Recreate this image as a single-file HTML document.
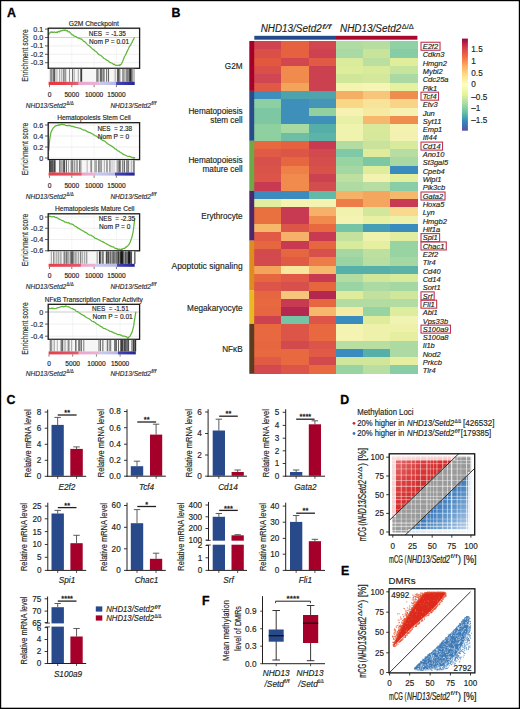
<!DOCTYPE html><html><head><meta charset="utf-8"><style>html,body{margin:0;padding:0;background:#fff;}svg{display:block;font-family:"Liberation Sans", sans-serif;}</style></head><body>
<svg width="520" height="709" viewBox="0 0 520 709">
<rect x="0" y="0" width="520" height="709" fill="#FFFFFF"/>
<text x="93.8" y="25.79" font-size="7.2" text-anchor="middle" fill="#231F20" stroke="#231F20" stroke-width="0.16" textLength="50" lengthAdjust="spacingAndGlyphs">G2M Checkpoint</text>
<line x1="48.2" y1="29.1" x2="139.6" y2="29.1" stroke="#E4E4E4" stroke-width="0.6"/>
<line x1="48.2" y1="37.5" x2="139.6" y2="37.5" stroke="#E4E4E4" stroke-width="0.6"/>
<line x1="48.2" y1="45.9" x2="139.6" y2="45.9" stroke="#E4E4E4" stroke-width="0.6"/>
<line x1="48.2" y1="54.3" x2="139.6" y2="54.3" stroke="#E4E4E4" stroke-width="0.6"/>
<line x1="48.2" y1="62.7" x2="139.6" y2="62.7" stroke="#E4E4E4" stroke-width="0.6"/>
<line x1="49.5" y1="28.2" x2="49.5" y2="68.3" stroke="#ECECEC" stroke-width="0.6"/>
<line x1="71.8" y1="28.2" x2="71.8" y2="68.3" stroke="#ECECEC" stroke-width="0.6"/>
<line x1="94.1" y1="28.2" x2="94.1" y2="68.3" stroke="#ECECEC" stroke-width="0.6"/>
<line x1="116.4" y1="28.2" x2="116.4" y2="68.3" stroke="#ECECEC" stroke-width="0.6"/>
<line x1="48.2" y1="37.5" x2="139.6" y2="37.5" stroke="#CFCFCF" stroke-width="0.9"/>
<path d="M48.8,33.85 L48.93,34.26 L49.07,33.98 L49.24,33.31 L49.44,33.21 L49.69,32.89 L49.99,32.79 L50.36,32.68 L50.8,31.97 L51.35,31.83 L52.01,32.46 L52.75,32.15 L53.53,32.45 L54.33,31.89 L55.11,32.28 L55.85,32.51 L56.5,32.08 L57.07,32.56 L57.6,32.41 L58.1,31.58 L58.57,31.42 L59.02,31.67 L59.47,31.83 L59.93,31.24 L60.4,30.97 L60.88,31.01 L61.36,30.56 L61.83,30.57 L62.31,30.61 L62.78,30.54 L63.25,30.23 L63.73,30.17 L64.2,30.14 L64.66,30.33 L65.1,30.2 L65.54,30.01 L65.98,30.72 L66.43,30.6 L66.91,30.82 L67.43,30.66 L68,31.59 L68.62,31.87 L69.26,31.75 L69.95,32.47 L70.66,33.37 L71.4,33.98 L72.17,34.78 L72.97,34.96 L73.8,35.83 L74.67,36.19 L75.59,36.35 L76.55,37.01 L77.53,37.67 L78.53,38.09 L79.53,38.3 L80.52,38.9 L81.5,39.06 L82.46,39.91 L83.42,41.1 L84.39,41.59 L85.35,42.23 L86.31,43.38 L87.28,44.37 L88.24,45.2 L89.2,45.8 L90.16,46.68 L91.12,47.59 L92.09,48.66 L93.05,49.31 L94.01,50.07 L94.98,50.98 L95.94,51.44 L96.9,52.25 L97.86,53.56 L98.83,54.56 L99.79,55 L100.75,55.58 L101.71,56.13 L102.67,57.11 L103.64,58.2 L104.6,58.72 L105.58,59.22 L106.59,60.19 L107.61,60.38 L108.63,61.29 L109.62,62.29 L110.58,62.6 L111.48,63.04 L112.3,63.36 L113.04,63.97 L113.72,64.62 L114.35,64.13 L114.94,64.97 L115.49,65.18 L116.03,65.36 L116.56,65.35 L117.1,65.47 L117.64,65.28 L118.16,65.35 L118.68,65.25 L119.17,64.92 L119.66,65.47 L120.12,65.06 L120.57,64.5 L121,64.38 L121.4,63.89 L121.75,63.21 L122.08,62.53 L122.4,61.94 L122.72,61.21 L123.05,60.36 L123.4,59.36 L123.8,58.12 L124.24,57.34 L124.7,56.28 L125.19,55.53 L125.69,54.64 L126.2,53.48 L126.71,52.38 L127.21,51.34 L127.7,49.9 L128.18,49.45 L128.67,48.42 L129.16,47.09 L129.65,46.2 L130.13,45.38 L130.6,45.17 L131.06,43.97 L131.5,43.07 L131.94,42.66 L132.4,41.59 L132.85,40.51 L133.29,39.75 L133.7,39.26 L134.06,38.27 L134.37,37.77 L134.6,37.67" fill="none" stroke="#5FB636" stroke-width="1.25" stroke-linejoin="round"/>
<rect x="48.2" y="28.2" width="91.4" height="40.1" fill="none" stroke="#1A1A1A" stroke-width="1.3"/>
<line x1="45" y1="29.1" x2="48.2" y2="29.1" stroke="#333" stroke-width="0.8"/>
<text x="43.2" y="31.69" font-size="7.2" text-anchor="end" fill="#2A2A2A" stroke="#2A2A2A" stroke-width="0.16">0.1</text>
<line x1="45" y1="37.5" x2="48.2" y2="37.5" stroke="#333" stroke-width="0.8"/>
<text x="43.2" y="40.09" font-size="7.2" text-anchor="end" fill="#2A2A2A" stroke="#2A2A2A" stroke-width="0.16">0.0</text>
<line x1="45" y1="45.9" x2="48.2" y2="45.9" stroke="#333" stroke-width="0.8"/>
<text x="43.2" y="48.49" font-size="7.2" text-anchor="end" fill="#2A2A2A" stroke="#2A2A2A" stroke-width="0.16">-0.1</text>
<line x1="45" y1="54.3" x2="48.2" y2="54.3" stroke="#333" stroke-width="0.8"/>
<text x="43.2" y="56.89" font-size="7.2" text-anchor="end" fill="#2A2A2A" stroke="#2A2A2A" stroke-width="0.16">-0.2</text>
<line x1="45" y1="62.7" x2="48.2" y2="62.7" stroke="#333" stroke-width="0.8"/>
<text x="43.2" y="65.29" font-size="7.2" text-anchor="end" fill="#2A2A2A" stroke="#2A2A2A" stroke-width="0.16">-0.3</text>
<text x="24.8" y="58.5" font-size="8.6" text-anchor="middle" fill="#333" stroke="#333" stroke-width="0.16" textLength="52.5" lengthAdjust="spacingAndGlyphs" transform="rotate(-90 24.8 55.4)">Enrichment score</text>
<text x="88.8" y="35.72" font-size="7" text-anchor="start" fill="#222" stroke="#222" stroke-width="0.16" textLength="37" lengthAdjust="spacingAndGlyphs">NES&#160;&#160;= -1.35</text>
<text x="89.1" y="43.72" font-size="7" text-anchor="start" fill="#222" stroke="#222" stroke-width="0.16" textLength="40" lengthAdjust="spacingAndGlyphs">Nom P = 0.01</text>
<rect x="48.7" y="68.9" width="86.4" height="12.9" fill="#F6F6F6"/>
<rect x="49.87" y="68.9" width="0.95" height="12.9" fill="rgb(132,132,132)"/>
<rect x="53.47" y="68.9" width="0.73" height="12.9" fill="rgb(105,105,105)"/>
<rect x="54.15" y="68.9" width="0.8" height="12.9" fill="rgb(67,67,67)"/>
<rect x="55.55" y="68.9" width="0.85" height="12.9" fill="rgb(144,144,144)"/>
<rect x="51.67" y="68.9" width="0.54" height="12.9" fill="rgb(144,144,144)"/>
<rect x="51.56" y="68.9" width="0.72" height="12.9" fill="rgb(47,47,47)"/>
<rect x="53.46" y="68.9" width="0.74" height="12.9" fill="rgb(67,67,67)"/>
<rect x="56.88" y="68.9" width="0.71" height="12.9" fill="rgb(192,192,192)"/>
<rect x="59.1" y="68.9" width="0.65" height="12.9" fill="rgb(144,144,144)"/>
<rect x="59.4" y="68.9" width="0.84" height="12.9" fill="rgb(172,172,172)"/>
<rect x="62.89" y="68.9" width="0.7" height="12.9" fill="rgb(105,105,105)"/>
<rect x="61.09" y="68.9" width="0.54" height="12.9" fill="rgb(144,144,144)"/>
<rect x="63.39" y="68.9" width="0.5" height="12.9" fill="rgb(144,144,144)"/>
<rect x="61.62" y="68.9" width="0.55" height="12.9" fill="rgb(172,172,172)"/>
<rect x="63.71" y="68.9" width="0.85" height="12.9" fill="rgb(105,105,105)"/>
<rect x="65.07" y="68.9" width="0.91" height="12.9" fill="rgb(189,189,189)"/>
<rect x="72.29" y="68.9" width="0.59" height="12.9" fill="rgb(168,168,168)"/>
<rect x="65.49" y="68.9" width="0.7" height="12.9" fill="rgb(110,110,110)"/>
<rect x="72.33" y="68.9" width="0.95" height="12.9" fill="rgb(139,139,139)"/>
<rect x="69.21" y="68.9" width="0.75" height="12.9" fill="rgb(110,110,110)"/>
<rect x="80.46" y="68.9" width="0.93" height="12.9" fill="rgb(122,122,122)"/>
<rect x="74.07" y="68.9" width="0.84" height="12.9" fill="rgb(181,181,181)"/>
<rect x="72.45" y="68.9" width="0.53" height="12.9" fill="rgb(72,72,72)"/>
<rect x="77.7" y="68.9" width="0.97" height="12.9" fill="rgb(181,181,181)"/>
<rect x="80.46" y="68.9" width="0.84" height="12.9" fill="rgb(72,72,72)"/>
<rect x="78.01" y="68.9" width="0.9" height="12.9" fill="rgb(181,181,181)"/>
<rect x="81.29" y="68.9" width="0.84" height="12.9" fill="rgb(23,23,23)"/>
<rect x="96.76" y="68.9" width="0.87" height="12.9" fill="rgb(110,110,110)"/>
<rect x="96.24" y="68.9" width="0.99" height="12.9" fill="rgb(168,168,168)"/>
<rect x="97.49" y="68.9" width="0.98" height="12.9" fill="rgb(96,96,96)"/>
<rect x="96.11" y="68.9" width="0.69" height="12.9" fill="rgb(139,139,139)"/>
<rect x="98.54" y="68.9" width="0.84" height="12.9" fill="rgb(168,168,168)"/>
<rect x="101.15" y="68.9" width="0.6" height="12.9" fill="rgb(36,36,36)"/>
<rect x="104.11" y="68.9" width="0.55" height="12.9" fill="rgb(97,97,97)"/>
<rect x="106.44" y="68.9" width="0.73" height="12.9" fill="rgb(97,97,97)"/>
<rect x="101.82" y="68.9" width="0.99" height="12.9" fill="rgb(168,168,168)"/>
<rect x="106.11" y="68.9" width="0.62" height="12.9" fill="rgb(97,97,97)"/>
<rect x="100.53" y="68.9" width="0.51" height="12.9" fill="rgb(56,56,56)"/>
<rect x="103.7" y="68.9" width="0.73" height="12.9" fill="rgb(168,168,168)"/>
<rect x="103.12" y="68.9" width="0.62" height="12.9" fill="rgb(97,97,97)"/>
<rect x="100.46" y="68.9" width="0.78" height="12.9" fill="rgb(56,56,56)"/>
<rect x="102.82" y="68.9" width="0.51" height="12.9" fill="rgb(97,97,97)"/>
<rect x="108.24" y="68.9" width="0.84" height="12.9" fill="rgb(139,139,139)"/>
<rect x="115.32" y="68.9" width="0.82" height="12.9" fill="rgb(168,168,168)"/>
<rect x="113.93" y="68.9" width="0.53" height="12.9" fill="rgb(189,189,189)"/>
<rect x="108.38" y="68.9" width="0.57" height="12.9" fill="rgb(96,96,96)"/>
<rect x="108.13" y="68.9" width="0.72" height="12.9" fill="rgb(96,96,96)"/>
<rect x="117.43" y="68.9" width="0.76" height="12.9" fill="rgb(88,88,88)"/>
<rect x="117.36" y="68.9" width="0.56" height="12.9" fill="rgb(45,45,45)"/>
<rect x="126.08" y="68.9" width="0.65" height="12.9" fill="rgb(80,80,80)"/>
<rect x="122.46" y="68.9" width="0.62" height="12.9" fill="rgb(80,80,80)"/>
<rect x="124.44" y="68.9" width="0.99" height="12.9" fill="rgb(126,126,126)"/>
<rect x="129.12" y="68.9" width="0.52" height="12.9" fill="rgb(34,34,34)"/>
<rect x="132.69" y="68.9" width="0.72" height="12.9" fill="rgb(126,126,126)"/>
<rect x="118.76" y="68.9" width="0.86" height="12.9" fill="rgb(160,160,160)"/>
<rect x="132.07" y="68.9" width="0.99" height="12.9" fill="rgb(126,126,126)"/>
<rect x="127.15" y="68.9" width="0.51" height="12.9" fill="rgb(12,12,12)"/>
<rect x="131.73" y="68.9" width="0.89" height="12.9" fill="rgb(80,80,80)"/>
<rect x="132.13" y="68.9" width="0.87" height="12.9" fill="rgb(126,126,126)"/>
<rect x="130.69" y="68.9" width="0.52" height="12.9" fill="rgb(12,12,12)"/>
<rect x="130.88" y="68.9" width="0.82" height="12.9" fill="rgb(160,160,160)"/>
<rect x="128.23" y="68.9" width="0.9" height="12.9" fill="rgb(160,160,160)"/>
<rect x="123.02" y="68.9" width="0.57" height="12.9" fill="rgb(12,12,12)"/>
<rect x="128.56" y="68.9" width="0.55" height="12.9" fill="rgb(126,126,126)"/>
<rect x="118.09" y="68.9" width="0.61" height="12.9" fill="rgb(80,80,80)"/>
<rect x="129.79" y="68.9" width="0.99" height="12.9" fill="rgb(12,12,12)"/>
<rect x="128.86" y="68.9" width="0.59" height="12.9" fill="rgb(34,34,34)"/>
<rect x="131.56" y="68.9" width="0.72" height="12.9" fill="rgb(34,34,34)"/>
<rect x="118.56" y="68.9" width="0.95" height="12.9" fill="rgb(34,34,34)"/>
<rect x="131.94" y="68.9" width="0.94" height="12.9" fill="rgb(160,160,160)"/>
<rect x="119.55" y="68.9" width="0.97" height="12.9" fill="rgb(160,160,160)"/>
<rect x="122.93" y="68.9" width="0.95" height="12.9" fill="rgb(160,160,160)"/>
<rect x="133.84" y="68.9" width="0.95" height="12.9" fill="rgb(180,180,180)"/>
<linearGradient id="cb1" x1="0" x2="1" y1="0" y2="0"><stop offset="0" stop-color="#E8363F"/><stop offset="0.17" stop-color="#E5404A"/><stop offset="0.34" stop-color="#E06474"/><stop offset="0.35" stop-color="#EAA6CC"/><stop offset="0.58" stop-color="#E8B6D6"/><stop offset="0.59" stop-color="#CBCBEE"/><stop offset="0.78" stop-color="#B8B8E6"/><stop offset="0.79" stop-color="#4646B0"/><stop offset="1" stop-color="#24249A"/></linearGradient>
<rect x="48.6" y="81.8" width="86.1" height="3.2" fill="url(#cb1)"/>
<line x1="49.5" y1="85" x2="49.5" y2="87.2" stroke="#444" stroke-width="0.7"/>
<text x="49.5" y="96.58" font-size="6.6" text-anchor="middle" fill="#222" stroke="#222" stroke-width="0.16">0</text>
<line x1="71.8" y1="85" x2="71.8" y2="87.2" stroke="#444" stroke-width="0.7"/>
<text x="71.8" y="96.58" font-size="6.6" text-anchor="middle" fill="#222" stroke="#222" stroke-width="0.16">5000</text>
<line x1="94.1" y1="85" x2="94.1" y2="87.2" stroke="#444" stroke-width="0.7"/>
<text x="94.1" y="96.58" font-size="6.6" text-anchor="middle" fill="#222" stroke="#222" stroke-width="0.16">10000</text>
<line x1="116.4" y1="85" x2="116.4" y2="87.2" stroke="#444" stroke-width="0.7"/>
<text x="116.4" y="96.58" font-size="6.6" text-anchor="middle" fill="#222" stroke="#222" stroke-width="0.16">15000</text>
<text x="25.8" y="107.7" font-size="7" font-style="italic" fill="#2A2A2A" textLength="40.4" lengthAdjust="spacingAndGlyphs" stroke="#2A2A2A" stroke-width="0.15">NHD13/Setd2</text>
<text x="66.6" y="104.8" font-size="4.8" fill="#2A2A2A" textLength="7" lengthAdjust="spacingAndGlyphs" stroke="#2A2A2A" stroke-width="0.15">&#916;/&#916;</text>
<text x="110.4" y="107.7" font-size="7" font-style="italic" fill="#2A2A2A" textLength="40.4" lengthAdjust="spacingAndGlyphs" stroke="#2A2A2A" stroke-width="0.15">NHD13/Setd2</text>
<text x="151.2" y="104.8" font-size="4.8" font-style="italic" fill="#2A2A2A" textLength="5" lengthAdjust="spacingAndGlyphs" stroke="#2A2A2A" stroke-width="0.15">f/f</text>
<text x="94" y="120.19" font-size="7.2" text-anchor="middle" fill="#231F20" stroke="#231F20" stroke-width="0.16" textLength="73.7" lengthAdjust="spacingAndGlyphs">Hematopoiesis Stem Cell</text>
<line x1="48.2" y1="125" x2="139.6" y2="125" stroke="#E4E4E4" stroke-width="0.6"/>
<line x1="48.2" y1="136" x2="139.6" y2="136" stroke="#E4E4E4" stroke-width="0.6"/>
<line x1="48.2" y1="147" x2="139.6" y2="147" stroke="#E4E4E4" stroke-width="0.6"/>
<line x1="48.2" y1="158" x2="139.6" y2="158" stroke="#E4E4E4" stroke-width="0.6"/>
<line x1="49.5" y1="122.7" x2="49.5" y2="159.6" stroke="#ECECEC" stroke-width="0.6"/>
<line x1="71.8" y1="122.7" x2="71.8" y2="159.6" stroke="#ECECEC" stroke-width="0.6"/>
<line x1="94.1" y1="122.7" x2="94.1" y2="159.6" stroke="#ECECEC" stroke-width="0.6"/>
<line x1="116.4" y1="122.7" x2="116.4" y2="159.6" stroke="#ECECEC" stroke-width="0.6"/>
<path d="M48.8,150.39 L48.88,149.4 L48.99,147.36 L49.1,145.8 L49.24,144.66 L49.4,142.76 L49.58,140.92 L49.78,138.96 L50,137.73 L50.22,136.43 L50.45,135.15 L50.68,133.6 L50.93,132.66 L51.23,131.55 L51.58,130.8 L52,130.08 L52.5,129.21 L53.1,128.14 L53.8,127.41 L54.57,126.69 L55.39,126 L56.24,125.57 L57.1,125.55 L57.94,125.12 L58.75,124.9 L59.49,125.11 L60.17,124.69 L60.82,124.66 L61.48,124.39 L62.2,124.27 L63,124.6 L63.92,124.56 L65,125.01 L66.26,125.57 L67.69,125.52 L69.23,125.37 L70.86,126.23 L72.54,126.47 L74.23,126.79 L75.89,127.34 L77.5,127.69 L79.06,128.22 L80.62,128.43 L82.19,129.53 L83.75,130.16 L85.31,130.21 L86.88,131.4 L88.44,132.11 L90,132.67 L91.56,133.51 L93.12,134.31 L94.69,135.51 L96.25,136.05 L97.81,137.23 L99.38,137.78 L100.94,139.17 L102.5,140.17 L104.08,140.86 L105.68,142.05 L107.3,143.47 L108.91,144.48 L110.5,145.45 L112.05,146.36 L113.56,147.52 L115,148.81 L116.39,149.32 L117.73,150.82 L119.04,151.19 L120.31,152.54 L121.54,152.84 L122.73,154.09 L123.89,154.55 L125,154.98 L126.09,155.5 L127.18,156.03 L128.23,156.34 L129.24,156.42 L130.19,156.6 L131.06,157.07 L131.83,157.61 L132.5,157.55 L133.04,157.27 L133.47,157.99 L133.81,158 L134.07,158.21 L134.27,157.67 L134.43,158.14 L134.57,157.62 L134.7,158.12" fill="none" stroke="#5FB636" stroke-width="1.25" stroke-linejoin="round"/>
<rect x="48.2" y="122.7" width="91.4" height="36.9" fill="none" stroke="#1A1A1A" stroke-width="1.3"/>
<line x1="45" y1="125" x2="48.2" y2="125" stroke="#333" stroke-width="0.8"/>
<text x="43.2" y="127.59" font-size="7.2" text-anchor="end" fill="#2A2A2A" stroke="#2A2A2A" stroke-width="0.16">0.6</text>
<line x1="45" y1="136" x2="48.2" y2="136" stroke="#333" stroke-width="0.8"/>
<text x="43.2" y="138.59" font-size="7.2" text-anchor="end" fill="#2A2A2A" stroke="#2A2A2A" stroke-width="0.16">0.4</text>
<line x1="45" y1="147" x2="48.2" y2="147" stroke="#333" stroke-width="0.8"/>
<text x="43.2" y="149.59" font-size="7.2" text-anchor="end" fill="#2A2A2A" stroke="#2A2A2A" stroke-width="0.16">0.2</text>
<line x1="45" y1="158" x2="48.2" y2="158" stroke="#333" stroke-width="0.8"/>
<text x="43.2" y="160.59" font-size="7.2" text-anchor="end" fill="#2A2A2A" stroke="#2A2A2A" stroke-width="0.16">0</text>
<text x="24.8" y="152.1" font-size="8.6" text-anchor="middle" fill="#333" stroke="#333" stroke-width="0.16" textLength="52.5" lengthAdjust="spacingAndGlyphs" transform="rotate(-90 24.8 149)">Enrichment score</text>
<text x="97.5" y="130.72" font-size="7" text-anchor="start" fill="#222" stroke="#222" stroke-width="0.16" textLength="34.5" lengthAdjust="spacingAndGlyphs">NES&#160;&#160;= 2.38</text>
<text x="97.8" y="138.52" font-size="7" text-anchor="start" fill="#222" stroke="#222" stroke-width="0.16" textLength="31.3" lengthAdjust="spacingAndGlyphs">Nom P = 0</text>
<rect x="48.7" y="160.2" width="86.4" height="12.3" fill="#F6F6F6"/>
<rect x="50.04" y="160.2" width="0.68" height="12.3" fill="rgb(156,156,156)"/>
<rect x="52.88" y="160.2" width="0.59" height="12.3" fill="rgb(156,156,156)"/>
<rect x="51.05" y="160.2" width="0.78" height="12.3" fill="rgb(120,120,120)"/>
<rect x="49.3" y="160.2" width="0.77" height="12.3" fill="rgb(156,156,156)"/>
<rect x="54.22" y="160.2" width="0.87" height="12.3" fill="rgb(23,23,23)"/>
<rect x="51.64" y="160.2" width="0.76" height="12.3" fill="rgb(23,23,23)"/>
<rect x="49.59" y="160.2" width="0.84" height="12.3" fill="rgb(0,0,0)"/>
<rect x="53.27" y="160.2" width="0.95" height="12.3" fill="rgb(120,120,120)"/>
<rect x="54.86" y="160.2" width="0.76" height="12.3" fill="rgb(156,156,156)"/>
<rect x="52.44" y="160.2" width="0.82" height="12.3" fill="rgb(120,120,120)"/>
<rect x="53.69" y="160.2" width="0.81" height="12.3" fill="rgb(23,23,23)"/>
<rect x="54.8" y="160.2" width="0.84" height="12.3" fill="rgb(120,120,120)"/>
<rect x="52.57" y="160.2" width="0.72" height="12.3" fill="rgb(156,156,156)"/>
<rect x="51.79" y="160.2" width="0.68" height="12.3" fill="rgb(23,23,23)"/>
<rect x="49.5" y="160.2" width="0.82" height="12.3" fill="rgb(23,23,23)"/>
<rect x="64.22" y="160.2" width="0.81" height="12.3" fill="rgb(177,177,177)"/>
<rect x="74.33" y="160.2" width="0.91" height="12.3" fill="rgb(114,114,114)"/>
<rect x="68.15" y="160.2" width="0.82" height="12.3" fill="rgb(150,150,150)"/>
<rect x="66.19" y="160.2" width="0.84" height="12.3" fill="rgb(177,177,177)"/>
<rect x="63.42" y="160.2" width="0.8" height="12.3" fill="rgb(77,77,77)"/>
<rect x="73.38" y="160.2" width="0.58" height="12.3" fill="rgb(177,177,177)"/>
<rect x="71.9" y="160.2" width="0.76" height="12.3" fill="rgb(114,114,114)"/>
<rect x="63.57" y="160.2" width="0.97" height="12.3" fill="rgb(150,150,150)"/>
<rect x="59.27" y="160.2" width="0.89" height="12.3" fill="rgb(60,60,60)"/>
<rect x="65.94" y="160.2" width="0.86" height="12.3" fill="rgb(150,150,150)"/>
<rect x="63.89" y="160.2" width="0.61" height="12.3" fill="rgb(77,77,77)"/>
<rect x="64.51" y="160.2" width="0.61" height="12.3" fill="rgb(77,77,77)"/>
<rect x="63.88" y="160.2" width="0.8" height="12.3" fill="rgb(77,77,77)"/>
<rect x="66.1" y="160.2" width="0.54" height="12.3" fill="rgb(60,60,60)"/>
<rect x="63.39" y="160.2" width="0.56" height="12.3" fill="rgb(77,77,77)"/>
<rect x="70.75" y="160.2" width="0.71" height="12.3" fill="rgb(60,60,60)"/>
<rect x="62.04" y="160.2" width="0.71" height="12.3" fill="rgb(150,150,150)"/>
<rect x="60.62" y="160.2" width="0.84" height="12.3" fill="rgb(77,77,77)"/>
<rect x="71.83" y="160.2" width="0.51" height="12.3" fill="rgb(77,77,77)"/>
<rect x="59.56" y="160.2" width="0.79" height="12.3" fill="rgb(150,150,150)"/>
<rect x="80.18" y="160.2" width="0.63" height="12.3" fill="rgb(110,110,110)"/>
<rect x="98.53" y="160.2" width="0.83" height="12.3" fill="rgb(168,168,168)"/>
<rect x="94.11" y="160.2" width="0.57" height="12.3" fill="rgb(168,168,168)"/>
<rect x="81.37" y="160.2" width="0.61" height="12.3" fill="rgb(168,168,168)"/>
<rect x="91.23" y="160.2" width="0.85" height="12.3" fill="rgb(110,110,110)"/>
<rect x="98.99" y="160.2" width="0.74" height="12.3" fill="rgb(96,96,96)"/>
<rect x="95.92" y="160.2" width="0.84" height="12.3" fill="rgb(139,139,139)"/>
<rect x="79.08" y="160.2" width="0.93" height="12.3" fill="rgb(110,110,110)"/>
<rect x="76.51" y="160.2" width="0.83" height="12.3" fill="rgb(110,110,110)"/>
<rect x="98" y="160.2" width="0.73" height="12.3" fill="rgb(110,110,110)"/>
<rect x="90.04" y="160.2" width="0.87" height="12.3" fill="rgb(168,168,168)"/>
<rect x="76.86" y="160.2" width="0.77" height="12.3" fill="rgb(139,139,139)"/>
<rect x="86.71" y="160.2" width="0.84" height="12.3" fill="rgb(168,168,168)"/>
<rect x="94.83" y="160.2" width="0.63" height="12.3" fill="rgb(96,96,96)"/>
<rect x="99.48" y="160.2" width="0.58" height="12.3" fill="rgb(189,189,189)"/>
<rect x="99.99" y="160.2" width="0.53" height="12.3" fill="rgb(110,110,110)"/>
<rect x="126.23" y="160.2" width="0.98" height="12.3" fill="rgb(99,99,99)"/>
<rect x="101.07" y="160.2" width="0.74" height="12.3" fill="rgb(185,185,185)"/>
<rect x="120.05" y="160.2" width="0.74" height="12.3" fill="rgb(99,99,99)"/>
<rect x="109.44" y="160.2" width="0.98" height="12.3" fill="rgb(99,99,99)"/>
<rect x="119.15" y="160.2" width="0.9" height="12.3" fill="rgb(84,84,84)"/>
<rect x="124.07" y="160.2" width="0.88" height="12.3" fill="rgb(84,84,84)"/>
<rect x="122.44" y="160.2" width="0.96" height="12.3" fill="rgb(99,99,99)"/>
<rect x="126.88" y="160.2" width="0.93" height="12.3" fill="rgb(99,99,99)"/>
<rect x="113.74" y="160.2" width="0.57" height="12.3" fill="rgb(162,162,162)"/>
<rect x="111.72" y="160.2" width="0.64" height="12.3" fill="rgb(162,162,162)"/>
<rect x="109.03" y="160.2" width="0.62" height="12.3" fill="rgb(162,162,162)"/>
<rect x="116.73" y="160.2" width="0.7" height="12.3" fill="rgb(99,99,99)"/>
<rect x="101.39" y="160.2" width="0.67" height="12.3" fill="rgb(130,130,130)"/>
<rect x="118.57" y="160.2" width="0.8" height="12.3" fill="rgb(84,84,84)"/>
<rect x="126.64" y="160.2" width="1" height="12.3" fill="rgb(162,162,162)"/>
<rect x="100.64" y="160.2" width="0.51" height="12.3" fill="rgb(162,162,162)"/>
<rect x="103.91" y="160.2" width="0.76" height="12.3" fill="rgb(130,130,130)"/>
<rect x="133.62" y="160.2" width="0.96" height="12.3" fill="rgb(84,84,84)"/>
<rect x="133.41" y="160.2" width="0.53" height="12.3" fill="rgb(162,162,162)"/>
<rect x="106.82" y="160.2" width="0.99" height="12.3" fill="rgb(162,162,162)"/>
<rect x="132.87" y="160.2" width="0.63" height="12.3" fill="rgb(99,99,99)"/>
<rect x="106.32" y="160.2" width="0.87" height="12.3" fill="rgb(130,130,130)"/>
<rect x="128.18" y="160.2" width="0.92" height="12.3" fill="rgb(99,99,99)"/>
<rect x="121.93" y="160.2" width="0.82" height="12.3" fill="rgb(130,130,130)"/>
<rect x="103.94" y="160.2" width="0.93" height="12.3" fill="rgb(185,185,185)"/>
<rect x="130.85" y="160.2" width="0.64" height="12.3" fill="rgb(130,130,130)"/>
<rect x="117.78" y="160.2" width="0.6" height="12.3" fill="rgb(99,99,99)"/>
<linearGradient id="cb2" x1="0" x2="1" y1="0" y2="0"><stop offset="0" stop-color="#E53E4A"/><stop offset="0.38" stop-color="#E05A6A"/><stop offset="0.385" stop-color="#EAA6CC"/><stop offset="0.55" stop-color="#E8B6D6"/><stop offset="0.555" stop-color="#CBCBEE"/><stop offset="0.77" stop-color="#B8B8E6"/><stop offset="0.775" stop-color="#4646B0"/><stop offset="1" stop-color="#24249A"/></linearGradient>
<rect x="48.6" y="172.5" width="86.1" height="3.1" fill="url(#cb2)"/>
<line x1="49.5" y1="175.6" x2="49.5" y2="177.8" stroke="#444" stroke-width="0.7"/>
<text x="49.5" y="187.58" font-size="6.6" text-anchor="middle" fill="#222" stroke="#222" stroke-width="0.16">0</text>
<line x1="71.8" y1="175.6" x2="71.8" y2="177.8" stroke="#444" stroke-width="0.7"/>
<text x="71.8" y="187.58" font-size="6.6" text-anchor="middle" fill="#222" stroke="#222" stroke-width="0.16">5000</text>
<line x1="94.1" y1="175.6" x2="94.1" y2="177.8" stroke="#444" stroke-width="0.7"/>
<text x="94.1" y="187.58" font-size="6.6" text-anchor="middle" fill="#222" stroke="#222" stroke-width="0.16">10000</text>
<line x1="116.4" y1="175.6" x2="116.4" y2="177.8" stroke="#444" stroke-width="0.7"/>
<text x="116.4" y="187.58" font-size="6.6" text-anchor="middle" fill="#222" stroke="#222" stroke-width="0.16">15000</text>
<text x="25.8" y="198.5" font-size="7" font-style="italic" fill="#2A2A2A" textLength="40.4" lengthAdjust="spacingAndGlyphs" stroke="#2A2A2A" stroke-width="0.15">NHD13/Setd2</text>
<text x="66.6" y="195.6" font-size="4.8" fill="#2A2A2A" textLength="7" lengthAdjust="spacingAndGlyphs" stroke="#2A2A2A" stroke-width="0.15">&#916;/&#916;</text>
<text x="110.4" y="198.5" font-size="7" font-style="italic" fill="#2A2A2A" textLength="40.4" lengthAdjust="spacingAndGlyphs" stroke="#2A2A2A" stroke-width="0.15">NHD13/Setd2</text>
<text x="151.2" y="195.6" font-size="4.8" font-style="italic" fill="#2A2A2A" textLength="5" lengthAdjust="spacingAndGlyphs" stroke="#2A2A2A" stroke-width="0.15">f/f</text>
<text x="94.8" y="211.39" font-size="7.2" text-anchor="middle" fill="#231F20" stroke="#231F20" stroke-width="0.16" textLength="79.5" lengthAdjust="spacingAndGlyphs">Hematopoiesis Mature Cell</text>
<line x1="48.2" y1="217" x2="139.6" y2="217" stroke="#E4E4E4" stroke-width="0.6"/>
<line x1="48.2" y1="228.26" x2="139.6" y2="228.26" stroke="#E4E4E4" stroke-width="0.6"/>
<line x1="48.2" y1="239.52" x2="139.6" y2="239.52" stroke="#E4E4E4" stroke-width="0.6"/>
<line x1="48.2" y1="250.78" x2="139.6" y2="250.78" stroke="#E4E4E4" stroke-width="0.6"/>
<line x1="49.5" y1="213.8" x2="49.5" y2="250.8" stroke="#ECECEC" stroke-width="0.6"/>
<line x1="71.8" y1="213.8" x2="71.8" y2="250.8" stroke="#ECECEC" stroke-width="0.6"/>
<line x1="94.1" y1="213.8" x2="94.1" y2="250.8" stroke="#ECECEC" stroke-width="0.6"/>
<line x1="116.4" y1="213.8" x2="116.4" y2="250.8" stroke="#ECECEC" stroke-width="0.6"/>
<path d="M48.8,216 L49.39,216.34 L50.18,216.32 L51.12,216.63 L52.17,216.81 L53.27,216.54 L54.39,216.72 L55.48,217.64 L56.5,217.48 L57.46,217.84 L58.42,218.89 L59.39,218.96 L60.35,219.77 L61.31,220.02 L62.28,220.67 L63.24,220.78 L64.2,221.61 L65.14,222.17 L66.03,222.21 L66.92,222.65 L67.81,222.87 L68.73,222.67 L69.7,223.57 L70.75,223.86 L71.9,224.16 L73.16,224.6 L74.53,226.02 L75.97,226.54 L77.46,227.63 L78.99,228.67 L80.52,229.46 L82.03,230.54 L83.5,230.99 L84.94,232.17 L86.38,232.74 L87.82,233.99 L89.26,234.81 L90.69,235.04 L92.13,235.91 L93.56,236.8 L95,238.2 L96.46,238.57 L97.96,239.52 L99.48,240.05 L100.99,240.99 L102.47,241.64 L103.89,242.32 L105.24,243.19 L106.5,243.81 L107.66,244.64 L108.76,245 L109.79,245.7 L110.77,246.1 L111.69,246.65 L112.57,246.8 L113.4,246.77 L114.2,247.69 L114.94,248.12 L115.6,248.4 L116.21,248.44 L116.78,248.84 L117.33,248.68 L117.87,249.38 L118.42,249.33 L119,249.2 L119.6,249.07 L120.2,249.72 L120.8,249.79 L121.39,248.99 L121.99,249.44 L122.59,248.95 L123.2,248.52 L123.8,248.36 L124.42,248.44 L125.04,248.19 L125.68,247.16 L126.31,247.19 L126.94,246.25 L127.55,246.22 L128.14,245.23 L128.7,244.89 L129.24,244.1 L129.76,242.78 L130.27,242.16 L130.76,240.49 L131.23,239.09 L131.67,238.17 L132.1,236.25 L132.5,234.77 L132.88,233.02 L133.25,230.89 L133.61,228.01 L133.94,225.33 L134.24,223.47 L134.5,220.73 L134.72,219.33 L134.9,217.88" fill="none" stroke="#5FB636" stroke-width="1.25" stroke-linejoin="round"/>
<rect x="48.2" y="213.8" width="91.4" height="37" fill="none" stroke="#1A1A1A" stroke-width="1.3"/>
<line x1="45" y1="217" x2="48.2" y2="217" stroke="#333" stroke-width="0.8"/>
<text x="43.2" y="219.59" font-size="7.2" text-anchor="end" fill="#2A2A2A" stroke="#2A2A2A" stroke-width="0.16">0</text>
<line x1="45" y1="228.26" x2="48.2" y2="228.26" stroke="#333" stroke-width="0.8"/>
<text x="43.2" y="230.85" font-size="7.2" text-anchor="end" fill="#2A2A2A" stroke="#2A2A2A" stroke-width="0.16">-0.2</text>
<line x1="45" y1="239.52" x2="48.2" y2="239.52" stroke="#333" stroke-width="0.8"/>
<text x="43.2" y="242.11" font-size="7.2" text-anchor="end" fill="#2A2A2A" stroke="#2A2A2A" stroke-width="0.16">-0.4</text>
<line x1="45" y1="250.78" x2="48.2" y2="250.78" stroke="#333" stroke-width="0.8"/>
<text x="43.2" y="253.37" font-size="7.2" text-anchor="end" fill="#2A2A2A" stroke="#2A2A2A" stroke-width="0.16">-0.6</text>
<text x="24.8" y="243.1" font-size="8.6" text-anchor="middle" fill="#333" stroke="#333" stroke-width="0.16" textLength="52.5" lengthAdjust="spacingAndGlyphs" transform="rotate(-90 24.8 240)">Enrichment score</text>
<text x="98.8" y="221.42" font-size="7" text-anchor="start" fill="#222" stroke="#222" stroke-width="0.16" textLength="36.2" lengthAdjust="spacingAndGlyphs">NES&#160;&#160;= -2.35</text>
<text x="99.1" y="228.92" font-size="7" text-anchor="start" fill="#222" stroke="#222" stroke-width="0.16" textLength="31.3" lengthAdjust="spacingAndGlyphs">Nom P = 0</text>
<rect x="48.7" y="251.4" width="86.4" height="12.4" fill="#F6F6F6"/>
<rect x="64.66" y="251.4" width="0.97" height="12.4" fill="rgb(168,168,168)"/>
<rect x="60.14" y="251.4" width="0.84" height="12.4" fill="rgb(110,110,110)"/>
<rect x="63.6" y="251.4" width="0.83" height="12.4" fill="rgb(96,96,96)"/>
<rect x="56.38" y="251.4" width="0.94" height="12.4" fill="rgb(139,139,139)"/>
<rect x="50.9" y="251.4" width="0.57" height="12.4" fill="rgb(96,96,96)"/>
<rect x="58.33" y="251.4" width="0.52" height="12.4" fill="rgb(96,96,96)"/>
<rect x="64.39" y="251.4" width="0.8" height="12.4" fill="rgb(110,110,110)"/>
<rect x="53.7" y="251.4" width="0.93" height="12.4" fill="rgb(168,168,168)"/>
<rect x="58.29" y="251.4" width="0.61" height="12.4" fill="rgb(168,168,168)"/>
<rect x="59.52" y="251.4" width="0.62" height="12.4" fill="rgb(189,189,189)"/>
<rect x="54.91" y="251.4" width="0.61" height="12.4" fill="rgb(189,189,189)"/>
<rect x="60.09" y="251.4" width="0.74" height="12.4" fill="rgb(189,189,189)"/>
<rect x="53.02" y="251.4" width="0.95" height="12.4" fill="rgb(139,139,139)"/>
<rect x="61.12" y="251.4" width="0.94" height="12.4" fill="rgb(189,189,189)"/>
<rect x="63.31" y="251.4" width="0.6" height="12.4" fill="rgb(189,189,189)"/>
<rect x="70.76" y="251.4" width="0.74" height="12.4" fill="rgb(67,67,67)"/>
<rect x="66.6" y="251.4" width="0.76" height="12.4" fill="rgb(153,153,153)"/>
<rect x="75.11" y="251.4" width="0.96" height="12.4" fill="rgb(153,153,153)"/>
<rect x="66.06" y="251.4" width="0.65" height="12.4" fill="rgb(67,67,67)"/>
<rect x="72.35" y="251.4" width="0.99" height="12.4" fill="rgb(67,67,67)"/>
<rect x="71.2" y="251.4" width="0.85" height="12.4" fill="rgb(67,67,67)"/>
<rect x="68.21" y="251.4" width="0.74" height="12.4" fill="rgb(179,179,179)"/>
<rect x="71.83" y="251.4" width="0.91" height="12.4" fill="rgb(153,153,153)"/>
<rect x="69.89" y="251.4" width="0.59" height="12.4" fill="rgb(67,67,67)"/>
<rect x="73.57" y="251.4" width="0.82" height="12.4" fill="rgb(119,119,119)"/>
<rect x="74.6" y="251.4" width="0.62" height="12.4" fill="rgb(179,179,179)"/>
<rect x="67.62" y="251.4" width="0.61" height="12.4" fill="rgb(84,84,84)"/>
<rect x="69.25" y="251.4" width="0.54" height="12.4" fill="rgb(179,179,179)"/>
<rect x="72.37" y="251.4" width="0.74" height="12.4" fill="rgb(67,67,67)"/>
<rect x="80.3" y="251.4" width="0.57" height="12.4" fill="rgb(189,189,189)"/>
<rect x="76.46" y="251.4" width="0.84" height="12.4" fill="rgb(139,139,139)"/>
<rect x="87.04" y="251.4" width="0.55" height="12.4" fill="rgb(189,189,189)"/>
<rect x="81.93" y="251.4" width="0.96" height="12.4" fill="rgb(168,168,168)"/>
<rect x="78.36" y="251.4" width="0.76" height="12.4" fill="rgb(139,139,139)"/>
<rect x="83.76" y="251.4" width="0.82" height="12.4" fill="rgb(189,189,189)"/>
<rect x="84.6" y="251.4" width="0.67" height="12.4" fill="rgb(168,168,168)"/>
<rect x="80.32" y="251.4" width="0.92" height="12.4" fill="rgb(96,96,96)"/>
<rect x="84.08" y="251.4" width="0.81" height="12.4" fill="rgb(168,168,168)"/>
<rect x="78.12" y="251.4" width="0.91" height="12.4" fill="rgb(168,168,168)"/>
<rect x="86.03" y="251.4" width="0.8" height="12.4" fill="rgb(139,139,139)"/>
<rect x="96.34" y="251.4" width="0.66" height="12.4" fill="rgb(198,198,198)"/>
<rect x="101.79" y="251.4" width="0.52" height="12.4" fill="rgb(168,168,168)"/>
<rect x="112.37" y="251.4" width="0.66" height="12.4" fill="rgb(138,138,138)"/>
<rect x="112.1" y="251.4" width="0.57" height="12.4" fill="rgb(138,138,138)"/>
<rect x="105.71" y="251.4" width="0.95" height="12.4" fill="rgb(138,138,138)"/>
<rect x="109.94" y="251.4" width="0.83" height="12.4" fill="rgb(168,168,168)"/>
<rect x="111.43" y="251.4" width="0.5" height="12.4" fill="rgb(168,168,168)"/>
<rect x="106.27" y="251.4" width="0.92" height="12.4" fill="rgb(36,36,36)"/>
<rect x="99.88" y="251.4" width="0.73" height="12.4" fill="rgb(168,168,168)"/>
<rect x="109.87" y="251.4" width="0.63" height="12.4" fill="rgb(36,36,36)"/>
<rect x="97.22" y="251.4" width="0.89" height="12.4" fill="rgb(168,168,168)"/>
<rect x="107.46" y="251.4" width="0.81" height="12.4" fill="rgb(36,36,36)"/>
<rect x="99.61" y="251.4" width="0.76" height="12.4" fill="rgb(56,56,56)"/>
<rect x="113.34" y="251.4" width="0.88" height="12.4" fill="rgb(36,36,36)"/>
<rect x="112.3" y="251.4" width="0.85" height="12.4" fill="rgb(97,97,97)"/>
<rect x="101.81" y="251.4" width="0.9" height="12.4" fill="rgb(36,36,36)"/>
<rect x="111.39" y="251.4" width="0.89" height="12.4" fill="rgb(168,168,168)"/>
<rect x="102.65" y="251.4" width="0.83" height="12.4" fill="rgb(138,138,138)"/>
<rect x="109.42" y="251.4" width="0.73" height="12.4" fill="rgb(168,168,168)"/>
<rect x="108.22" y="251.4" width="0.97" height="12.4" fill="rgb(56,56,56)"/>
<rect x="99.04" y="251.4" width="0.84" height="12.4" fill="rgb(97,97,97)"/>
<rect x="115.94" y="251.4" width="0.64" height="12.4" fill="rgb(168,168,168)"/>
<rect x="114.68" y="251.4" width="0.7" height="12.4" fill="rgb(138,138,138)"/>
<rect x="110.49" y="251.4" width="0.74" height="12.4" fill="rgb(97,97,97)"/>
<rect x="99.55" y="251.4" width="0.76" height="12.4" fill="rgb(56,56,56)"/>
<rect x="115.1" y="251.4" width="0.62" height="12.4" fill="rgb(168,168,168)"/>
<rect x="102.52" y="251.4" width="0.66" height="12.4" fill="rgb(138,138,138)"/>
<rect x="99.37" y="251.4" width="0.82" height="12.4" fill="rgb(36,36,36)"/>
<rect x="102.96" y="251.4" width="0.91" height="12.4" fill="rgb(138,138,138)"/>
<rect x="114.58" y="251.4" width="0.72" height="12.4" fill="rgb(56,56,56)"/>
<rect x="122.02" y="251.4" width="0.86" height="12.4" fill="rgb(77,77,77)"/>
<rect x="121.11" y="251.4" width="0.7" height="12.4" fill="rgb(158,158,158)"/>
<rect x="118.04" y="251.4" width="0.58" height="12.4" fill="rgb(77,77,77)"/>
<rect x="129.63" y="251.4" width="0.83" height="12.4" fill="rgb(77,77,77)"/>
<rect x="125.74" y="251.4" width="0.85" height="12.4" fill="rgb(123,123,123)"/>
<rect x="127.92" y="251.4" width="0.85" height="12.4" fill="rgb(7,7,7)"/>
<rect x="125.12" y="251.4" width="0.71" height="12.4" fill="rgb(30,30,30)"/>
<rect x="134.15" y="251.4" width="0.97" height="12.4" fill="rgb(77,77,77)"/>
<rect x="123.92" y="251.4" width="0.68" height="12.4" fill="rgb(77,77,77)"/>
<rect x="129.4" y="251.4" width="0.83" height="12.4" fill="rgb(158,158,158)"/>
<rect x="116.81" y="251.4" width="0.92" height="12.4" fill="rgb(7,7,7)"/>
<rect x="134.56" y="251.4" width="0.68" height="12.4" fill="rgb(30,30,30)"/>
<rect x="116.37" y="251.4" width="0.55" height="12.4" fill="rgb(77,77,77)"/>
<rect x="122.86" y="251.4" width="0.91" height="12.4" fill="rgb(7,7,7)"/>
<rect x="121.01" y="251.4" width="0.6" height="12.4" fill="rgb(30,30,30)"/>
<rect x="121.61" y="251.4" width="0.61" height="12.4" fill="rgb(30,30,30)"/>
<rect x="121.44" y="251.4" width="0.88" height="12.4" fill="rgb(30,30,30)"/>
<rect x="134.56" y="251.4" width="0.91" height="12.4" fill="rgb(158,158,158)"/>
<rect x="130.97" y="251.4" width="0.96" height="12.4" fill="rgb(77,77,77)"/>
<rect x="130.45" y="251.4" width="0.72" height="12.4" fill="rgb(77,77,77)"/>
<rect x="122.28" y="251.4" width="0.72" height="12.4" fill="rgb(30,30,30)"/>
<rect x="130.69" y="251.4" width="0.8" height="12.4" fill="rgb(77,77,77)"/>
<rect x="120.91" y="251.4" width="0.86" height="12.4" fill="rgb(30,30,30)"/>
<rect x="120.34" y="251.4" width="0.81" height="12.4" fill="rgb(7,7,7)"/>
<rect x="127.46" y="251.4" width="0.79" height="12.4" fill="rgb(123,123,123)"/>
<rect x="121.94" y="251.4" width="0.52" height="12.4" fill="rgb(30,30,30)"/>
<rect x="118.26" y="251.4" width="0.77" height="12.4" fill="rgb(77,77,77)"/>
<rect x="123.42" y="251.4" width="0.59" height="12.4" fill="rgb(77,77,77)"/>
<rect x="134.38" y="251.4" width="0.51" height="12.4" fill="rgb(123,123,123)"/>
<rect x="120.43" y="251.4" width="0.6" height="12.4" fill="rgb(123,123,123)"/>
<rect x="120.47" y="251.4" width="0.85" height="12.4" fill="rgb(7,7,7)"/>
<rect x="123.88" y="251.4" width="0.74" height="12.4" fill="rgb(158,158,158)"/>
<rect x="118.57" y="251.4" width="0.93" height="12.4" fill="rgb(7,7,7)"/>
<rect x="116.96" y="251.4" width="0.83" height="12.4" fill="rgb(123,123,123)"/>
<rect x="126.63" y="251.4" width="0.73" height="12.4" fill="rgb(7,7,7)"/>
<rect x="128.15" y="251.4" width="0.82" height="12.4" fill="rgb(30,30,30)"/>
<rect x="123.49" y="251.4" width="0.64" height="12.4" fill="rgb(123,123,123)"/>
<rect x="129.55" y="251.4" width="0.65" height="12.4" fill="rgb(7,7,7)"/>
<rect x="128.88" y="251.4" width="0.93" height="12.4" fill="rgb(7,7,7)"/>
<linearGradient id="cb3" x1="0" x2="1" y1="0" y2="0"><stop offset="0" stop-color="#E53E4A"/><stop offset="0.37" stop-color="#E05A6A"/><stop offset="0.375" stop-color="#EAA6CC"/><stop offset="0.54" stop-color="#E8B6D6"/><stop offset="0.545" stop-color="#CBCBEE"/><stop offset="0.79" stop-color="#B8B8E6"/><stop offset="0.795" stop-color="#4646B0"/><stop offset="1" stop-color="#24249A"/></linearGradient>
<rect x="48.6" y="263.8" width="86.1" height="3" fill="url(#cb3)"/>
<line x1="49.5" y1="266.8" x2="49.5" y2="269" stroke="#444" stroke-width="0.7"/>
<text x="49.5" y="278.18" font-size="6.6" text-anchor="middle" fill="#222" stroke="#222" stroke-width="0.16">0</text>
<line x1="71.8" y1="266.8" x2="71.8" y2="269" stroke="#444" stroke-width="0.7"/>
<text x="71.8" y="278.18" font-size="6.6" text-anchor="middle" fill="#222" stroke="#222" stroke-width="0.16">5000</text>
<line x1="94.1" y1="266.8" x2="94.1" y2="269" stroke="#444" stroke-width="0.7"/>
<text x="94.1" y="278.18" font-size="6.6" text-anchor="middle" fill="#222" stroke="#222" stroke-width="0.16">10000</text>
<line x1="116.4" y1="266.8" x2="116.4" y2="269" stroke="#444" stroke-width="0.7"/>
<text x="116.4" y="278.18" font-size="6.6" text-anchor="middle" fill="#222" stroke="#222" stroke-width="0.16">15000</text>
<text x="25.8" y="288.5" font-size="7" font-style="italic" fill="#2A2A2A" textLength="40.4" lengthAdjust="spacingAndGlyphs" stroke="#2A2A2A" stroke-width="0.15">NHD13/Setd2</text>
<text x="66.6" y="285.6" font-size="4.8" fill="#2A2A2A" textLength="7" lengthAdjust="spacingAndGlyphs" stroke="#2A2A2A" stroke-width="0.15">&#916;/&#916;</text>
<text x="110.4" y="288.5" font-size="7" font-style="italic" fill="#2A2A2A" textLength="40.4" lengthAdjust="spacingAndGlyphs" stroke="#2A2A2A" stroke-width="0.15">NHD13/Setd2</text>
<text x="151.2" y="285.6" font-size="4.8" font-style="italic" fill="#2A2A2A" textLength="5" lengthAdjust="spacingAndGlyphs" stroke="#2A2A2A" stroke-width="0.15">f/f</text>
<text x="93.8" y="302.19" font-size="7.2" text-anchor="middle" fill="#231F20" stroke="#231F20" stroke-width="0.16" textLength="98" lengthAdjust="spacingAndGlyphs">NF&#954;B Transcription Factor Activity</text>
<line x1="48.2" y1="312" x2="139.6" y2="312" stroke="#E4E4E4" stroke-width="0.6"/>
<line x1="48.2" y1="324.1" x2="139.6" y2="324.1" stroke="#E4E4E4" stroke-width="0.6"/>
<line x1="48.2" y1="336.2" x2="139.6" y2="336.2" stroke="#E4E4E4" stroke-width="0.6"/>
<line x1="49" y1="304.3" x2="49" y2="339.3" stroke="#ECECEC" stroke-width="0.6"/>
<line x1="72.7" y1="304.3" x2="72.7" y2="339.3" stroke="#ECECEC" stroke-width="0.6"/>
<line x1="96.4" y1="304.3" x2="96.4" y2="339.3" stroke="#ECECEC" stroke-width="0.6"/>
<line x1="120.1" y1="304.3" x2="120.1" y2="339.3" stroke="#ECECEC" stroke-width="0.6"/>
<line x1="48.2" y1="312" x2="139.6" y2="312" stroke="#CFCFCF" stroke-width="0.9"/>
<path d="M48.8,308.46 L49.39,308.32 L50.18,308.52 L51.12,308.29 L52.17,308.17 L53.27,308.37 L54.39,308.7 L55.48,308.5 L56.5,308.34 L57.49,307.72 L58.52,307.74 L59.56,307.27 L60.59,306.9 L61.6,306.57 L62.55,306.41 L63.42,306.79 L64.2,306.58 L64.83,306.48 L65.33,306.41 L65.73,305.89 L66.09,305.98 L66.45,306.28 L66.86,306.47 L67.36,306.73 L68,306.98 L68.78,306.66 L69.67,307.47 L70.64,307.99 L71.66,308.37 L72.71,308.66 L73.76,309.46 L74.8,309.72 L75.8,310.96 L76.74,311.44 L77.64,311.72 L78.53,312.06 L79.42,313.1 L80.34,313.42 L81.31,314.29 L82.36,314.93 L83.5,315.39 L84.76,316.13 L86.11,317.17 L87.53,317.98 L89.01,318.75 L90.52,319.86 L92.04,321.26 L93.54,321.61 L95,322.53 L96.44,323.88 L97.88,324.48 L99.31,325.56 L100.75,326.36 L102.19,327.09 L103.62,328.43 L105.06,328.56 L106.5,329.48 L107.96,330.02 L109.46,331.05 L110.98,331.42 L112.48,332.11 L113.96,333.02 L115.39,333.24 L116.74,333.96 L118,334.71 L119.19,334.5 L120.32,334.85 L121.41,335.33 L122.44,336.07 L123.4,336.23 L124.28,336.17 L125.08,336.47 L125.8,336.55 L126.39,336.98 L126.85,336.89 L127.21,337.64 L127.5,337.99 L127.76,338.16 L128.03,338 L128.33,338.06 L128.7,337.02 L129.14,336.78 L129.63,336.7 L130.14,335.8 L130.66,334.65 L131.17,334.15 L131.66,332.9 L132.11,332.04 L132.5,330.59 L132.83,329.44 L133.12,328.49 L133.37,327.03 L133.6,325.97 L133.81,325.16 L134,323.39 L134.2,321.88 L134.4,320.71 L134.61,319.59 L134.82,318.78 L135.02,317.12 L135.22,315.76 L135.4,314.39 L135.56,314 L135.7,312.64 L135.8,311.77" fill="none" stroke="#5FB636" stroke-width="1.25" stroke-linejoin="round"/>
<rect x="48.2" y="304.3" width="91.4" height="35" fill="none" stroke="#1A1A1A" stroke-width="1.3"/>
<line x1="45" y1="312" x2="48.2" y2="312" stroke="#333" stroke-width="0.8"/>
<text x="43.2" y="314.59" font-size="7.2" text-anchor="end" fill="#2A2A2A" stroke="#2A2A2A" stroke-width="0.16">0</text>
<line x1="45" y1="324.1" x2="48.2" y2="324.1" stroke="#333" stroke-width="0.8"/>
<text x="43.2" y="326.69" font-size="7.2" text-anchor="end" fill="#2A2A2A" stroke="#2A2A2A" stroke-width="0.16">-0.2</text>
<line x1="45" y1="336.2" x2="48.2" y2="336.2" stroke="#333" stroke-width="0.8"/>
<text x="43.2" y="338.79" font-size="7.2" text-anchor="end" fill="#2A2A2A" stroke="#2A2A2A" stroke-width="0.16">-0.4</text>
<text x="24.8" y="331.5" font-size="8.6" text-anchor="middle" fill="#333" stroke="#333" stroke-width="0.16" textLength="52.5" lengthAdjust="spacingAndGlyphs" transform="rotate(-90 24.8 328.4)">Enrichment score</text>
<text x="92.1" y="311.32" font-size="7" text-anchor="start" fill="#222" stroke="#222" stroke-width="0.16" textLength="36.6" lengthAdjust="spacingAndGlyphs">NES&#160;&#160;= -1.51</text>
<text x="92.4" y="318.82" font-size="7" text-anchor="start" fill="#222" stroke="#222" stroke-width="0.16" textLength="40.4" lengthAdjust="spacingAndGlyphs">Nom P = 0.01</text>
<rect x="48.7" y="339.9" width="86.4" height="11.5" fill="#F6F6F6"/>
<rect x="60.52" y="339.9" width="0.87" height="11.5" fill="rgb(121,121,121)"/>
<rect x="51.73" y="339.9" width="0.5" height="11.5" fill="rgb(147,147,147)"/>
<rect x="50.5" y="339.9" width="0.96" height="11.5" fill="rgb(107,107,107)"/>
<rect x="50.26" y="339.9" width="0.56" height="11.5" fill="rgb(121,121,121)"/>
<rect x="56.86" y="339.9" width="0.68" height="11.5" fill="rgb(147,147,147)"/>
<rect x="49.73" y="339.9" width="0.79" height="11.5" fill="rgb(121,121,121)"/>
<rect x="53.69" y="339.9" width="0.97" height="11.5" fill="rgb(147,147,147)"/>
<rect x="51.06" y="339.9" width="0.7" height="11.5" fill="rgb(147,147,147)"/>
<rect x="64.03" y="339.9" width="0.62" height="11.5" fill="rgb(168,168,168)"/>
<rect x="67.25" y="339.9" width="0.52" height="11.5" fill="rgb(168,168,168)"/>
<rect x="61.25" y="339.9" width="0.91" height="11.5" fill="rgb(36,36,36)"/>
<rect x="62.64" y="339.9" width="0.67" height="11.5" fill="rgb(138,138,138)"/>
<rect x="61.47" y="339.9" width="1" height="11.5" fill="rgb(168,168,168)"/>
<rect x="62.3" y="339.9" width="0.52" height="11.5" fill="rgb(36,36,36)"/>
<rect x="65.34" y="339.9" width="0.74" height="11.5" fill="rgb(168,168,168)"/>
<rect x="68.49" y="339.9" width="1" height="11.5" fill="rgb(110,110,110)"/>
<rect x="68.84" y="339.9" width="0.59" height="11.5" fill="rgb(189,189,189)"/>
<rect x="71.54" y="339.9" width="0.57" height="11.5" fill="rgb(96,96,96)"/>
<rect x="68.7" y="339.9" width="0.72" height="11.5" fill="rgb(189,189,189)"/>
<rect x="67.97" y="339.9" width="0.5" height="11.5" fill="rgb(96,96,96)"/>
<rect x="80.69" y="339.9" width="0.56" height="11.5" fill="rgb(56,56,56)"/>
<rect x="78.3" y="339.9" width="0.86" height="11.5" fill="rgb(168,168,168)"/>
<rect x="79.41" y="339.9" width="0.74" height="11.5" fill="rgb(168,168,168)"/>
<rect x="76.32" y="339.9" width="0.66" height="11.5" fill="rgb(138,138,138)"/>
<rect x="80.9" y="339.9" width="0.93" height="11.5" fill="rgb(36,36,36)"/>
<rect x="81.23" y="339.9" width="0.76" height="11.5" fill="rgb(138,138,138)"/>
<rect x="78.66" y="339.9" width="0.79" height="11.5" fill="rgb(36,36,36)"/>
<rect x="75.2" y="339.9" width="0.6" height="11.5" fill="rgb(36,36,36)"/>
<rect x="84.42" y="339.9" width="0.56" height="11.5" fill="rgb(180,180,180)"/>
<rect x="82.96" y="339.9" width="0.8" height="11.5" fill="rgb(132,132,132)"/>
<rect x="114.26" y="339.9" width="0.83" height="11.5" fill="rgb(177,177,177)"/>
<rect x="100.05" y="339.9" width="0.82" height="11.5" fill="rgb(77,77,77)"/>
<rect x="114.88" y="339.9" width="0.71" height="11.5" fill="rgb(60,60,60)"/>
<rect x="114.44" y="339.9" width="0.69" height="11.5" fill="rgb(77,77,77)"/>
<rect x="108.83" y="339.9" width="0.54" height="11.5" fill="rgb(77,77,77)"/>
<rect x="102.22" y="339.9" width="0.93" height="11.5" fill="rgb(77,77,77)"/>
<rect x="109.82" y="339.9" width="0.87" height="11.5" fill="rgb(60,60,60)"/>
<rect x="110.51" y="339.9" width="0.75" height="11.5" fill="rgb(150,150,150)"/>
<rect x="102.58" y="339.9" width="0.96" height="11.5" fill="rgb(177,177,177)"/>
<rect x="107.59" y="339.9" width="0.5" height="11.5" fill="rgb(150,150,150)"/>
<rect x="115.34" y="339.9" width="0.78" height="11.5" fill="rgb(114,114,114)"/>
<rect x="105.91" y="339.9" width="0.54" height="11.5" fill="rgb(177,177,177)"/>
<rect x="98.65" y="339.9" width="0.7" height="11.5" fill="rgb(60,60,60)"/>
<rect x="102.34" y="339.9" width="0.81" height="11.5" fill="rgb(150,150,150)"/>
<rect x="116.29" y="339.9" width="0.64" height="11.5" fill="rgb(150,150,150)"/>
<rect x="115.97" y="339.9" width="0.75" height="11.5" fill="rgb(77,77,77)"/>
<rect x="98.8" y="339.9" width="0.96" height="11.5" fill="rgb(177,177,177)"/>
<rect x="107.18" y="339.9" width="0.59" height="11.5" fill="rgb(60,60,60)"/>
<rect x="122.73" y="339.9" width="0.63" height="11.5" fill="rgb(23,23,23)"/>
<rect x="127.24" y="339.9" width="0.52" height="11.5" fill="rgb(132,132,132)"/>
<rect x="121.11" y="339.9" width="0.74" height="11.5" fill="rgb(45,45,45)"/>
<rect x="120.16" y="339.9" width="0.84" height="11.5" fill="rgb(23,23,23)"/>
<rect x="118.21" y="339.9" width="0.67" height="11.5" fill="rgb(132,132,132)"/>
<rect x="122.28" y="339.9" width="0.74" height="11.5" fill="rgb(164,164,164)"/>
<rect x="124.45" y="339.9" width="0.64" height="11.5" fill="rgb(23,23,23)"/>
<rect x="131.21" y="339.9" width="0.74" height="11.5" fill="rgb(88,88,88)"/>
<rect x="133.39" y="339.9" width="0.84" height="11.5" fill="rgb(164,164,164)"/>
<rect x="134.82" y="339.9" width="0.87" height="11.5" fill="rgb(164,164,164)"/>
<rect x="120.64" y="339.9" width="0.58" height="11.5" fill="rgb(88,88,88)"/>
<rect x="128.22" y="339.9" width="0.83" height="11.5" fill="rgb(45,45,45)"/>
<rect x="125.39" y="339.9" width="0.95" height="11.5" fill="rgb(164,164,164)"/>
<rect x="121.85" y="339.9" width="0.98" height="11.5" fill="rgb(45,45,45)"/>
<rect x="133.22" y="339.9" width="0.91" height="11.5" fill="rgb(23,23,23)"/>
<rect x="131.04" y="339.9" width="0.91" height="11.5" fill="rgb(164,164,164)"/>
<rect x="120.49" y="339.9" width="0.9" height="11.5" fill="rgb(23,23,23)"/>
<rect x="123.79" y="339.9" width="0.86" height="11.5" fill="rgb(45,45,45)"/>
<rect x="118.01" y="339.9" width="0.84" height="11.5" fill="rgb(88,88,88)"/>
<rect x="126.11" y="339.9" width="0.53" height="11.5" fill="rgb(45,45,45)"/>
<rect x="133.68" y="339.9" width="0.59" height="11.5" fill="rgb(88,88,88)"/>
<rect x="134.27" y="339.9" width="0.99" height="11.5" fill="rgb(88,88,88)"/>
<rect x="127.54" y="339.9" width="0.57" height="11.5" fill="rgb(23,23,23)"/>
<rect x="120.17" y="339.9" width="0.62" height="11.5" fill="rgb(164,164,164)"/>
<rect x="125.3" y="339.9" width="0.83" height="11.5" fill="rgb(45,45,45)"/>
<rect x="132.55" y="339.9" width="0.76" height="11.5" fill="rgb(45,45,45)"/>
<rect x="135.17" y="339.9" width="0.99" height="11.5" fill="rgb(23,23,23)"/>
<linearGradient id="cb4" x1="0" x2="1" y1="0" y2="0"><stop offset="0" stop-color="#E53E4A"/><stop offset="0.34" stop-color="#E05A6A"/><stop offset="0.345" stop-color="#EAA6CC"/><stop offset="0.58" stop-color="#E8B6D6"/><stop offset="0.585" stop-color="#CBCBEE"/><stop offset="0.79" stop-color="#B8B8E6"/><stop offset="0.795" stop-color="#4646B0"/><stop offset="1" stop-color="#24249A"/></linearGradient>
<rect x="48.6" y="351.4" width="87.2" height="3" fill="url(#cb4)"/>
<line x1="49" y1="354.4" x2="49" y2="356.6" stroke="#444" stroke-width="0.7"/>
<text x="49" y="366.18" font-size="6.6" text-anchor="middle" fill="#222" stroke="#222" stroke-width="0.16">0</text>
<line x1="72.7" y1="354.4" x2="72.7" y2="356.6" stroke="#444" stroke-width="0.7"/>
<text x="72.7" y="366.18" font-size="6.6" text-anchor="middle" fill="#222" stroke="#222" stroke-width="0.16">5000</text>
<line x1="96.4" y1="354.4" x2="96.4" y2="356.6" stroke="#444" stroke-width="0.7"/>
<text x="96.4" y="366.18" font-size="6.6" text-anchor="middle" fill="#222" stroke="#222" stroke-width="0.16">10000</text>
<line x1="120.1" y1="354.4" x2="120.1" y2="356.6" stroke="#444" stroke-width="0.7"/>
<text x="120.1" y="366.18" font-size="6.6" text-anchor="middle" fill="#222" stroke="#222" stroke-width="0.16">15000</text>
<text x="25.8" y="376" font-size="7" font-style="italic" fill="#2A2A2A" textLength="40.4" lengthAdjust="spacingAndGlyphs" stroke="#2A2A2A" stroke-width="0.15">NHD13/Setd2</text>
<text x="66.6" y="373.1" font-size="4.8" fill="#2A2A2A" textLength="7" lengthAdjust="spacingAndGlyphs" stroke="#2A2A2A" stroke-width="0.15">&#916;/&#916;</text>
<text x="110.4" y="376" font-size="7" font-style="italic" fill="#2A2A2A" textLength="40.4" lengthAdjust="spacingAndGlyphs" stroke="#2A2A2A" stroke-width="0.15">NHD13/Setd2</text>
<text x="151.2" y="373.1" font-size="4.8" font-style="italic" fill="#2A2A2A" textLength="5" lengthAdjust="spacingAndGlyphs" stroke="#2A2A2A" stroke-width="0.15">f/f</text>
<rect x="254" y="41" width="27.3" height="8.37" fill="#D04452" shape-rendering="crispEdges"/>
<rect x="281.25" y="41" width="27.3" height="8.37" fill="#E5613F" shape-rendering="crispEdges"/>
<rect x="308.5" y="41" width="27.3" height="8.37" fill="#D24650" shape-rendering="crispEdges"/>
<rect x="335.75" y="41" width="27.3" height="8.37" fill="#B0DBA3" shape-rendering="crispEdges"/>
<rect x="363" y="41" width="27.3" height="8.37" fill="#B8DDA0" shape-rendering="crispEdges"/>
<rect x="390.25" y="41" width="27.3" height="8.37" fill="#8FD0A4" shape-rendering="crispEdges"/>
<rect x="254" y="49.32" width="27.3" height="8.37" fill="#DA4F48" shape-rendering="crispEdges"/>
<rect x="281.25" y="49.32" width="27.3" height="8.37" fill="#E5613F" shape-rendering="crispEdges"/>
<rect x="308.5" y="49.32" width="27.3" height="8.37" fill="#CC4250" shape-rendering="crispEdges"/>
<rect x="335.75" y="49.32" width="27.3" height="8.37" fill="#A9D9A4" shape-rendering="crispEdges"/>
<rect x="363" y="49.32" width="27.3" height="8.37" fill="#C8E49A" shape-rendering="crispEdges"/>
<rect x="390.25" y="49.32" width="27.3" height="8.37" fill="#86CDA6" shape-rendering="crispEdges"/>
<rect x="254" y="57.64" width="27.3" height="8.37" fill="#E2583F" shape-rendering="crispEdges"/>
<rect x="281.25" y="57.64" width="27.3" height="8.37" fill="#D24650" shape-rendering="crispEdges"/>
<rect x="308.5" y="57.64" width="27.3" height="8.37" fill="#E05A45" shape-rendering="crispEdges"/>
<rect x="335.75" y="57.64" width="27.3" height="8.37" fill="#D9EC9C" shape-rendering="crispEdges"/>
<rect x="363" y="57.64" width="27.3" height="8.37" fill="#BADFA0" shape-rendering="crispEdges"/>
<rect x="390.25" y="57.64" width="27.3" height="8.37" fill="#E0EE9C" shape-rendering="crispEdges"/>
<rect x="254" y="65.96" width="27.3" height="8.37" fill="#DA4F48" shape-rendering="crispEdges"/>
<rect x="281.25" y="65.96" width="27.3" height="8.37" fill="#F08A4D" shape-rendering="crispEdges"/>
<rect x="308.5" y="65.96" width="27.3" height="8.37" fill="#CB4150" shape-rendering="crispEdges"/>
<rect x="335.75" y="65.96" width="27.3" height="8.37" fill="#DDED9C" shape-rendering="crispEdges"/>
<rect x="363" y="65.96" width="27.3" height="8.37" fill="#D9EB9A" shape-rendering="crispEdges"/>
<rect x="390.25" y="65.96" width="27.3" height="8.37" fill="#C7E49C" shape-rendering="crispEdges"/>
<rect x="254" y="74.28" width="27.3" height="8.37" fill="#D04753" shape-rendering="crispEdges"/>
<rect x="281.25" y="74.28" width="27.3" height="8.37" fill="#F08A4D" shape-rendering="crispEdges"/>
<rect x="308.5" y="74.28" width="27.3" height="8.37" fill="#CB4150" shape-rendering="crispEdges"/>
<rect x="335.75" y="74.28" width="27.3" height="8.37" fill="#D0E79A" shape-rendering="crispEdges"/>
<rect x="363" y="74.28" width="27.3" height="8.37" fill="#D3E89B" shape-rendering="crispEdges"/>
<rect x="390.25" y="74.28" width="27.3" height="8.37" fill="#AAD9A4" shape-rendering="crispEdges"/>
<rect x="254" y="82.6" width="27.3" height="8.37" fill="#E05944" shape-rendering="crispEdges"/>
<rect x="281.25" y="82.6" width="27.3" height="8.37" fill="#F4A35B" shape-rendering="crispEdges"/>
<rect x="308.5" y="82.6" width="27.3" height="8.37" fill="#CB4150" shape-rendering="crispEdges"/>
<rect x="335.75" y="82.6" width="27.3" height="8.37" fill="#F4F3B0" shape-rendering="crispEdges"/>
<rect x="363" y="82.6" width="27.3" height="8.37" fill="#F6F5B5" shape-rendering="crispEdges"/>
<rect x="390.25" y="82.6" width="27.3" height="8.37" fill="#E5F19F" shape-rendering="crispEdges"/>
<rect x="254" y="90.92" width="27.3" height="8.37" fill="#3E8EBD" shape-rendering="crispEdges"/>
<rect x="281.25" y="90.92" width="27.3" height="8.37" fill="#4DA3AD" shape-rendering="crispEdges"/>
<rect x="308.5" y="90.92" width="27.3" height="8.37" fill="#4FA3AC" shape-rendering="crispEdges"/>
<rect x="335.75" y="90.92" width="27.3" height="8.37" fill="#F5AF65" shape-rendering="crispEdges"/>
<rect x="363" y="90.92" width="27.3" height="8.37" fill="#F7C67B" shape-rendering="crispEdges"/>
<rect x="390.25" y="90.92" width="27.3" height="8.37" fill="#EF8D4F" shape-rendering="crispEdges"/>
<rect x="254" y="99.24" width="27.3" height="8.37" fill="#8BCFA2" shape-rendering="crispEdges"/>
<rect x="281.25" y="99.24" width="27.3" height="8.37" fill="#3F8FBB" shape-rendering="crispEdges"/>
<rect x="308.5" y="99.24" width="27.3" height="8.37" fill="#4595B7" shape-rendering="crispEdges"/>
<rect x="335.75" y="99.24" width="27.3" height="8.37" fill="#F8D887" shape-rendering="crispEdges"/>
<rect x="363" y="99.24" width="27.3" height="8.37" fill="#F7E49A" shape-rendering="crispEdges"/>
<rect x="390.25" y="99.24" width="27.3" height="8.37" fill="#F7D488" shape-rendering="crispEdges"/>
<rect x="254" y="107.56" width="27.3" height="8.37" fill="#7DC8A3" shape-rendering="crispEdges"/>
<rect x="281.25" y="107.56" width="27.3" height="8.37" fill="#3F8FBB" shape-rendering="crispEdges"/>
<rect x="308.5" y="107.56" width="27.3" height="8.37" fill="#92D0A0" shape-rendering="crispEdges"/>
<rect x="335.75" y="107.56" width="27.3" height="8.37" fill="#F6F2B2" shape-rendering="crispEdges"/>
<rect x="363" y="107.56" width="27.3" height="8.37" fill="#F6E9A0" shape-rendering="crispEdges"/>
<rect x="390.25" y="107.56" width="27.3" height="8.37" fill="#F7F1B1" shape-rendering="crispEdges"/>
<rect x="254" y="115.88" width="27.3" height="8.37" fill="#7DC8A3" shape-rendering="crispEdges"/>
<rect x="281.25" y="115.88" width="27.3" height="8.37" fill="#3F8FBB" shape-rendering="crispEdges"/>
<rect x="308.5" y="115.88" width="27.3" height="8.37" fill="#3F8FBB" shape-rendering="crispEdges"/>
<rect x="335.75" y="115.88" width="27.3" height="8.37" fill="#E7F0A6" shape-rendering="crispEdges"/>
<rect x="363" y="115.88" width="27.3" height="8.37" fill="#F5B86C" shape-rendering="crispEdges"/>
<rect x="390.25" y="115.88" width="27.3" height="8.37" fill="#EF8D4F" shape-rendering="crispEdges"/>
<rect x="254" y="124.2" width="27.3" height="8.37" fill="#8FD0A1" shape-rendering="crispEdges"/>
<rect x="281.25" y="124.2" width="27.3" height="8.37" fill="#A7D9A2" shape-rendering="crispEdges"/>
<rect x="308.5" y="124.2" width="27.3" height="8.37" fill="#55AEA8" shape-rendering="crispEdges"/>
<rect x="335.75" y="124.2" width="27.3" height="8.37" fill="#EEF3AE" shape-rendering="crispEdges"/>
<rect x="363" y="124.2" width="27.3" height="8.37" fill="#D8E99C" shape-rendering="crispEdges"/>
<rect x="390.25" y="124.2" width="27.3" height="8.37" fill="#F5F2B0" shape-rendering="crispEdges"/>
<rect x="254" y="132.52" width="27.3" height="8.37" fill="#8FD0A1" shape-rendering="crispEdges"/>
<rect x="281.25" y="132.52" width="27.3" height="8.37" fill="#6EBEA6" shape-rendering="crispEdges"/>
<rect x="308.5" y="132.52" width="27.3" height="8.37" fill="#5CB4A8" shape-rendering="crispEdges"/>
<rect x="335.75" y="132.52" width="27.3" height="8.37" fill="#F0F3AE" shape-rendering="crispEdges"/>
<rect x="363" y="132.52" width="27.3" height="8.37" fill="#D6E89C" shape-rendering="crispEdges"/>
<rect x="390.25" y="132.52" width="27.3" height="8.37" fill="#F3F1B2" shape-rendering="crispEdges"/>
<rect x="254" y="140.84" width="27.3" height="8.37" fill="#E8683F" shape-rendering="crispEdges"/>
<rect x="281.25" y="140.84" width="27.3" height="8.37" fill="#E5613F" shape-rendering="crispEdges"/>
<rect x="308.5" y="140.84" width="27.3" height="8.37" fill="#C73A52" shape-rendering="crispEdges"/>
<rect x="335.75" y="140.84" width="27.3" height="8.37" fill="#B3DCA3" shape-rendering="crispEdges"/>
<rect x="363" y="140.84" width="27.3" height="8.37" fill="#C9E39C" shape-rendering="crispEdges"/>
<rect x="390.25" y="140.84" width="27.3" height="8.37" fill="#D8EA9B" shape-rendering="crispEdges"/>
<rect x="254" y="149.16" width="27.3" height="8.37" fill="#E05A45" shape-rendering="crispEdges"/>
<rect x="281.25" y="149.16" width="27.3" height="8.37" fill="#DD5546" shape-rendering="crispEdges"/>
<rect x="308.5" y="149.16" width="27.3" height="8.37" fill="#D24A4D" shape-rendering="crispEdges"/>
<rect x="335.75" y="149.16" width="27.3" height="8.37" fill="#80C9A6" shape-rendering="crispEdges"/>
<rect x="363" y="149.16" width="27.3" height="8.37" fill="#E0EC9C" shape-rendering="crispEdges"/>
<rect x="390.25" y="149.16" width="27.3" height="8.37" fill="#B7DDA2" shape-rendering="crispEdges"/>
<rect x="254" y="157.48" width="27.3" height="8.37" fill="#D8504B" shape-rendering="crispEdges"/>
<rect x="281.25" y="157.48" width="27.3" height="8.37" fill="#E5663F" shape-rendering="crispEdges"/>
<rect x="308.5" y="157.48" width="27.3" height="8.37" fill="#D54D4C" shape-rendering="crispEdges"/>
<rect x="335.75" y="157.48" width="27.3" height="8.37" fill="#98D3A2" shape-rendering="crispEdges"/>
<rect x="363" y="157.48" width="27.3" height="8.37" fill="#7DC8A4" shape-rendering="crispEdges"/>
<rect x="390.25" y="157.48" width="27.3" height="8.37" fill="#A9D8A3" shape-rendering="crispEdges"/>
<rect x="254" y="165.8" width="27.3" height="8.37" fill="#DA5349" shape-rendering="crispEdges"/>
<rect x="281.25" y="165.8" width="27.3" height="8.37" fill="#EE8048" shape-rendering="crispEdges"/>
<rect x="308.5" y="165.8" width="27.3" height="8.37" fill="#D95249" shape-rendering="crispEdges"/>
<rect x="335.75" y="165.8" width="27.3" height="8.37" fill="#A5D7A3" shape-rendering="crispEdges"/>
<rect x="363" y="165.8" width="27.3" height="8.37" fill="#DEEC9C" shape-rendering="crispEdges"/>
<rect x="390.25" y="165.8" width="27.3" height="8.37" fill="#3A8CBE" shape-rendering="crispEdges"/>
<rect x="254" y="174.12" width="27.3" height="8.37" fill="#DC5548" shape-rendering="crispEdges"/>
<rect x="281.25" y="174.12" width="27.3" height="8.37" fill="#F08A4D" shape-rendering="crispEdges"/>
<rect x="308.5" y="174.12" width="27.3" height="8.37" fill="#CC4251" shape-rendering="crispEdges"/>
<rect x="335.75" y="174.12" width="27.3" height="8.37" fill="#BDE0A0" shape-rendering="crispEdges"/>
<rect x="363" y="174.12" width="27.3" height="8.37" fill="#F3F2B1" shape-rendering="crispEdges"/>
<rect x="390.25" y="174.12" width="27.3" height="8.37" fill="#E4EF9E" shape-rendering="crispEdges"/>
<rect x="254" y="182.44" width="27.3" height="8.37" fill="#C73A52" shape-rendering="crispEdges"/>
<rect x="281.25" y="182.44" width="27.3" height="8.37" fill="#F08A4D" shape-rendering="crispEdges"/>
<rect x="308.5" y="182.44" width="27.3" height="8.37" fill="#D24D4D" shape-rendering="crispEdges"/>
<rect x="335.75" y="182.44" width="27.3" height="8.37" fill="#AFDAA2" shape-rendering="crispEdges"/>
<rect x="363" y="182.44" width="27.3" height="8.37" fill="#B7DDA2" shape-rendering="crispEdges"/>
<rect x="390.25" y="182.44" width="27.3" height="8.37" fill="#88CDA5" shape-rendering="crispEdges"/>
<rect x="254" y="190.76" width="27.3" height="8.37" fill="#3B8BBE" shape-rendering="crispEdges"/>
<rect x="281.25" y="190.76" width="27.3" height="8.37" fill="#3B8BBE" shape-rendering="crispEdges"/>
<rect x="308.5" y="190.76" width="27.3" height="8.37" fill="#63B9A7" shape-rendering="crispEdges"/>
<rect x="335.75" y="190.76" width="27.3" height="8.37" fill="#F5B166" shape-rendering="crispEdges"/>
<rect x="363" y="190.76" width="27.3" height="8.37" fill="#F4A55E" shape-rendering="crispEdges"/>
<rect x="390.25" y="190.76" width="27.3" height="8.37" fill="#F6B86B" shape-rendering="crispEdges"/>
<rect x="254" y="199.08" width="27.3" height="8.37" fill="#E1EEA0" shape-rendering="crispEdges"/>
<rect x="281.25" y="199.08" width="27.3" height="8.37" fill="#F4F3B2" shape-rendering="crispEdges"/>
<rect x="308.5" y="199.08" width="27.3" height="8.37" fill="#F4F3B2" shape-rendering="crispEdges"/>
<rect x="335.75" y="199.08" width="27.3" height="8.37" fill="#EC7C48" shape-rendering="crispEdges"/>
<rect x="363" y="199.08" width="27.3" height="8.37" fill="#F4A55E" shape-rendering="crispEdges"/>
<rect x="390.25" y="199.08" width="27.3" height="8.37" fill="#C73A52" shape-rendering="crispEdges"/>
<rect x="254" y="207.4" width="27.3" height="8.37" fill="#E9703F" shape-rendering="crispEdges"/>
<rect x="281.25" y="207.4" width="27.3" height="8.37" fill="#C73A52" shape-rendering="crispEdges"/>
<rect x="308.5" y="207.4" width="27.3" height="8.37" fill="#F6B06A" shape-rendering="crispEdges"/>
<rect x="335.75" y="207.4" width="27.3" height="8.37" fill="#F2F2AF" shape-rendering="crispEdges"/>
<rect x="363" y="207.4" width="27.3" height="8.37" fill="#D3E79C" shape-rendering="crispEdges"/>
<rect x="390.25" y="207.4" width="27.3" height="8.37" fill="#F9D98E" shape-rendering="crispEdges"/>
<rect x="254" y="215.72" width="27.3" height="8.37" fill="#E9703F" shape-rendering="crispEdges"/>
<rect x="281.25" y="215.72" width="27.3" height="8.37" fill="#C73A52" shape-rendering="crispEdges"/>
<rect x="308.5" y="215.72" width="27.3" height="8.37" fill="#F08A4D" shape-rendering="crispEdges"/>
<rect x="335.75" y="215.72" width="27.3" height="8.37" fill="#F4F3B2" shape-rendering="crispEdges"/>
<rect x="363" y="215.72" width="27.3" height="8.37" fill="#E8F0A3" shape-rendering="crispEdges"/>
<rect x="390.25" y="215.72" width="27.3" height="8.37" fill="#EDF1AA" shape-rendering="crispEdges"/>
<rect x="254" y="224.04" width="27.3" height="8.37" fill="#F6B86B" shape-rendering="crispEdges"/>
<rect x="281.25" y="224.04" width="27.3" height="8.37" fill="#DC5548" shape-rendering="crispEdges"/>
<rect x="308.5" y="224.04" width="27.3" height="8.37" fill="#E8683F" shape-rendering="crispEdges"/>
<rect x="335.75" y="224.04" width="27.3" height="8.37" fill="#75C4A5" shape-rendering="crispEdges"/>
<rect x="363" y="224.04" width="27.3" height="8.37" fill="#459EB5" shape-rendering="crispEdges"/>
<rect x="390.25" y="224.04" width="27.3" height="8.37" fill="#3A8CBE" shape-rendering="crispEdges"/>
<rect x="254" y="232.36" width="27.3" height="8.37" fill="#E05A45" shape-rendering="crispEdges"/>
<rect x="281.25" y="232.36" width="27.3" height="8.37" fill="#F6B06A" shape-rendering="crispEdges"/>
<rect x="308.5" y="232.36" width="27.3" height="8.37" fill="#C73A52" shape-rendering="crispEdges"/>
<rect x="335.75" y="232.36" width="27.3" height="8.37" fill="#C4E29E" shape-rendering="crispEdges"/>
<rect x="363" y="232.36" width="27.3" height="8.37" fill="#EDF2AD" shape-rendering="crispEdges"/>
<rect x="390.25" y="232.36" width="27.3" height="8.37" fill="#E1EDA0" shape-rendering="crispEdges"/>
<rect x="254" y="240.68" width="27.3" height="8.37" fill="#E5663F" shape-rendering="crispEdges"/>
<rect x="281.25" y="240.68" width="27.3" height="8.37" fill="#C73A52" shape-rendering="crispEdges"/>
<rect x="308.5" y="240.68" width="27.3" height="8.37" fill="#E5663F" shape-rendering="crispEdges"/>
<rect x="335.75" y="240.68" width="27.3" height="8.37" fill="#D8EA9B" shape-rendering="crispEdges"/>
<rect x="363" y="240.68" width="27.3" height="8.37" fill="#E6EF9F" shape-rendering="crispEdges"/>
<rect x="390.25" y="240.68" width="27.3" height="8.37" fill="#98D3A2" shape-rendering="crispEdges"/>
<rect x="254" y="249" width="27.3" height="8.37" fill="#D24A4D" shape-rendering="crispEdges"/>
<rect x="281.25" y="249" width="27.3" height="8.37" fill="#E5663F" shape-rendering="crispEdges"/>
<rect x="308.5" y="249" width="27.3" height="8.37" fill="#D8504B" shape-rendering="crispEdges"/>
<rect x="335.75" y="249" width="27.3" height="8.37" fill="#A5D7A3" shape-rendering="crispEdges"/>
<rect x="363" y="249" width="27.3" height="8.37" fill="#BDE0A0" shape-rendering="crispEdges"/>
<rect x="390.25" y="249" width="27.3" height="8.37" fill="#98D3A2" shape-rendering="crispEdges"/>
<rect x="254" y="257.32" width="27.3" height="8.37" fill="#D24A4D" shape-rendering="crispEdges"/>
<rect x="281.25" y="257.32" width="27.3" height="8.37" fill="#E05A45" shape-rendering="crispEdges"/>
<rect x="308.5" y="257.32" width="27.3" height="8.37" fill="#EC7C48" shape-rendering="crispEdges"/>
<rect x="335.75" y="257.32" width="27.3" height="8.37" fill="#9AD4A3" shape-rendering="crispEdges"/>
<rect x="363" y="257.32" width="27.3" height="8.37" fill="#B9DEA1" shape-rendering="crispEdges"/>
<rect x="390.25" y="257.32" width="27.3" height="8.37" fill="#A5D7A3" shape-rendering="crispEdges"/>
<rect x="254" y="265.64" width="27.3" height="8.37" fill="#F4A35B" shape-rendering="crispEdges"/>
<rect x="281.25" y="265.64" width="27.3" height="8.37" fill="#F8E79C" shape-rendering="crispEdges"/>
<rect x="308.5" y="265.64" width="27.3" height="8.37" fill="#F6B86B" shape-rendering="crispEdges"/>
<rect x="335.75" y="265.64" width="27.3" height="8.37" fill="#56AFA9" shape-rendering="crispEdges"/>
<rect x="363" y="265.64" width="27.3" height="8.37" fill="#56AFA9" shape-rendering="crispEdges"/>
<rect x="390.25" y="265.64" width="27.3" height="8.37" fill="#5BB3A8" shape-rendering="crispEdges"/>
<rect x="254" y="273.96" width="27.3" height="8.37" fill="#E5663F" shape-rendering="crispEdges"/>
<rect x="281.25" y="273.96" width="27.3" height="8.37" fill="#E05A45" shape-rendering="crispEdges"/>
<rect x="308.5" y="273.96" width="27.3" height="8.37" fill="#C73A52" shape-rendering="crispEdges"/>
<rect x="335.75" y="273.96" width="27.3" height="8.37" fill="#B3DCA3" shape-rendering="crispEdges"/>
<rect x="363" y="273.96" width="27.3" height="8.37" fill="#CFE69B" shape-rendering="crispEdges"/>
<rect x="390.25" y="273.96" width="27.3" height="8.37" fill="#D8EA9B" shape-rendering="crispEdges"/>
<rect x="254" y="282.28" width="27.3" height="8.37" fill="#DC5548" shape-rendering="crispEdges"/>
<rect x="281.25" y="282.28" width="27.3" height="8.37" fill="#D8504B" shape-rendering="crispEdges"/>
<rect x="308.5" y="282.28" width="27.3" height="8.37" fill="#E5663F" shape-rendering="crispEdges"/>
<rect x="335.75" y="282.28" width="27.3" height="8.37" fill="#9AD4A3" shape-rendering="crispEdges"/>
<rect x="363" y="282.28" width="27.3" height="8.37" fill="#ADD9A3" shape-rendering="crispEdges"/>
<rect x="390.25" y="282.28" width="27.3" height="8.37" fill="#A5D7A3" shape-rendering="crispEdges"/>
<rect x="254" y="290.6" width="27.3" height="8.37" fill="#E5663F" shape-rendering="crispEdges"/>
<rect x="281.25" y="290.6" width="27.3" height="8.37" fill="#F6C47A" shape-rendering="crispEdges"/>
<rect x="308.5" y="290.6" width="27.3" height="8.37" fill="#B4284F" shape-rendering="crispEdges"/>
<rect x="335.75" y="290.6" width="27.3" height="8.37" fill="#DFEC9C" shape-rendering="crispEdges"/>
<rect x="363" y="290.6" width="27.3" height="8.37" fill="#C2E19E" shape-rendering="crispEdges"/>
<rect x="390.25" y="290.6" width="27.3" height="8.37" fill="#CFE69B" shape-rendering="crispEdges"/>
<rect x="254" y="298.92" width="27.3" height="8.37" fill="#E8683F" shape-rendering="crispEdges"/>
<rect x="281.25" y="298.92" width="27.3" height="8.37" fill="#C73A52" shape-rendering="crispEdges"/>
<rect x="308.5" y="298.92" width="27.3" height="8.37" fill="#E5663F" shape-rendering="crispEdges"/>
<rect x="335.75" y="298.92" width="27.3" height="8.37" fill="#B3DCA3" shape-rendering="crispEdges"/>
<rect x="363" y="298.92" width="27.3" height="8.37" fill="#B3DCA3" shape-rendering="crispEdges"/>
<rect x="390.25" y="298.92" width="27.3" height="8.37" fill="#B3DCA3" shape-rendering="crispEdges"/>
<rect x="254" y="307.24" width="27.3" height="8.37" fill="#E5663F" shape-rendering="crispEdges"/>
<rect x="281.25" y="307.24" width="27.3" height="8.37" fill="#B4284F" shape-rendering="crispEdges"/>
<rect x="308.5" y="307.24" width="27.3" height="8.37" fill="#F6B86B" shape-rendering="crispEdges"/>
<rect x="335.75" y="307.24" width="27.3" height="8.37" fill="#F6EBA5" shape-rendering="crispEdges"/>
<rect x="363" y="307.24" width="27.3" height="8.37" fill="#98D3A2" shape-rendering="crispEdges"/>
<rect x="390.25" y="307.24" width="27.3" height="8.37" fill="#DDEC9D" shape-rendering="crispEdges"/>
<rect x="254" y="315.56" width="27.3" height="8.37" fill="#CC4251" shape-rendering="crispEdges"/>
<rect x="281.25" y="315.56" width="27.3" height="8.37" fill="#74C4A5" shape-rendering="crispEdges"/>
<rect x="308.5" y="315.56" width="27.3" height="8.37" fill="#DC5548" shape-rendering="crispEdges"/>
<rect x="335.75" y="315.56" width="27.3" height="8.37" fill="#3A8CBE" shape-rendering="crispEdges"/>
<rect x="363" y="315.56" width="27.3" height="8.37" fill="#DEEC9C" shape-rendering="crispEdges"/>
<rect x="390.25" y="315.56" width="27.3" height="8.37" fill="#F0F3B1" shape-rendering="crispEdges"/>
<rect x="254" y="323.88" width="27.3" height="8.37" fill="#E8683F" shape-rendering="crispEdges"/>
<rect x="281.25" y="323.88" width="27.3" height="8.37" fill="#DC5548" shape-rendering="crispEdges"/>
<rect x="308.5" y="323.88" width="27.3" height="8.37" fill="#E8683F" shape-rendering="crispEdges"/>
<rect x="335.75" y="323.88" width="27.3" height="8.37" fill="#F4F3B2" shape-rendering="crispEdges"/>
<rect x="363" y="323.88" width="27.3" height="8.37" fill="#EDF1AA" shape-rendering="crispEdges"/>
<rect x="390.25" y="323.88" width="27.3" height="8.37" fill="#EDF1AA" shape-rendering="crispEdges"/>
<rect x="254" y="332.2" width="27.3" height="8.37" fill="#E8683F" shape-rendering="crispEdges"/>
<rect x="281.25" y="332.2" width="27.3" height="8.37" fill="#DC5548" shape-rendering="crispEdges"/>
<rect x="308.5" y="332.2" width="27.3" height="8.37" fill="#E8683F" shape-rendering="crispEdges"/>
<rect x="335.75" y="332.2" width="27.3" height="8.37" fill="#F4F3B2" shape-rendering="crispEdges"/>
<rect x="363" y="332.2" width="27.3" height="8.37" fill="#EDF1AA" shape-rendering="crispEdges"/>
<rect x="390.25" y="332.2" width="27.3" height="8.37" fill="#E5EF9F" shape-rendering="crispEdges"/>
<rect x="254" y="340.52" width="27.3" height="8.37" fill="#E5663F" shape-rendering="crispEdges"/>
<rect x="281.25" y="340.52" width="27.3" height="8.37" fill="#D24A4D" shape-rendering="crispEdges"/>
<rect x="308.5" y="340.52" width="27.3" height="8.37" fill="#DC5548" shape-rendering="crispEdges"/>
<rect x="335.75" y="340.52" width="27.3" height="8.37" fill="#B9DEA1" shape-rendering="crispEdges"/>
<rect x="363" y="340.52" width="27.3" height="8.37" fill="#B9DEA1" shape-rendering="crispEdges"/>
<rect x="390.25" y="340.52" width="27.3" height="8.37" fill="#ADD9A3" shape-rendering="crispEdges"/>
<rect x="254" y="348.84" width="27.3" height="8.37" fill="#E8683F" shape-rendering="crispEdges"/>
<rect x="281.25" y="348.84" width="27.3" height="8.37" fill="#E8683F" shape-rendering="crispEdges"/>
<rect x="308.5" y="348.84" width="27.3" height="8.37" fill="#E05A45" shape-rendering="crispEdges"/>
<rect x="335.75" y="348.84" width="27.3" height="8.37" fill="#3A8CBE" shape-rendering="crispEdges"/>
<rect x="363" y="348.84" width="27.3" height="8.37" fill="#56AFA9" shape-rendering="crispEdges"/>
<rect x="390.25" y="348.84" width="27.3" height="8.37" fill="#ADD9A3" shape-rendering="crispEdges"/>
<rect x="254" y="357.16" width="27.3" height="8.37" fill="#E05A45" shape-rendering="crispEdges"/>
<rect x="281.25" y="357.16" width="27.3" height="8.37" fill="#E8683F" shape-rendering="crispEdges"/>
<rect x="308.5" y="357.16" width="27.3" height="8.37" fill="#D24A4D" shape-rendering="crispEdges"/>
<rect x="335.75" y="357.16" width="27.3" height="8.37" fill="#CFE69B" shape-rendering="crispEdges"/>
<rect x="363" y="357.16" width="27.3" height="8.37" fill="#CFE69B" shape-rendering="crispEdges"/>
<rect x="390.25" y="357.16" width="27.3" height="8.37" fill="#E5EF9F" shape-rendering="crispEdges"/>
<rect x="254" y="365.48" width="27.3" height="8.37" fill="#D24A4D" shape-rendering="crispEdges"/>
<rect x="281.25" y="365.48" width="27.3" height="8.37" fill="#DC5548" shape-rendering="crispEdges"/>
<rect x="308.5" y="365.48" width="27.3" height="8.37" fill="#E8683F" shape-rendering="crispEdges"/>
<rect x="335.75" y="365.48" width="27.3" height="8.37" fill="#98D3A2" shape-rendering="crispEdges"/>
<rect x="363" y="365.48" width="27.3" height="8.37" fill="#B9DEA1" shape-rendering="crispEdges"/>
<rect x="390.25" y="365.48" width="27.3" height="8.37" fill="#88CDA5" shape-rendering="crispEdges"/>
<rect x="254.3" y="35.8" width="81.7" height="3.9" fill="#234B8C"/>
<rect x="336" y="35.8" width="81.4" height="3.9" fill="#A80A2E"/>
<text x="260.7" y="32" font-size="10" font-style="italic" fill="#231F20" textLength="61" lengthAdjust="spacingAndGlyphs" stroke="#231F20" stroke-width="0.15">NHD13/Setd2</text>
<text x="322.3" y="28.8" font-size="6.8" font-style="italic" fill="#231F20" textLength="9" lengthAdjust="spacingAndGlyphs" stroke="#231F20" stroke-width="0.15">f/f</text>
<text x="340" y="32" font-size="10" font-style="italic" fill="#231F20" textLength="61.3" lengthAdjust="spacingAndGlyphs" stroke="#231F20" stroke-width="0.15">NHD13/Setd2</text>
<text x="401.8" y="28.8" font-size="6.8" fill="#231F20" textLength="12" lengthAdjust="spacingAndGlyphs" stroke="#231F20" stroke-width="0.15">&#916;/&#916;</text>
<rect x="249.3" y="41" width="4.9" height="49.92" fill="#A5002A"/>
<rect x="249.3" y="90.92" width="4.9" height="49.92" fill="#284C8A"/>
<rect x="249.3" y="140.84" width="4.9" height="49.92" fill="#6DAA45"/>
<rect x="249.3" y="190.76" width="4.9" height="49.92" fill="#4B2868"/>
<rect x="249.3" y="240.68" width="4.9" height="49.92" fill="#E08B1E"/>
<rect x="249.3" y="290.6" width="4.9" height="33.28" fill="#EAB820"/>
<rect x="249.3" y="323.88" width="4.9" height="49.92" fill="#5B3C1C"/>
<text x="242.6" y="68.75" font-size="8.2" text-anchor="end" fill="#231F20" stroke="#231F20" stroke-width="0.15">G2M</text>
<text x="242.6" y="113.55" font-size="8.2" text-anchor="end" fill="#231F20" stroke="#231F20" stroke-width="0.15">Hematopoiesis</text>
<text x="242.6" y="122.55" font-size="8.2" text-anchor="end" fill="#231F20" stroke="#231F20" stroke-width="0.15">stem cell</text>
<text x="242.6" y="163.25" font-size="8.2" text-anchor="end" fill="#231F20" stroke="#231F20" stroke-width="0.15">Hematopoiesis</text>
<text x="242.6" y="172.25" font-size="8.2" text-anchor="end" fill="#231F20" stroke="#231F20" stroke-width="0.15">mature cell</text>
<text x="242.6" y="218.95" font-size="8.2" text-anchor="end" fill="#231F20" stroke="#231F20" stroke-width="0.15">Erythrocyte</text>
<text x="242.6" y="268.55" font-size="8.2" text-anchor="end" fill="#231F20" stroke="#231F20" stroke-width="0.15" textLength="71.1" lengthAdjust="spacingAndGlyphs">Apoptotic signaling</text>
<text x="242.6" y="310.65" font-size="8.2" text-anchor="end" fill="#231F20" stroke="#231F20" stroke-width="0.15">Megakaryocyte</text>
<text x="242.6" y="352.15" font-size="8.2" text-anchor="end" fill="#231F20" stroke="#231F20" stroke-width="0.15">NF&#954;B</text>
<text x="422.7" y="48.96" font-size="7.5" text-anchor="start" fill="#231F20" font-style="italic" stroke="#231F20" stroke-width="0.16">E2f2</text>
<text x="422.7" y="57.28" font-size="7.5" text-anchor="start" fill="#231F20" font-style="italic" stroke="#231F20" stroke-width="0.16">Cdkn3</text>
<text x="422.7" y="65.6" font-size="7.5" text-anchor="start" fill="#231F20" font-style="italic" stroke="#231F20" stroke-width="0.16">Hmgn2</text>
<text x="422.7" y="73.92" font-size="7.5" text-anchor="start" fill="#231F20" font-style="italic" stroke="#231F20" stroke-width="0.16">Mybl2</text>
<text x="422.7" y="82.24" font-size="7.5" text-anchor="start" fill="#231F20" font-style="italic" stroke="#231F20" stroke-width="0.16">Cdc25a</text>
<text x="422.7" y="90.56" font-size="7.5" text-anchor="start" fill="#231F20" font-style="italic" stroke="#231F20" stroke-width="0.16">Plk1</text>
<text x="422.7" y="98.88" font-size="7.5" text-anchor="start" fill="#231F20" font-style="italic" stroke="#231F20" stroke-width="0.16">Tcf4</text>
<text x="422.7" y="107.2" font-size="7.5" text-anchor="start" fill="#231F20" font-style="italic" stroke="#231F20" stroke-width="0.16">Etv3</text>
<text x="422.7" y="115.52" font-size="7.5" text-anchor="start" fill="#231F20" font-style="italic" stroke="#231F20" stroke-width="0.16">Jun</text>
<text x="422.7" y="123.84" font-size="7.5" text-anchor="start" fill="#231F20" font-style="italic" stroke="#231F20" stroke-width="0.16">Syt11</text>
<text x="422.7" y="132.16" font-size="7.5" text-anchor="start" fill="#231F20" font-style="italic" stroke="#231F20" stroke-width="0.16">Emp1</text>
<text x="422.7" y="140.48" font-size="7.5" text-anchor="start" fill="#231F20" font-style="italic" stroke="#231F20" stroke-width="0.16">Ifi44</text>
<text x="422.7" y="148.8" font-size="7.5" text-anchor="start" fill="#231F20" font-style="italic" stroke="#231F20" stroke-width="0.16">Cd14</text>
<text x="422.7" y="157.12" font-size="7.5" text-anchor="start" fill="#231F20" font-style="italic" stroke="#231F20" stroke-width="0.16">Ano10</text>
<text x="422.7" y="165.44" font-size="7.5" text-anchor="start" fill="#231F20" font-style="italic" stroke="#231F20" stroke-width="0.16">St3gal5</text>
<text x="422.7" y="173.76" font-size="7.5" text-anchor="start" fill="#231F20" font-style="italic" stroke="#231F20" stroke-width="0.16">Cpeb4</text>
<text x="422.7" y="182.08" font-size="7.5" text-anchor="start" fill="#231F20" font-style="italic" stroke="#231F20" stroke-width="0.16">Wipi1</text>
<text x="422.7" y="190.4" font-size="7.5" text-anchor="start" fill="#231F20" font-style="italic" stroke="#231F20" stroke-width="0.16">Pik3cb</text>
<text x="422.7" y="198.72" font-size="7.5" text-anchor="start" fill="#231F20" font-style="italic" stroke="#231F20" stroke-width="0.16">Gata2</text>
<text x="422.7" y="207.04" font-size="7.5" text-anchor="start" fill="#231F20" font-style="italic" stroke="#231F20" stroke-width="0.16">Hoxa5</text>
<text x="422.7" y="215.36" font-size="7.5" text-anchor="start" fill="#231F20" font-style="italic" stroke="#231F20" stroke-width="0.16">Lyn</text>
<text x="422.7" y="223.68" font-size="7.5" text-anchor="start" fill="#231F20" font-style="italic" stroke="#231F20" stroke-width="0.16">Hmgb2</text>
<text x="422.7" y="232" font-size="7.5" text-anchor="start" fill="#231F20" font-style="italic" stroke="#231F20" stroke-width="0.16">Hif1a</text>
<text x="422.7" y="240.32" font-size="7.5" text-anchor="start" fill="#231F20" font-style="italic" stroke="#231F20" stroke-width="0.16">Spi1</text>
<text x="422.7" y="248.64" font-size="7.5" text-anchor="start" fill="#231F20" font-style="italic" stroke="#231F20" stroke-width="0.16">Chac1</text>
<text x="422.7" y="256.96" font-size="7.5" text-anchor="start" fill="#231F20" font-style="italic" stroke="#231F20" stroke-width="0.16">E2f2</text>
<text x="422.7" y="265.28" font-size="7.5" text-anchor="start" fill="#231F20" font-style="italic" stroke="#231F20" stroke-width="0.16">Tlr4</text>
<text x="422.7" y="273.6" font-size="7.5" text-anchor="start" fill="#231F20" font-style="italic" stroke="#231F20" stroke-width="0.16">Cd40</text>
<text x="422.7" y="281.92" font-size="7.5" text-anchor="start" fill="#231F20" font-style="italic" stroke="#231F20" stroke-width="0.16">Cd14</text>
<text x="422.7" y="290.24" font-size="7.5" text-anchor="start" fill="#231F20" font-style="italic" stroke="#231F20" stroke-width="0.16">Sort1</text>
<text x="422.7" y="298.56" font-size="7.5" text-anchor="start" fill="#231F20" font-style="italic" stroke="#231F20" stroke-width="0.16">Srf</text>
<text x="422.7" y="306.88" font-size="7.5" text-anchor="start" fill="#231F20" font-style="italic" stroke="#231F20" stroke-width="0.16">Fli1</text>
<text x="422.7" y="315.2" font-size="7.5" text-anchor="start" fill="#231F20" font-style="italic" stroke="#231F20" stroke-width="0.16">Abi1</text>
<text x="422.7" y="323.52" font-size="7.5" text-anchor="start" fill="#231F20" font-style="italic" stroke="#231F20" stroke-width="0.16">Vps33b</text>
<text x="422.7" y="331.84" font-size="7.5" text-anchor="start" fill="#231F20" font-style="italic" stroke="#231F20" stroke-width="0.16">S100a9</text>
<text x="422.7" y="340.16" font-size="7.5" text-anchor="start" fill="#231F20" font-style="italic" stroke="#231F20" stroke-width="0.16">S100a8</text>
<text x="422.7" y="348.48" font-size="7.5" text-anchor="start" fill="#231F20" font-style="italic" stroke="#231F20" stroke-width="0.16">Il1b</text>
<text x="422.7" y="356.8" font-size="7.5" text-anchor="start" fill="#231F20" font-style="italic" stroke="#231F20" stroke-width="0.16">Nod2</text>
<text x="422.7" y="365.12" font-size="7.5" text-anchor="start" fill="#231F20" font-style="italic" stroke="#231F20" stroke-width="0.16">Prkcb</text>
<text x="422.7" y="373.44" font-size="7.5" text-anchor="start" fill="#231F20" font-style="italic" stroke="#231F20" stroke-width="0.16">Tlr4</text>
<rect x="421" y="42.26" width="19.03" height="8" fill="none" stroke="#C4334E" stroke-width="1.1"/>
<rect x="421" y="325.14" width="29.46" height="8" fill="none" stroke="#C4334E" stroke-width="1.1"/>
<rect x="421" y="92.18" width="17.5" height="8" fill="none" stroke="#C4334E" stroke-width="1.1"/>
<rect x="421" y="142.1" width="21.53" height="8" fill="none" stroke="#C4334E" stroke-width="1.1"/>
<rect x="421" y="192.02" width="24.03" height="8" fill="none" stroke="#C4334E" stroke-width="1.1"/>
<rect x="421" y="233.62" width="18.61" height="8" fill="none" stroke="#C4334E" stroke-width="1.1"/>
<rect x="421" y="241.94" width="25.28" height="8" fill="none" stroke="#C4334E" stroke-width="1.1"/>
<rect x="421" y="291.86" width="13.18" height="8" fill="none" stroke="#C4334E" stroke-width="1.1"/>
<rect x="421" y="300.18" width="15.68" height="8" fill="none" stroke="#C4334E" stroke-width="1.1"/>
<linearGradient id="spec" x1="0" x2="0" y1="0" y2="1"><stop offset="0" stop-color="#9E0142"/><stop offset="0.1" stop-color="#D53E4F"/><stop offset="0.2" stop-color="#F46D43"/><stop offset="0.3" stop-color="#FDAE61"/><stop offset="0.4" stop-color="#FEE08B"/><stop offset="0.5" stop-color="#FFFFBF"/><stop offset="0.6" stop-color="#E6F598"/><stop offset="0.7" stop-color="#ABDDA4"/><stop offset="0.8" stop-color="#66C2A5"/><stop offset="0.9" stop-color="#3288BD"/><stop offset="1" stop-color="#5E4FA2"/></linearGradient>
<rect x="462" y="38.6" width="5.9" height="92.1" fill="url(#spec)"/>
<text x="471.3" y="52.15" font-size="8.2" text-anchor="start" fill="#231F20" stroke="#231F20" stroke-width="0.16">1.5</text>
<text x="471.3" y="64.05" font-size="8.2" text-anchor="start" fill="#231F20" stroke="#231F20" stroke-width="0.16">1</text>
<text x="471.3" y="75.85" font-size="8.2" text-anchor="start" fill="#231F20" stroke="#231F20" stroke-width="0.16">0.5</text>
<text x="471.3" y="87.45" font-size="8.2" text-anchor="start" fill="#231F20" stroke="#231F20" stroke-width="0.16">0</text>
<text x="471.3" y="99.55" font-size="8.2" text-anchor="start" fill="#231F20" stroke="#231F20" stroke-width="0.16">&#8211;0.5</text>
<text x="471.3" y="111.45" font-size="8.2" text-anchor="start" fill="#231F20" stroke="#231F20" stroke-width="0.16">&#8211;1</text>
<text x="471.3" y="123.25" font-size="8.2" text-anchor="start" fill="#231F20" stroke="#231F20" stroke-width="0.16">&#8211;1.5</text>
<line x1="47.7" y1="409.5" x2="47.7" y2="476.8" stroke="#231F20" stroke-width="1"/>
<line x1="47.2" y1="476.3" x2="86.2" y2="476.3" stroke="#231F20" stroke-width="1"/>
<line x1="44.7" y1="412" x2="47.7" y2="412" stroke="#231F20" stroke-width="0.9"/>
<text x="41.4" y="414.95" font-size="8.2" text-anchor="end" fill="#231F20" stroke="#231F20" stroke-width="0.16">8</text>
<line x1="44.7" y1="428.2" x2="47.7" y2="428.2" stroke="#231F20" stroke-width="0.9"/>
<text x="41.4" y="431.15" font-size="8.2" text-anchor="end" fill="#231F20" stroke="#231F20" stroke-width="0.16">6</text>
<line x1="44.7" y1="444.3" x2="47.7" y2="444.3" stroke="#231F20" stroke-width="0.9"/>
<text x="41.4" y="447.25" font-size="8.2" text-anchor="end" fill="#231F20" stroke="#231F20" stroke-width="0.16">4</text>
<line x1="44.7" y1="460.3" x2="47.7" y2="460.3" stroke="#231F20" stroke-width="0.9"/>
<text x="41.4" y="463.25" font-size="8.2" text-anchor="end" fill="#231F20" stroke="#231F20" stroke-width="0.16">2</text>
<line x1="44.7" y1="476.3" x2="47.7" y2="476.3" stroke="#231F20" stroke-width="0.9"/>
<text x="41.4" y="479.25" font-size="8.2" text-anchor="end" fill="#231F20" stroke="#231F20" stroke-width="0.16">0</text>
<line x1="57.65" y1="476.3" x2="57.65" y2="478.8" stroke="#231F20" stroke-width="0.8"/>
<line x1="76.55" y1="476.3" x2="76.55" y2="478.8" stroke="#231F20" stroke-width="0.8"/>
<line x1="57.65" y1="417.4" x2="57.65" y2="424.9" stroke="#4A4A4A" stroke-width="0.9"/>
<line x1="54.45" y1="417.4" x2="60.85" y2="417.4" stroke="#4A4A4A" stroke-width="0.9"/>
<rect x="51.5" y="424.9" width="12.3" height="51" fill="#284A8A"/>
<line x1="76.55" y1="446.9" x2="76.55" y2="448.9" stroke="#4A4A4A" stroke-width="0.9"/>
<line x1="73.35" y1="446.9" x2="79.75" y2="446.9" stroke="#4A4A4A" stroke-width="0.9"/>
<rect x="70.3" y="448.9" width="12.5" height="27" fill="#A5002A"/>
<line x1="57.7" y1="415" x2="76.6" y2="415" stroke="#231F20" stroke-width="1.3"/>
<text x="67.15" y="415.2" font-size="7.4" text-anchor="middle" fill="#231F20" stroke="#231F20" stroke-width="0.35" letter-spacing="0.1">**</text>
<text x="66.9" y="489.95" font-size="8.2" text-anchor="middle" fill="#231F20" font-style="italic" stroke="#231F20" stroke-width="0.16">E2f2</text>
<text x="27.7" y="446.64" font-size="9" text-anchor="middle" fill="#231F20" stroke="#231F20" stroke-width="0.16" textLength="68" lengthAdjust="spacingAndGlyphs" transform="rotate(-90 27.7 443.4)">Relative mRNA level</text>
<line x1="127" y1="409.2" x2="127" y2="476.7" stroke="#231F20" stroke-width="1"/>
<line x1="126.5" y1="476.2" x2="165.8" y2="476.2" stroke="#231F20" stroke-width="1"/>
<line x1="124" y1="411.5" x2="127" y2="411.5" stroke="#231F20" stroke-width="0.9"/>
<text x="120.7" y="414.45" font-size="8.2" text-anchor="end" fill="#231F20" stroke="#231F20" stroke-width="0.16">0.8</text>
<line x1="124" y1="427.7" x2="127" y2="427.7" stroke="#231F20" stroke-width="0.9"/>
<text x="120.7" y="430.65" font-size="8.2" text-anchor="end" fill="#231F20" stroke="#231F20" stroke-width="0.16">0.6</text>
<line x1="124" y1="444.2" x2="127" y2="444.2" stroke="#231F20" stroke-width="0.9"/>
<text x="120.7" y="447.15" font-size="8.2" text-anchor="end" fill="#231F20" stroke="#231F20" stroke-width="0.16">0.4</text>
<line x1="124" y1="460.3" x2="127" y2="460.3" stroke="#231F20" stroke-width="0.9"/>
<text x="120.7" y="463.25" font-size="8.2" text-anchor="end" fill="#231F20" stroke="#231F20" stroke-width="0.16">0.2</text>
<line x1="124" y1="476.2" x2="127" y2="476.2" stroke="#231F20" stroke-width="0.9"/>
<text x="120.7" y="479.15" font-size="8.2" text-anchor="end" fill="#231F20" stroke="#231F20" stroke-width="0.16">0.0</text>
<line x1="137" y1="476.2" x2="137" y2="478.7" stroke="#231F20" stroke-width="0.8"/>
<line x1="156.1" y1="476.2" x2="156.1" y2="478.7" stroke="#231F20" stroke-width="0.8"/>
<line x1="137" y1="461.2" x2="137" y2="466.2" stroke="#4A4A4A" stroke-width="0.9"/>
<line x1="133.8" y1="461.2" x2="140.2" y2="461.2" stroke="#4A4A4A" stroke-width="0.9"/>
<rect x="130.8" y="466.2" width="12.4" height="9.6" fill="#284A8A"/>
<line x1="156.1" y1="424.2" x2="156.1" y2="434.6" stroke="#4A4A4A" stroke-width="0.9"/>
<line x1="152.9" y1="424.2" x2="159.3" y2="424.2" stroke="#4A4A4A" stroke-width="0.9"/>
<rect x="150" y="434.6" width="12.2" height="41.2" fill="#A5002A"/>
<line x1="137.3" y1="422" x2="156.1" y2="422" stroke="#231F20" stroke-width="1.3"/>
<text x="146.7" y="422.2" font-size="7.4" text-anchor="middle" fill="#231F20" stroke="#231F20" stroke-width="0.35" letter-spacing="0.1">**</text>
<text x="146.5" y="489.95" font-size="8.2" text-anchor="middle" fill="#231F20" font-style="italic" stroke="#231F20" stroke-width="0.16">Tcf4</text>
<text x="100.4" y="446.44" font-size="9" text-anchor="middle" fill="#231F20" stroke="#231F20" stroke-width="0.16" textLength="68" lengthAdjust="spacingAndGlyphs" transform="rotate(-90 100.4 443.2)">Relative mRNA level</text>
<line x1="208.1" y1="409.2" x2="208.1" y2="476.7" stroke="#231F20" stroke-width="1"/>
<line x1="207.6" y1="476.2" x2="247" y2="476.2" stroke="#231F20" stroke-width="1"/>
<line x1="205.1" y1="412" x2="208.1" y2="412" stroke="#231F20" stroke-width="0.9"/>
<text x="201.8" y="414.95" font-size="8.2" text-anchor="end" fill="#231F20" stroke="#231F20" stroke-width="0.16">6</text>
<line x1="205.1" y1="433.5" x2="208.1" y2="433.5" stroke="#231F20" stroke-width="0.9"/>
<text x="201.8" y="436.45" font-size="8.2" text-anchor="end" fill="#231F20" stroke="#231F20" stroke-width="0.16">4</text>
<line x1="205.1" y1="455" x2="208.1" y2="455" stroke="#231F20" stroke-width="0.9"/>
<text x="201.8" y="457.95" font-size="8.2" text-anchor="end" fill="#231F20" stroke="#231F20" stroke-width="0.16">2</text>
<line x1="205.1" y1="476.2" x2="208.1" y2="476.2" stroke="#231F20" stroke-width="0.9"/>
<text x="201.8" y="479.15" font-size="8.2" text-anchor="end" fill="#231F20" stroke="#231F20" stroke-width="0.16">0</text>
<line x1="218.85" y1="476.2" x2="218.85" y2="478.7" stroke="#231F20" stroke-width="0.8"/>
<line x1="237.7" y1="476.2" x2="237.7" y2="478.7" stroke="#231F20" stroke-width="0.8"/>
<line x1="218.85" y1="419.2" x2="218.85" y2="430.5" stroke="#4A4A4A" stroke-width="0.9"/>
<line x1="215.65" y1="419.2" x2="222.05" y2="419.2" stroke="#4A4A4A" stroke-width="0.9"/>
<rect x="212.7" y="430.5" width="12.3" height="45.3" fill="#284A8A"/>
<line x1="237.7" y1="470" x2="237.7" y2="472" stroke="#4A4A4A" stroke-width="0.9"/>
<line x1="234.5" y1="470" x2="240.9" y2="470" stroke="#4A4A4A" stroke-width="0.9"/>
<rect x="231.6" y="472" width="12.2" height="3.8" fill="#A5002A"/>
<line x1="219.2" y1="416.2" x2="237.8" y2="416.2" stroke="#231F20" stroke-width="1.3"/>
<text x="228.5" y="416.4" font-size="7.4" text-anchor="middle" fill="#231F20" stroke="#231F20" stroke-width="0.35" letter-spacing="0.1">**</text>
<text x="228" y="489.95" font-size="8.2" text-anchor="middle" fill="#231F20" font-style="italic" stroke="#231F20" stroke-width="0.16">Cd14</text>
<text x="188.8" y="446.44" font-size="9" text-anchor="middle" fill="#231F20" stroke="#231F20" stroke-width="0.16" textLength="68" lengthAdjust="spacingAndGlyphs" transform="rotate(-90 188.8 443.2)">Relative mRNA level</text>
<line x1="285.7" y1="409.2" x2="285.7" y2="476.7" stroke="#231F20" stroke-width="1"/>
<line x1="285.2" y1="476.2" x2="325" y2="476.2" stroke="#231F20" stroke-width="1"/>
<line x1="282.7" y1="412.3" x2="285.7" y2="412.3" stroke="#231F20" stroke-width="0.9"/>
<text x="279.4" y="415.25" font-size="8.2" text-anchor="end" fill="#231F20" stroke="#231F20" stroke-width="0.16">5</text>
<line x1="282.7" y1="425.4" x2="285.7" y2="425.4" stroke="#231F20" stroke-width="0.9"/>
<text x="279.4" y="428.35" font-size="8.2" text-anchor="end" fill="#231F20" stroke="#231F20" stroke-width="0.16">4</text>
<line x1="282.7" y1="438.2" x2="285.7" y2="438.2" stroke="#231F20" stroke-width="0.9"/>
<text x="279.4" y="441.15" font-size="8.2" text-anchor="end" fill="#231F20" stroke="#231F20" stroke-width="0.16">3</text>
<line x1="282.7" y1="450.8" x2="285.7" y2="450.8" stroke="#231F20" stroke-width="0.9"/>
<text x="279.4" y="453.75" font-size="8.2" text-anchor="end" fill="#231F20" stroke="#231F20" stroke-width="0.16">2</text>
<line x1="282.7" y1="463.5" x2="285.7" y2="463.5" stroke="#231F20" stroke-width="0.9"/>
<text x="279.4" y="466.45" font-size="8.2" text-anchor="end" fill="#231F20" stroke="#231F20" stroke-width="0.16">1</text>
<line x1="282.7" y1="476.2" x2="285.7" y2="476.2" stroke="#231F20" stroke-width="0.9"/>
<text x="279.4" y="479.15" font-size="8.2" text-anchor="end" fill="#231F20" stroke="#231F20" stroke-width="0.16">0</text>
<line x1="296.15" y1="476.2" x2="296.15" y2="478.7" stroke="#231F20" stroke-width="0.8"/>
<line x1="314.9" y1="476.2" x2="314.9" y2="478.7" stroke="#231F20" stroke-width="0.8"/>
<line x1="296.15" y1="470" x2="296.15" y2="472" stroke="#4A4A4A" stroke-width="0.9"/>
<line x1="292.95" y1="470" x2="299.35" y2="470" stroke="#4A4A4A" stroke-width="0.9"/>
<rect x="290" y="472" width="12.3" height="3.8" fill="#284A8A"/>
<line x1="314.9" y1="420.8" x2="314.9" y2="424.3" stroke="#4A4A4A" stroke-width="0.9"/>
<line x1="311.7" y1="420.8" x2="318.1" y2="420.8" stroke="#4A4A4A" stroke-width="0.9"/>
<rect x="308.8" y="424.3" width="12.2" height="51.5" fill="#A5002A"/>
<line x1="296.2" y1="419.2" x2="314.6" y2="419.2" stroke="#231F20" stroke-width="1.3"/>
<text x="305.4" y="419.4" font-size="7.4" text-anchor="middle" fill="#231F20" stroke="#231F20" stroke-width="0.35" letter-spacing="0.1">****</text>
<text x="305.4" y="489.95" font-size="8.2" text-anchor="middle" fill="#231F20" font-style="italic" stroke="#231F20" stroke-width="0.16">Gata2</text>
<text x="266.2" y="446.44" font-size="9" text-anchor="middle" fill="#231F20" stroke="#231F20" stroke-width="0.16" textLength="68" lengthAdjust="spacingAndGlyphs" transform="rotate(-90 266.2 443.2)">Relative mRNA level</text>
<line x1="47.8" y1="502.7" x2="47.8" y2="570.9" stroke="#231F20" stroke-width="1"/>
<line x1="47.3" y1="570.4" x2="86.2" y2="570.4" stroke="#231F20" stroke-width="1"/>
<line x1="44.8" y1="506.1" x2="47.8" y2="506.1" stroke="#231F20" stroke-width="0.9"/>
<text x="41.5" y="509.05" font-size="8.2" text-anchor="end" fill="#231F20" stroke="#231F20" stroke-width="0.16">25</text>
<line x1="44.8" y1="518.8" x2="47.8" y2="518.8" stroke="#231F20" stroke-width="0.9"/>
<text x="41.5" y="521.75" font-size="8.2" text-anchor="end" fill="#231F20" stroke="#231F20" stroke-width="0.16">20</text>
<line x1="44.8" y1="531.6" x2="47.8" y2="531.6" stroke="#231F20" stroke-width="0.9"/>
<text x="41.5" y="534.55" font-size="8.2" text-anchor="end" fill="#231F20" stroke="#231F20" stroke-width="0.16">15</text>
<line x1="44.8" y1="544.5" x2="47.8" y2="544.5" stroke="#231F20" stroke-width="0.9"/>
<text x="41.5" y="547.45" font-size="8.2" text-anchor="end" fill="#231F20" stroke="#231F20" stroke-width="0.16">10</text>
<line x1="44.8" y1="557.3" x2="47.8" y2="557.3" stroke="#231F20" stroke-width="0.9"/>
<text x="41.5" y="560.25" font-size="8.2" text-anchor="end" fill="#231F20" stroke="#231F20" stroke-width="0.16">5</text>
<line x1="44.8" y1="570.4" x2="47.8" y2="570.4" stroke="#231F20" stroke-width="0.9"/>
<text x="41.5" y="573.35" font-size="8.2" text-anchor="end" fill="#231F20" stroke="#231F20" stroke-width="0.16">0</text>
<line x1="57.7" y1="570.4" x2="57.7" y2="572.9" stroke="#231F20" stroke-width="0.8"/>
<line x1="76.55" y1="570.4" x2="76.55" y2="572.9" stroke="#231F20" stroke-width="0.8"/>
<line x1="57.7" y1="510.4" x2="57.7" y2="513.5" stroke="#4A4A4A" stroke-width="0.9"/>
<line x1="54.5" y1="510.4" x2="60.9" y2="510.4" stroke="#4A4A4A" stroke-width="0.9"/>
<rect x="51.5" y="513.5" width="12.4" height="56.5" fill="#284A8A"/>
<line x1="76.55" y1="535.3" x2="76.55" y2="543.2" stroke="#4A4A4A" stroke-width="0.9"/>
<line x1="73.35" y1="535.3" x2="79.75" y2="535.3" stroke="#4A4A4A" stroke-width="0.9"/>
<rect x="70.4" y="543.2" width="12.3" height="26.8" fill="#A5002A"/>
<line x1="57.8" y1="507.6" x2="76.5" y2="507.6" stroke="#231F20" stroke-width="1.3"/>
<text x="67.15" y="507.8" font-size="7.4" text-anchor="middle" fill="#231F20" stroke="#231F20" stroke-width="0.35" letter-spacing="0.1">**</text>
<text x="67" y="583.35" font-size="8.2" text-anchor="middle" fill="#231F20" font-style="italic" stroke="#231F20" stroke-width="0.16">Spi1</text>
<text x="23.5" y="540.29" font-size="9" text-anchor="middle" fill="#231F20" stroke="#231F20" stroke-width="0.16" textLength="68" lengthAdjust="spacingAndGlyphs" transform="rotate(-90 23.5 537.05)">Relative mRNA level</text>
<line x1="127" y1="502.7" x2="127" y2="570.9" stroke="#231F20" stroke-width="1"/>
<line x1="126.5" y1="570.4" x2="165.8" y2="570.4" stroke="#231F20" stroke-width="1"/>
<line x1="124" y1="505.5" x2="127" y2="505.5" stroke="#231F20" stroke-width="0.9"/>
<text x="120.7" y="508.45" font-size="8.2" text-anchor="end" fill="#231F20" stroke="#231F20" stroke-width="0.16">60</text>
<line x1="124" y1="527.3" x2="127" y2="527.3" stroke="#231F20" stroke-width="0.9"/>
<text x="120.7" y="530.25" font-size="8.2" text-anchor="end" fill="#231F20" stroke="#231F20" stroke-width="0.16">40</text>
<line x1="124" y1="548.8" x2="127" y2="548.8" stroke="#231F20" stroke-width="0.9"/>
<text x="120.7" y="551.75" font-size="8.2" text-anchor="end" fill="#231F20" stroke="#231F20" stroke-width="0.16">20</text>
<line x1="124" y1="570.4" x2="127" y2="570.4" stroke="#231F20" stroke-width="0.9"/>
<text x="120.7" y="573.35" font-size="8.2" text-anchor="end" fill="#231F20" stroke="#231F20" stroke-width="0.16">0</text>
<line x1="137" y1="570.4" x2="137" y2="572.9" stroke="#231F20" stroke-width="0.8"/>
<line x1="156.05" y1="570.4" x2="156.05" y2="572.9" stroke="#231F20" stroke-width="0.8"/>
<line x1="137" y1="509.6" x2="137" y2="523.2" stroke="#4A4A4A" stroke-width="0.9"/>
<line x1="133.8" y1="509.6" x2="140.2" y2="509.6" stroke="#4A4A4A" stroke-width="0.9"/>
<rect x="130.8" y="523.2" width="12.4" height="46.8" fill="#284A8A"/>
<line x1="156.05" y1="553.2" x2="156.05" y2="558.8" stroke="#4A4A4A" stroke-width="0.9"/>
<line x1="152.85" y1="553.2" x2="159.25" y2="553.2" stroke="#4A4A4A" stroke-width="0.9"/>
<rect x="149.9" y="558.8" width="12.3" height="11.2" fill="#A5002A"/>
<line x1="137.3" y1="506.5" x2="156.1" y2="506.5" stroke="#231F20" stroke-width="1.3"/>
<text x="146.7" y="506.7" font-size="7.4" text-anchor="middle" fill="#231F20" stroke="#231F20" stroke-width="0.35" letter-spacing="0.1">*</text>
<text x="146.5" y="583.35" font-size="8.2" text-anchor="middle" fill="#231F20" font-style="italic" stroke="#231F20" stroke-width="0.16">Chac1</text>
<text x="103.5" y="540.29" font-size="9" text-anchor="middle" fill="#231F20" stroke="#231F20" stroke-width="0.16" textLength="68" lengthAdjust="spacingAndGlyphs" transform="rotate(-90 103.5 537.05)">Relative mRNA level</text>
<line x1="208.5" y1="501.9" x2="208.5" y2="540.4" stroke="#231F20" stroke-width="1"/>
<line x1="208.5" y1="545" x2="208.5" y2="570.4" stroke="#231F20" stroke-width="1"/>
<line x1="208" y1="570.4" x2="247" y2="570.4" stroke="#231F20" stroke-width="1"/>
<line x1="205.5" y1="505" x2="208.5" y2="505" stroke="#231F20" stroke-width="0.9"/>
<text x="202.2" y="507.95" font-size="8.2" text-anchor="end" fill="#231F20" stroke="#231F20" stroke-width="0.16">400</text>
<line x1="205.5" y1="516.8" x2="208.5" y2="516.8" stroke="#231F20" stroke-width="0.9"/>
<text x="202.2" y="519.75" font-size="8.2" text-anchor="end" fill="#231F20" stroke="#231F20" stroke-width="0.16">300</text>
<line x1="205.5" y1="528.5" x2="208.5" y2="528.5" stroke="#231F20" stroke-width="0.9"/>
<text x="202.2" y="531.45" font-size="8.2" text-anchor="end" fill="#231F20" stroke="#231F20" stroke-width="0.16">200</text>
<line x1="205.5" y1="540.1" x2="208.5" y2="540.1" stroke="#231F20" stroke-width="0.9"/>
<text x="202.2" y="543.05" font-size="8.2" text-anchor="end" fill="#231F20" stroke="#231F20" stroke-width="0.16">100</text>
<line x1="205.5" y1="545.5" x2="208.5" y2="545.5" stroke="#231F20" stroke-width="0.9"/>
<text x="202.2" y="548.45" font-size="8.2" text-anchor="end" fill="#231F20" stroke="#231F20" stroke-width="0.16">2</text>
<line x1="205.5" y1="557.8" x2="208.5" y2="557.8" stroke="#231F20" stroke-width="0.9"/>
<text x="202.2" y="560.75" font-size="8.2" text-anchor="end" fill="#231F20" stroke="#231F20" stroke-width="0.16">1</text>
<line x1="205.5" y1="570.4" x2="208.5" y2="570.4" stroke="#231F20" stroke-width="0.9"/>
<text x="202.2" y="573.35" font-size="8.2" text-anchor="end" fill="#231F20" stroke="#231F20" stroke-width="0.16">0</text>
<line x1="218.85" y1="570.4" x2="218.85" y2="572.9" stroke="#231F20" stroke-width="0.8"/>
<line x1="237.65" y1="570.4" x2="237.65" y2="572.9" stroke="#231F20" stroke-width="0.8"/>
<line x1="218.85" y1="513.5" x2="218.85" y2="516.8" stroke="#4A4A4A" stroke-width="0.9"/>
<line x1="215.65" y1="513.5" x2="222.05" y2="513.5" stroke="#4A4A4A" stroke-width="0.9"/>
<rect x="212.7" y="516.8" width="12.3" height="53.2" fill="#284A8A"/>
<line x1="237.65" y1="534.7" x2="237.65" y2="535.3" stroke="#4A4A4A" stroke-width="0.9"/>
<line x1="234.45" y1="534.7" x2="240.85" y2="534.7" stroke="#4A4A4A" stroke-width="0.9"/>
<rect x="231.5" y="535.3" width="12.3" height="34.7" fill="#A5002A"/>
<rect x="209.1" y="540.7" width="37.9" height="4" fill="#FFFFFF"/>
<line x1="206.2" y1="540.4" x2="210.8" y2="540.4" stroke="#231F20" stroke-width="0.8"/>
<line x1="206.2" y1="545" x2="210.8" y2="545" stroke="#231F20" stroke-width="0.8"/>
<line x1="219.2" y1="510.4" x2="237.8" y2="510.4" stroke="#231F20" stroke-width="1.3"/>
<text x="228.5" y="510.6" font-size="7.4" text-anchor="middle" fill="#231F20" stroke="#231F20" stroke-width="0.35" letter-spacing="0.1">***</text>
<text x="228.5" y="583.35" font-size="8.2" text-anchor="middle" fill="#231F20" font-style="italic" stroke="#231F20" stroke-width="0.16">Srf</text>
<text x="180.4" y="539.89" font-size="9" text-anchor="middle" fill="#231F20" stroke="#231F20" stroke-width="0.16" textLength="68" lengthAdjust="spacingAndGlyphs" transform="rotate(-90 180.4 536.65)">Relative mRNA level</text>
<line x1="285.7" y1="502.7" x2="285.7" y2="570.9" stroke="#231F20" stroke-width="1"/>
<line x1="285.2" y1="570.4" x2="325" y2="570.4" stroke="#231F20" stroke-width="1"/>
<line x1="282.7" y1="506.1" x2="285.7" y2="506.1" stroke="#231F20" stroke-width="0.9"/>
<text x="279.4" y="509.05" font-size="8.2" text-anchor="end" fill="#231F20" stroke="#231F20" stroke-width="0.16">40</text>
<line x1="282.7" y1="522.2" x2="285.7" y2="522.2" stroke="#231F20" stroke-width="0.9"/>
<text x="279.4" y="525.15" font-size="8.2" text-anchor="end" fill="#231F20" stroke="#231F20" stroke-width="0.16">30</text>
<line x1="282.7" y1="538.4" x2="285.7" y2="538.4" stroke="#231F20" stroke-width="0.9"/>
<text x="279.4" y="541.35" font-size="8.2" text-anchor="end" fill="#231F20" stroke="#231F20" stroke-width="0.16">20</text>
<line x1="282.7" y1="554.2" x2="285.7" y2="554.2" stroke="#231F20" stroke-width="0.9"/>
<text x="279.4" y="557.15" font-size="8.2" text-anchor="end" fill="#231F20" stroke="#231F20" stroke-width="0.16">10</text>
<line x1="282.7" y1="570.4" x2="285.7" y2="570.4" stroke="#231F20" stroke-width="0.9"/>
<text x="279.4" y="573.35" font-size="8.2" text-anchor="end" fill="#231F20" stroke="#231F20" stroke-width="0.16">0</text>
<line x1="296.15" y1="570.4" x2="296.15" y2="572.9" stroke="#231F20" stroke-width="0.8"/>
<line x1="314.9" y1="570.4" x2="314.9" y2="572.9" stroke="#231F20" stroke-width="0.8"/>
<line x1="296.15" y1="515.5" x2="296.15" y2="521.9" stroke="#4A4A4A" stroke-width="0.9"/>
<line x1="292.95" y1="515.5" x2="299.35" y2="515.5" stroke="#4A4A4A" stroke-width="0.9"/>
<rect x="290" y="521.9" width="12.3" height="48.1" fill="#284A8A"/>
<line x1="314.9" y1="539.3" x2="314.9" y2="541.2" stroke="#4A4A4A" stroke-width="0.9"/>
<line x1="311.7" y1="539.3" x2="318.1" y2="539.3" stroke="#4A4A4A" stroke-width="0.9"/>
<rect x="308.8" y="541.2" width="12.2" height="28.8" fill="#A5002A"/>
<line x1="296.2" y1="513.2" x2="315" y2="513.2" stroke="#231F20" stroke-width="1.3"/>
<text x="305.6" y="513.4" font-size="7.4" text-anchor="middle" fill="#231F20" stroke="#231F20" stroke-width="0.35" letter-spacing="0.1">**</text>
<text x="305.4" y="583.35" font-size="8.2" text-anchor="middle" fill="#231F20" font-style="italic" stroke="#231F20" stroke-width="0.16">Fli1</text>
<text x="262.3" y="540.29" font-size="9" text-anchor="middle" fill="#231F20" stroke="#231F20" stroke-width="0.16" textLength="68" lengthAdjust="spacingAndGlyphs" transform="rotate(-90 262.3 537.05)">Relative mRNA level</text>
<line x1="47.6" y1="596.5" x2="47.6" y2="623.1" stroke="#231F20" stroke-width="1"/>
<line x1="47.6" y1="626.9" x2="47.6" y2="663.5" stroke="#231F20" stroke-width="1"/>
<line x1="47.1" y1="663.5" x2="86.2" y2="663.5" stroke="#231F20" stroke-width="1"/>
<line x1="44.6" y1="598.8" x2="47.6" y2="598.8" stroke="#231F20" stroke-width="0.9"/>
<text x="41.3" y="601.75" font-size="8.2" text-anchor="end" fill="#231F20" stroke="#231F20" stroke-width="0.16">75</text>
<line x1="44.6" y1="611.1" x2="47.6" y2="611.1" stroke="#231F20" stroke-width="0.9"/>
<text x="41.3" y="614.05" font-size="8.2" text-anchor="end" fill="#231F20" stroke="#231F20" stroke-width="0.16">70</text>
<line x1="44.6" y1="622.6" x2="47.6" y2="622.6" stroke="#231F20" stroke-width="0.9"/>
<text x="41.3" y="625.55" font-size="8.2" text-anchor="end" fill="#231F20" stroke="#231F20" stroke-width="0.16">65</text>
<line x1="44.6" y1="627.6" x2="47.6" y2="627.6" stroke="#231F20" stroke-width="0.9"/>
<text x="41.3" y="630.55" font-size="8.2" text-anchor="end" fill="#231F20" stroke="#231F20" stroke-width="0.16">6</text>
<line x1="44.6" y1="639.5" x2="47.6" y2="639.5" stroke="#231F20" stroke-width="0.9"/>
<text x="41.3" y="642.45" font-size="8.2" text-anchor="end" fill="#231F20" stroke="#231F20" stroke-width="0.16">4</text>
<line x1="44.6" y1="651.5" x2="47.6" y2="651.5" stroke="#231F20" stroke-width="0.9"/>
<text x="41.3" y="654.45" font-size="8.2" text-anchor="end" fill="#231F20" stroke="#231F20" stroke-width="0.16">2</text>
<line x1="44.6" y1="663.5" x2="47.6" y2="663.5" stroke="#231F20" stroke-width="0.9"/>
<text x="41.3" y="666.45" font-size="8.2" text-anchor="end" fill="#231F20" stroke="#231F20" stroke-width="0.16">0</text>
<line x1="57.7" y1="663.5" x2="57.7" y2="666" stroke="#231F20" stroke-width="0.8"/>
<line x1="76.55" y1="663.5" x2="76.55" y2="666" stroke="#231F20" stroke-width="0.8"/>
<line x1="57.7" y1="603.5" x2="57.7" y2="607.2" stroke="#4A4A4A" stroke-width="0.9"/>
<line x1="54.5" y1="603.5" x2="60.9" y2="603.5" stroke="#4A4A4A" stroke-width="0.9"/>
<rect x="51.5" y="607.2" width="12.4" height="55.9" fill="#284A8A"/>
<line x1="76.55" y1="628.5" x2="76.55" y2="636.5" stroke="#4A4A4A" stroke-width="0.9"/>
<line x1="73.35" y1="628.5" x2="79.75" y2="628.5" stroke="#4A4A4A" stroke-width="0.9"/>
<rect x="70.4" y="636.5" width="12.3" height="26.6" fill="#A5002A"/>
<rect x="48.2" y="623.4" width="38" height="3.2" fill="#FFFFFF"/>
<line x1="45.3" y1="623.1" x2="49.9" y2="623.1" stroke="#231F20" stroke-width="0.8"/>
<line x1="45.3" y1="626.9" x2="49.9" y2="626.9" stroke="#231F20" stroke-width="0.8"/>
<line x1="57.8" y1="601.1" x2="76.5" y2="601.1" stroke="#231F20" stroke-width="1.3"/>
<text x="67.15" y="601.3" font-size="7.4" text-anchor="middle" fill="#231F20" stroke="#231F20" stroke-width="0.35" letter-spacing="0.1">****</text>
<text x="68" y="676.75" font-size="8.2" text-anchor="middle" fill="#231F20" font-style="italic" stroke="#231F20" stroke-width="0.16">S100a9</text>
<text x="23.5" y="633.74" font-size="9" text-anchor="middle" fill="#231F20" stroke="#231F20" stroke-width="0.16" textLength="68" lengthAdjust="spacingAndGlyphs" transform="rotate(-90 23.5 630.5)">Relative mRNA level</text>
<rect x="95.8" y="606.4" width="6.5" height="5.2" fill="#284A8A"/>
<rect x="95.8" y="615.4" width="6.5" height="5.2" fill="#A5002A"/>
<text x="106.2" y="611.8" font-size="9.3" font-style="italic" fill="#231F20" textLength="48" lengthAdjust="spacingAndGlyphs" stroke="#231F20" stroke-width="0.15">NHD13/Setd2</text>
<text x="154.4" y="608.9" font-size="5.4" font-style="italic" fill="#231F20" textLength="5.8" lengthAdjust="spacingAndGlyphs" stroke="#231F20" stroke-width="0.15">f/f</text>
<text x="106.2" y="620.8" font-size="9.3" font-style="italic" fill="#231F20" textLength="48" lengthAdjust="spacingAndGlyphs" stroke="#231F20" stroke-width="0.15">NHD13/Setd2</text>
<text x="154.4" y="617.9" font-size="5.4" fill="#231F20" textLength="7" lengthAdjust="spacingAndGlyphs" stroke="#231F20" stroke-width="0.15">&#916;/&#916;</text>
<text x="357.2" y="414.85" font-size="8.2" text-anchor="start" fill="#231F20" stroke="#231F20" stroke-width="0.16" textLength="56.2" lengthAdjust="spacingAndGlyphs">Methylation Loci</text>
<circle cx="354" cy="423.3" r="1.4" fill="#D42828"/>
<circle cx="354" cy="433.5" r="1.4" fill="#3878BA"/>
<text x="357.2" y="426.25" font-size="8.2" text-anchor="start" fill="#231F20" stroke="#231F20" stroke-width="0.16" textLength="47" lengthAdjust="spacingAndGlyphs">20% higher in</text>
<text x="406.9" y="426.2" font-size="8.2" font-style="italic" fill="#231F20" textLength="47.4" lengthAdjust="spacingAndGlyphs" stroke="#231F20" stroke-width="0.15">NHD13/Setd2</text>
<text x="454.8" y="422.6" font-size="5.5" fill="#231F20" textLength="6.5" lengthAdjust="spacingAndGlyphs" stroke="#231F20" stroke-width="0.15">&#916;/&#916;</text>
<text x="463.1" y="426.25" font-size="8.2" text-anchor="start" fill="#231F20" stroke="#231F20" stroke-width="0.16" textLength="31.4" lengthAdjust="spacingAndGlyphs">[426532]</text>
<text x="357.2" y="436.45" font-size="8.2" text-anchor="start" fill="#231F20" stroke="#231F20" stroke-width="0.16" textLength="47" lengthAdjust="spacingAndGlyphs">20% higher in</text>
<text x="406.9" y="436.4" font-size="8.2" font-style="italic" fill="#231F20" textLength="47.4" lengthAdjust="spacingAndGlyphs" stroke="#231F20" stroke-width="0.15">NHD13/Setd2</text>
<text x="454.8" y="432.8" font-size="5.5" font-style="italic" fill="#231F20" textLength="5" lengthAdjust="spacingAndGlyphs" stroke="#231F20" stroke-width="0.15">f/f</text>
<text x="460.8" y="436.45" font-size="8.2" text-anchor="start" fill="#231F20" stroke="#231F20" stroke-width="0.16" textLength="30.4" lengthAdjust="spacingAndGlyphs">[179385]</text>
<clipPath id="dclip"><rect x="389.2" y="453.8" width="85.5" height="81.2"/></clipPath>
<g clip-path="url(#dclip)">
<linearGradient id="dred" gradientUnits="userSpaceOnUse" x1="392.8" y1="457" x2="424.04" y2="487"><stop offset="0" stop-color="#E47676"/><stop offset="0.55" stop-color="#DA4040"/><stop offset="1" stop-color="#D42828"/></linearGradient>
<polygon points="392.02,517.75 392.02,456.25 456.06,456.25" fill="url(#dred)"/>
<linearGradient id="dblue" gradientUnits="userSpaceOnUse" x1="470.9" y1="532" x2="439.66" y2="502"><stop offset="0" stop-color="#CADBEE"/><stop offset="0.55" stop-color="#70A0D0"/><stop offset="1" stop-color="#3878BA"/></linearGradient>
<polygon points="407.64,532.75 471.68,532.75 471.68,471.25" fill="url(#dblue)"/>
<polygon points="393.19,531.62 393.19,517 455.28,457.38 470.51,457.38 470.51,472 408.42,531.62" fill="#9A9A9A" stroke="#9A9A9A" stroke-width="1.6" stroke-linejoin="round"/>
<rect x="394.75" y="453.8" width="0.96" height="81.2" fill="#FFF" opacity="0.57"/>
<rect x="400.76" y="453.8" width="0.97" height="81.2" fill="#FFF" opacity="0.55"/>
<rect x="405.72" y="453.8" width="0.75" height="81.2" fill="#FFF" opacity="0.55"/>
<rect x="410.81" y="453.8" width="1.23" height="81.2" fill="#FFF" opacity="0.39"/>
<rect x="414.89" y="453.8" width="0.67" height="81.2" fill="#FFF" opacity="0.67"/>
<rect x="420.18" y="453.8" width="0.63" height="81.2" fill="#FFF" opacity="0.74"/>
<rect x="426.31" y="453.8" width="1.12" height="81.2" fill="#FFF" opacity="0.6"/>
<rect x="429.93" y="453.8" width="0.61" height="81.2" fill="#FFF" opacity="0.56"/>
<rect x="433.24" y="453.8" width="0.75" height="81.2" fill="#FFF" opacity="0.45"/>
<rect x="436.46" y="453.8" width="0.97" height="81.2" fill="#FFF" opacity="0.53"/>
<rect x="442.21" y="453.8" width="1.02" height="81.2" fill="#FFF" opacity="0.61"/>
<rect x="446.9" y="453.8" width="1.13" height="81.2" fill="#FFF" opacity="0.53"/>
<rect x="450.89" y="453.8" width="1.4" height="81.2" fill="#FFF" opacity="0.75"/>
<rect x="456.64" y="453.8" width="1.17" height="81.2" fill="#FFF" opacity="0.48"/>
<rect x="460.48" y="453.8" width="0.83" height="81.2" fill="#FFF" opacity="0.38"/>
<rect x="466" y="453.8" width="0.92" height="81.2" fill="#FFF" opacity="0.69"/>
<rect x="470.33" y="453.8" width="1.37" height="81.2" fill="#FFF" opacity="0.69"/>
<rect x="389.2" y="530.12" width="85.5" height="0.77" fill="#FFF" opacity="0.71"/>
<rect x="389.2" y="525.72" width="85.5" height="1.38" fill="#FFF" opacity="0.51"/>
<rect x="389.2" y="522.5" width="85.5" height="1.1" fill="#FFF" opacity="0.66"/>
<rect x="389.2" y="518.69" width="85.5" height="0.67" fill="#FFF" opacity="0.48"/>
<rect x="389.2" y="512.79" width="85.5" height="1.21" fill="#FFF" opacity="0.4"/>
<rect x="389.2" y="509.06" width="85.5" height="0.68" fill="#FFF" opacity="0.37"/>
<rect x="389.2" y="503.66" width="85.5" height="0.74" fill="#FFF" opacity="0.57"/>
<rect x="389.2" y="499.32" width="85.5" height="0.75" fill="#FFF" opacity="0.64"/>
<rect x="389.2" y="495.93" width="85.5" height="1.11" fill="#FFF" opacity="0.4"/>
<rect x="389.2" y="491.67" width="85.5" height="0.77" fill="#FFF" opacity="0.46"/>
<rect x="389.2" y="485.75" width="85.5" height="1.24" fill="#FFF" opacity="0.47"/>
<rect x="389.2" y="480.1" width="85.5" height="0.77" fill="#FFF" opacity="0.51"/>
<rect x="389.2" y="474.54" width="85.5" height="1.11" fill="#FFF" opacity="0.39"/>
<rect x="389.2" y="468.57" width="85.5" height="0.77" fill="#FFF" opacity="0.45"/>
<rect x="389.2" y="463.25" width="85.5" height="0.86" fill="#FFF" opacity="0.47"/>
<rect x="389.2" y="460.03" width="85.5" height="0.67" fill="#FFF" opacity="0.58"/>
<rect x="389.2" y="456.3" width="85.5" height="1.08" fill="#FFF" opacity="0.5"/>
<rect x="389.2" y="453.8" width="6.72" height="63.2" fill="#FFF" opacity="0.75"/>
<rect x="395.92" y="453.8" width="59.36" height="6.2" fill="#FFF" opacity="0.75"/>
<rect x="467.78" y="472" width="6.92" height="63" fill="#FFF" opacity="0.8"/>
<rect x="408.42" y="529" width="59.36" height="6" fill="#FFF" opacity="0.8"/>
<line x1="384.99" y1="524.5" x2="463.09" y2="449.5" stroke="#1A1A1A" stroke-width="0.9"/>
<line x1="400.61" y1="539.5" x2="478.71" y2="464.5" stroke="#1A1A1A" stroke-width="0.9"/>
</g>
<rect x="389.2" y="453.8" width="85.5" height="81.2" fill="none" stroke="#111" stroke-width="1.3"/>
<line x1="386.2" y1="457.2" x2="389.2" y2="457.2" stroke="#231F20" stroke-width="0.9"/>
<text x="383.9" y="460.15" font-size="8.2" text-anchor="end" fill="#231F20" stroke="#231F20" stroke-width="0.16" textLength="13.5" lengthAdjust="spacingAndGlyphs">100</text>
<line x1="386.2" y1="476" x2="389.2" y2="476" stroke="#231F20" stroke-width="0.9"/>
<text x="383.9" y="478.95" font-size="8.2" text-anchor="end" fill="#231F20" stroke="#231F20" stroke-width="0.16" textLength="9" lengthAdjust="spacingAndGlyphs">75</text>
<line x1="386.2" y1="494.7" x2="389.2" y2="494.7" stroke="#231F20" stroke-width="0.9"/>
<text x="383.9" y="497.65" font-size="8.2" text-anchor="end" fill="#231F20" stroke="#231F20" stroke-width="0.16" textLength="9" lengthAdjust="spacingAndGlyphs">50</text>
<line x1="386.2" y1="513.4" x2="389.2" y2="513.4" stroke="#231F20" stroke-width="0.9"/>
<text x="383.9" y="516.35" font-size="8.2" text-anchor="end" fill="#231F20" stroke="#231F20" stroke-width="0.16" textLength="9" lengthAdjust="spacingAndGlyphs">25</text>
<line x1="386.2" y1="532" x2="389.2" y2="532" stroke="#231F20" stroke-width="0.9"/>
<text x="383.9" y="534.95" font-size="8.2" text-anchor="end" fill="#231F20" stroke="#231F20" stroke-width="0.16" textLength="4.5" lengthAdjust="spacingAndGlyphs">0</text>
<line x1="392.8" y1="535" x2="392.8" y2="537.6" stroke="#231F20" stroke-width="0.9"/>
<text x="392.8" y="548.75" font-size="8.2" text-anchor="middle" fill="#231F20" stroke="#231F20" stroke-width="0.16" textLength="4.5" lengthAdjust="spacingAndGlyphs">0</text>
<line x1="412.5" y1="535" x2="412.5" y2="537.6" stroke="#231F20" stroke-width="0.9"/>
<text x="412.5" y="548.75" font-size="8.2" text-anchor="middle" fill="#231F20" stroke="#231F20" stroke-width="0.16" textLength="9" lengthAdjust="spacingAndGlyphs">25</text>
<line x1="432.2" y1="535" x2="432.2" y2="537.6" stroke="#231F20" stroke-width="0.9"/>
<text x="432.2" y="548.75" font-size="8.2" text-anchor="middle" fill="#231F20" stroke="#231F20" stroke-width="0.16" textLength="9" lengthAdjust="spacingAndGlyphs">50</text>
<line x1="451.8" y1="535" x2="451.8" y2="537.6" stroke="#231F20" stroke-width="0.9"/>
<text x="451.8" y="548.75" font-size="8.2" text-anchor="middle" fill="#231F20" stroke="#231F20" stroke-width="0.16" textLength="9" lengthAdjust="spacingAndGlyphs">75</text>
<line x1="470.9" y1="535" x2="470.9" y2="537.6" stroke="#231F20" stroke-width="0.9"/>
<text x="470.9" y="548.75" font-size="8.2" text-anchor="middle" fill="#231F20" stroke="#231F20" stroke-width="0.16" textLength="13.5" lengthAdjust="spacingAndGlyphs">100</text>
<g transform="translate(389 562.8)"><text x="0" y="0" font-size="10.2" fill="#231F20" stroke="#231F20" stroke-width="0.22" textLength="17.5" lengthAdjust="spacingAndGlyphs">mCG (</text><text x="17.9" y="0" font-size="10.2" font-style="italic" fill="#231F20" stroke="#231F20" stroke-width="0.22" textLength="43" lengthAdjust="spacingAndGlyphs">NHD13/Setd2</text><text x="61.5" y="-4.4" font-size="6" fill="#231F20" stroke="#231F20" stroke-width="0.1" textLength="7" lengthAdjust="spacingAndGlyphs">f/f</text><text x="69" y="0" font-size="10.2" fill="#231F20" stroke="#231F20" stroke-width="0.22" textLength="18.4" lengthAdjust="spacingAndGlyphs">) [%]</text></g>
<g transform="translate(366.2 541.1) rotate(-90)"><text x="0" y="0" font-size="10.2" fill="#231F20" stroke="#231F20" stroke-width="0.22" textLength="17.5" lengthAdjust="spacingAndGlyphs">mCG (</text><text x="17.9" y="0" font-size="10.2" font-style="italic" fill="#231F20" stroke="#231F20" stroke-width="0.22" textLength="43" lengthAdjust="spacingAndGlyphs">NHD13/Setd2</text><text x="61.5" y="-4.4" font-size="6" fill="#231F20" stroke="#231F20" stroke-width="0.1" textLength="13" lengthAdjust="spacingAndGlyphs">&#916;/&#916;</text><text x="75" y="0" font-size="10.2" fill="#231F20" stroke="#231F20" stroke-width="0.22" textLength="18.4" lengthAdjust="spacingAndGlyphs">) [%]</text></g>
<text x="388.6" y="583.86" font-size="9.6" text-anchor="start" fill="#231F20" stroke="#231F20" stroke-width="0.16" textLength="27" lengthAdjust="spacingAndGlyphs">DMRs</text>
<clipPath id="eclip"><rect x="389" y="588.8" width="85.9" height="84.1"/></clipPath>
<g clip-path="url(#eclip)">
<line x1="389.6" y1="672.5" x2="470.5" y2="591.8" stroke="#3D332D" stroke-width="1"/>
<polygon points="427.3,592.2 444,592.2 445.2,593.4 440.5,599.9 432.1,609.5 421.4,619 411.8,627.3 402.3,636.9 395.2,644 393.4,645.2 397.2,637 401.8,626.5 407.6,616.2 413,607.5 418.5,599.9 423.8,594" fill="#DD2A1C" stroke="#DD2A1C" stroke-width="0.8" stroke-linejoin="round"/>
<rect x="443.15" y="596.57" width="1" height="1" fill="#E4522F" opacity="0.8"/>
<rect x="404.55" y="621.54" width="1" height="1" fill="#E4522F" opacity="0.8"/>
<rect x="440.72" y="592.12" width="1" height="1" fill="#E4522F" opacity="0.8"/>
<rect x="413.95" y="603.77" width="1" height="1" fill="#E4522F" opacity="0.8"/>
<rect x="444.05" y="591.9" width="1" height="1" fill="#E4522F" opacity="0.8"/>
<rect x="407.17" y="613.42" width="1" height="1" fill="#E4522F" opacity="0.8"/>
<rect x="420.57" y="620.7" width="1" height="1" fill="#E4522F" opacity="0.8"/>
<rect x="413.92" y="606.15" width="1" height="1" fill="#E4522F" opacity="0.8"/>
<rect x="434.86" y="607.44" width="1" height="1" fill="#E4522F" opacity="0.8"/>
<rect x="440.26" y="601.4" width="1" height="1" fill="#E4522F" opacity="0.8"/>
<rect x="392.88" y="638.84" width="1" height="1" fill="#E4522F" opacity="0.8"/>
<rect x="399.51" y="626.1" width="1" height="1" fill="#E4522F" opacity="0.8"/>
<rect x="413.34" y="595.63" width="1" height="1" fill="#E4522F" opacity="0.8"/>
<rect x="426.55" y="614.86" width="1" height="1" fill="#E4522F" opacity="0.8"/>
<rect x="441.94" y="598.82" width="1" height="1" fill="#E4522F" opacity="0.8"/>
<rect x="403.87" y="617.96" width="1" height="1" fill="#E4522F" opacity="0.8"/>
<rect x="406.71" y="632.48" width="1" height="1" fill="#E4522F" opacity="0.8"/>
<rect x="445.21" y="593.12" width="1" height="1" fill="#E4522F" opacity="0.8"/>
<rect x="421.35" y="594.89" width="1" height="1" fill="#E4522F" opacity="0.8"/>
<rect x="412.56" y="597.55" width="1" height="1" fill="#E4522F" opacity="0.8"/>
<rect x="413.17" y="602.51" width="1" height="1" fill="#E4522F" opacity="0.8"/>
<rect x="401.87" y="622.62" width="1" height="1" fill="#E4522F" opacity="0.8"/>
<rect x="398.97" y="625.71" width="1" height="1" fill="#E4522F" opacity="0.8"/>
<rect x="412.54" y="606.85" width="1" height="1" fill="#E4522F" opacity="0.8"/>
<rect x="445.1" y="595.33" width="1" height="1" fill="#E4522F" opacity="0.8"/>
<rect x="420.49" y="593.08" width="1" height="1" fill="#E4522F" opacity="0.8"/>
<rect x="417.84" y="594.95" width="1" height="1" fill="#E4522F" opacity="0.8"/>
<rect x="399.98" y="616.54" width="1" height="1" fill="#E4522F" opacity="0.8"/>
<rect x="407.57" y="616.1" width="1" height="1" fill="#E4522F" opacity="0.8"/>
<rect x="416.78" y="593.47" width="1" height="1" fill="#E4522F" opacity="0.8"/>
<rect x="412.93" y="626.47" width="1" height="1" fill="#E4522F" opacity="0.8"/>
<rect x="393.78" y="629.67" width="1" height="1" fill="#E4522F" opacity="0.8"/>
<rect x="397.11" y="633.76" width="1" height="1" fill="#E4522F" opacity="0.8"/>
<rect x="415.09" y="626.05" width="1" height="1" fill="#E4522F" opacity="0.8"/>
<rect x="405.8" y="618.64" width="1" height="1" fill="#E4522F" opacity="0.8"/>
<rect x="396.87" y="634.65" width="1" height="1" fill="#E4522F" opacity="0.8"/>
<rect x="412.66" y="626.91" width="1" height="1" fill="#E4522F" opacity="0.8"/>
<rect x="405.38" y="613.68" width="1" height="1" fill="#E4522F" opacity="0.8"/>
<rect x="419.88" y="596.04" width="1" height="1" fill="#E4522F" opacity="0.8"/>
<rect x="396.06" y="634.59" width="1" height="1" fill="#E4522F" opacity="0.8"/>
<rect x="412.52" y="626.76" width="1" height="1" fill="#E4522F" opacity="0.8"/>
<rect x="393.16" y="644.46" width="1" height="1" fill="#E4522F" opacity="0.8"/>
<rect x="423.86" y="619.01" width="1" height="1" fill="#E4522F" opacity="0.8"/>
<rect x="407.7" y="632.27" width="1" height="1" fill="#E4522F" opacity="0.8"/>
<rect x="416.16" y="601.06" width="1" height="1" fill="#E4522F" opacity="0.8"/>
<rect x="415.09" y="596.09" width="1" height="1" fill="#E4522F" opacity="0.8"/>
<rect x="444.54" y="594.63" width="1" height="1" fill="#E4522F" opacity="0.8"/>
<rect x="438.54" y="603.32" width="1" height="1" fill="#E4522F" opacity="0.8"/>
<rect x="409.36" y="629.79" width="1" height="1" fill="#E4522F" opacity="0.8"/>
<rect x="428.73" y="591.99" width="1" height="1" fill="#E4522F" opacity="0.8"/>
<rect x="413.72" y="604.81" width="1" height="1" fill="#E4522F" opacity="0.8"/>
<rect x="415.8" y="625.59" width="1" height="1" fill="#E4522F" opacity="0.8"/>
<rect x="404.38" y="618.96" width="1" height="1" fill="#E4522F" opacity="0.8"/>
<rect x="403.04" y="616.45" width="1" height="1" fill="#E4522F" opacity="0.8"/>
<rect x="417" y="596.97" width="1" height="1" fill="#E4522F" opacity="0.8"/>
<rect x="409.01" y="612.77" width="1" height="1" fill="#E4522F" opacity="0.8"/>
<rect x="395.62" y="633.02" width="1" height="1" fill="#E4522F" opacity="0.8"/>
<rect x="406.47" y="617.28" width="1" height="1" fill="#E4522F" opacity="0.8"/>
<rect x="426.16" y="592.57" width="1" height="1" fill="#E4522F" opacity="0.8"/>
<rect x="430.37" y="611.33" width="1" height="1" fill="#E4522F" opacity="0.8"/>
<rect x="405.29" y="611.1" width="1" height="1" fill="#E4522F" opacity="0.8"/>
<rect x="392.57" y="641.92" width="1" height="1" fill="#E4522F" opacity="0.8"/>
<rect x="404.41" y="614.52" width="1" height="1" fill="#E4522F" opacity="0.8"/>
<rect x="397.14" y="613.51" width="1" height="1" fill="#E4522F" opacity="0.8"/>
<rect x="418.49" y="593.98" width="1" height="1" fill="#E4522F" opacity="0.8"/>
<rect x="411.16" y="607.28" width="1" height="1" fill="#E4522F" opacity="0.8"/>
<rect x="414.59" y="599.1" width="1" height="1" fill="#E4522F" opacity="0.8"/>
<rect x="433.48" y="608.69" width="1" height="1" fill="#E4522F" opacity="0.8"/>
<rect x="397.72" y="632.39" width="1" height="1" fill="#E4522F" opacity="0.8"/>
<rect x="403.6" y="621.81" width="1" height="1" fill="#E4522F" opacity="0.8"/>
<rect x="394.15" y="639.25" width="1" height="1" fill="#E4522F" opacity="0.8"/>
<rect x="431.37" y="611.82" width="1" height="1" fill="#E4522F" opacity="0.8"/>
<rect x="405.45" y="609.89" width="1" height="1" fill="#E4522F" opacity="0.8"/>
<rect x="405.85" y="614.2" width="1" height="1" fill="#E4522F" opacity="0.8"/>
<rect x="399.85" y="625.95" width="1" height="1" fill="#E4522F" opacity="0.8"/>
<rect x="421.88" y="618.84" width="1" height="1" fill="#E4522F" opacity="0.8"/>
<rect x="398.58" y="629.5" width="1" height="1" fill="#E4522F" opacity="0.8"/>
<rect x="398.41" y="632.85" width="1" height="1" fill="#E4522F" opacity="0.8"/>
<rect x="445.48" y="594.1" width="1" height="1" fill="#E4522F" opacity="0.8"/>
<rect x="404.68" y="636.22" width="1" height="1" fill="#E4522F" opacity="0.8"/>
<rect x="411.75" y="628.93" width="1" height="1" fill="#E4522F" opacity="0.8"/>
<rect x="441.37" y="599.97" width="1" height="1" fill="#E4522F" opacity="0.8"/>
<rect x="398.16" y="633.34" width="1" height="1" fill="#E4522F" opacity="0.8"/>
<rect x="400.46" y="627.43" width="1" height="1" fill="#E4522F" opacity="0.8"/>
<rect x="405.72" y="613.58" width="1" height="1" fill="#E4522F" opacity="0.8"/>
<rect x="394.34" y="645.53" width="1" height="1" fill="#E4522F" opacity="0.8"/>
<rect x="407.31" y="631.91" width="1" height="1" fill="#E4522F" opacity="0.8"/>
<rect x="409.56" y="597.22" width="1" height="1" fill="#E4522F" opacity="0.8"/>
<rect x="435.62" y="607.21" width="1" height="1" fill="#E4522F" opacity="0.8"/>
<rect x="442.82" y="597.71" width="1" height="1" fill="#E4522F" opacity="0.8"/>
<rect x="406.81" y="632.93" width="1" height="1" fill="#E4522F" opacity="0.8"/>
<rect x="404.12" y="618.49" width="1" height="1" fill="#E4522F" opacity="0.8"/>
<rect x="423.48" y="593.02" width="1" height="1" fill="#E4522F" opacity="0.8"/>
<rect x="403.43" y="621.71" width="1" height="1" fill="#E4522F" opacity="0.8"/>
<rect x="431.96" y="609.82" width="1" height="1" fill="#E4522F" opacity="0.8"/>
<rect x="401.12" y="622.43" width="1" height="1" fill="#E4522F" opacity="0.8"/>
<rect x="423.97" y="617.48" width="1" height="1" fill="#E4522F" opacity="0.8"/>
<rect x="408.41" y="632.73" width="1" height="1" fill="#E4522F" opacity="0.8"/>
<rect x="419.76" y="597.66" width="1" height="1" fill="#E4522F" opacity="0.8"/>
<rect x="395.61" y="626.51" width="1" height="1" fill="#E4522F" opacity="0.8"/>
<rect x="441.61" y="601.18" width="1" height="1" fill="#E4522F" opacity="0.8"/>
<rect x="405.34" y="617.96" width="1" height="1" fill="#E4522F" opacity="0.8"/>
<rect x="398.82" y="626.6" width="1" height="1" fill="#E4522F" opacity="0.8"/>
<rect x="418.03" y="598.28" width="1" height="1" fill="#E4522F" opacity="0.8"/>
<rect x="439.08" y="603.61" width="1" height="1" fill="#E4522F" opacity="0.8"/>
<rect x="417.55" y="624.05" width="1" height="1" fill="#E4522F" opacity="0.8"/>
<rect x="400.14" y="625.98" width="1" height="1" fill="#E4522F" opacity="0.8"/>
<rect x="415.01" y="625.81" width="1" height="1" fill="#E4522F" opacity="0.8"/>
<rect x="396.39" y="643.33" width="1" height="1" fill="#E4522F" opacity="0.8"/>
<rect x="418.89" y="622.59" width="1" height="1" fill="#E4522F" opacity="0.8"/>
<rect x="432.83" y="591.79" width="1" height="1" fill="#E4522F" opacity="0.8"/>
<rect x="404.89" y="619.33" width="1" height="1" fill="#E4522F" opacity="0.8"/>
<rect x="419.21" y="598.99" width="1" height="1" fill="#E4522F" opacity="0.8"/>
<rect x="417.91" y="596.95" width="1" height="1" fill="#E4522F" opacity="0.8"/>
<rect x="399.83" y="641.01" width="1" height="1" fill="#E4522F" opacity="0.8"/>
<rect x="401.13" y="625.41" width="1" height="1" fill="#E4522F" opacity="0.8"/>
<rect x="398.19" y="630.06" width="1" height="1" fill="#E4522F" opacity="0.8"/>
<rect x="415.95" y="599.19" width="1" height="1" fill="#E4522F" opacity="0.8"/>
<rect x="404.73" y="634.94" width="1" height="1" fill="#E4522F" opacity="0.8"/>
<rect x="393.18" y="637.76" width="1" height="1" fill="#E4522F" opacity="0.8"/>
<rect x="419.29" y="595.35" width="1" height="1" fill="#E4522F" opacity="0.8"/>
<rect x="418.41" y="596.37" width="1" height="1" fill="#E4522F" opacity="0.8"/>
<rect x="417.6" y="594.25" width="1" height="1" fill="#E4522F" opacity="0.8"/>
<rect x="395.85" y="634.36" width="1" height="1" fill="#E4522F" opacity="0.8"/>
<rect x="411.36" y="609.7" width="1" height="1" fill="#E4522F" opacity="0.8"/>
<rect x="398.26" y="641.41" width="1" height="1" fill="#E4522F" opacity="0.8"/>
<rect x="404.45" y="619.03" width="1" height="1" fill="#E4522F" opacity="0.8"/>
<rect x="409.73" y="608.78" width="1" height="1" fill="#E4522F" opacity="0.8"/>
<rect x="444.95" y="594.25" width="1" height="1" fill="#E4522F" opacity="0.8"/>
<rect x="403.61" y="619.36" width="1" height="1" fill="#E4522F" opacity="0.8"/>
<rect x="415.52" y="602.78" width="1" height="1" fill="#E4522F" opacity="0.8"/>
<rect x="397.44" y="630.79" width="1" height="1" fill="#E4522F" opacity="0.8"/>
<rect x="396.59" y="632.09" width="1" height="1" fill="#E4522F" opacity="0.8"/>
<rect x="398.64" y="619.71" width="1" height="1" fill="#E4522F" opacity="0.8"/>
<rect x="415.41" y="596.86" width="1" height="1" fill="#E4522F" opacity="0.8"/>
<rect x="408.66" y="614.15" width="1" height="1" fill="#E4522F" opacity="0.8"/>
<rect x="402.03" y="638.72" width="1" height="1" fill="#E4522F" opacity="0.8"/>
<rect x="399.78" y="629.25" width="1" height="1" fill="#E4522F" opacity="0.8"/>
<rect x="413.47" y="599.64" width="1" height="1" fill="#E4522F" opacity="0.8"/>
<rect x="409.5" y="606.48" width="1" height="1" fill="#E4522F" opacity="0.8"/>
<rect x="394.89" y="638.23" width="1" height="1" fill="#E4522F" opacity="0.8"/>
<rect x="438.56" y="604.2" width="1" height="1" fill="#E4522F" opacity="0.8"/>
<rect x="425.26" y="592.38" width="1" height="1" fill="#E4522F" opacity="0.8"/>
<rect x="415.26" y="598.94" width="1" height="1" fill="#E4522F" opacity="0.8"/>
<rect x="406.68" y="616.7" width="1" height="1" fill="#E4522F" opacity="0.8"/>
<rect x="410.77" y="609.01" width="1" height="1" fill="#E4522F" opacity="0.8"/>
<rect x="430.6" y="610.87" width="1" height="1" fill="#E4522F" opacity="0.8"/>
<rect x="406.71" y="612.78" width="1" height="1" fill="#E4522F" opacity="0.8"/>
<rect x="396.35" y="634.86" width="1" height="1" fill="#E4522F" opacity="0.8"/>
<rect x="397.66" y="632.05" width="1" height="1" fill="#E4522F" opacity="0.8"/>
<rect x="403.85" y="619.14" width="1" height="1" fill="#E4522F" opacity="0.8"/>
<rect x="423.69" y="592.62" width="1" height="1" fill="#E4522F" opacity="0.8"/>
<rect x="396.91" y="635.43" width="1" height="1" fill="#E4522F" opacity="0.8"/>
<rect x="410.57" y="611.05" width="1" height="1" fill="#E4522F" opacity="0.8"/>
<rect x="432.27" y="611.07" width="1" height="1" fill="#E4522F" opacity="0.8"/>
<rect x="412.74" y="597.44" width="1" height="1" fill="#E4522F" opacity="0.8"/>
<rect x="415.66" y="625.24" width="1" height="1" fill="#E4522F" opacity="0.8"/>
<rect x="445.35" y="596.12" width="1" height="1" fill="#E4522F" opacity="0.8"/>
<rect x="408.28" y="609.86" width="1" height="1" fill="#E4522F" opacity="0.8"/>
<rect x="411.09" y="602.24" width="1" height="1" fill="#E4522F" opacity="0.8"/>
<rect x="403.47" y="615.75" width="1" height="1" fill="#E4522F" opacity="0.8"/>
<rect x="421.05" y="619.46" width="1" height="1" fill="#E4522F" opacity="0.8"/>
<rect x="412.92" y="599.39" width="1" height="1" fill="#E4522F" opacity="0.8"/>
<rect x="418.01" y="597.45" width="1" height="1" fill="#E4522F" opacity="0.8"/>
<rect x="410.02" y="629.88" width="1" height="1" fill="#E4522F" opacity="0.8"/>
<rect x="397.17" y="636.54" width="1" height="1" fill="#E4522F" opacity="0.8"/>
<rect x="409.19" y="605.37" width="1" height="1" fill="#E4522F" opacity="0.8"/>
<rect x="418.62" y="596" width="1" height="1" fill="#E4522F" opacity="0.8"/>
<rect x="393.51" y="633.07" width="1" height="1" fill="#E4522F" opacity="0.8"/>
<rect x="394.73" y="631.83" width="1" height="1" fill="#E4522F" opacity="0.8"/>
<rect x="441.29" y="600.92" width="1" height="1" fill="#E4522F" opacity="0.8"/>
<rect x="394.95" y="641.5" width="1" height="1" fill="#E4522F" opacity="0.8"/>
<rect x="411.19" y="628.75" width="1" height="1" fill="#E4522F" opacity="0.8"/>
<rect x="406.49" y="633.29" width="1" height="1" fill="#E4522F" opacity="0.8"/>
<rect x="434.08" y="608.27" width="1" height="1" fill="#E4522F" opacity="0.8"/>
<rect x="412.7" y="602.79" width="1" height="1" fill="#E4522F" opacity="0.8"/>
<rect x="426.87" y="592.24" width="1" height="1" fill="#E4522F" opacity="0.8"/>
<rect x="444.17" y="596.7" width="1" height="1" fill="#E4522F" opacity="0.8"/>
<rect x="402.25" y="638.2" width="1" height="1" fill="#E4522F" opacity="0.8"/>
<rect x="412.87" y="605.4" width="1" height="1" fill="#E4522F" opacity="0.8"/>
<rect x="422.08" y="619.67" width="1" height="1" fill="#E4522F" opacity="0.8"/>
<rect x="408.69" y="607.77" width="1" height="1" fill="#E4522F" opacity="0.8"/>
<rect x="399.92" y="639.8" width="1" height="1" fill="#E4522F" opacity="0.8"/>
<rect x="400.8" y="639.96" width="1" height="1" fill="#E4522F" opacity="0.8"/>
<rect x="414.47" y="601.56" width="1" height="1" fill="#E4522F" opacity="0.8"/>
<rect x="418.73" y="621.39" width="1" height="1" fill="#E4522F" opacity="0.8"/>
<rect x="445.35" y="592.6" width="1" height="1" fill="#E4522F" opacity="0.8"/>
<rect x="402.28" y="621.84" width="1" height="1" fill="#E4522F" opacity="0.8"/>
<rect x="413.22" y="605.74" width="1" height="1" fill="#E4522F" opacity="0.8"/>
<rect x="433.68" y="608.43" width="1" height="1" fill="#E4522F" opacity="0.8"/>
<rect x="416.13" y="602.43" width="1" height="1" fill="#E4522F" opacity="0.8"/>
<rect x="404.72" y="612.69" width="1" height="1" fill="#E4522F" opacity="0.8"/>
<rect x="403.16" y="620.31" width="1" height="1" fill="#E4522F" opacity="0.8"/>
<rect x="418.98" y="622.15" width="1" height="1" fill="#E4522F" opacity="0.8"/>
<rect x="398.08" y="630.02" width="1" height="1" fill="#E4522F" opacity="0.8"/>
<rect x="398.97" y="630.13" width="1" height="1" fill="#E4522F" opacity="0.8"/>
<rect x="431.34" y="591.91" width="1" height="1" fill="#E4522F" opacity="0.8"/>
<rect x="404.63" y="619.78" width="1" height="1" fill="#E4522F" opacity="0.8"/>
<rect x="394.32" y="641.49" width="1" height="1" fill="#E4522F" opacity="0.8"/>
<rect x="433.01" y="610.17" width="1" height="1" fill="#E4522F" opacity="0.8"/>
<rect x="406.29" y="601.38" width="1" height="1" fill="#E4522F" opacity="0.8"/>
<rect x="404.8" y="636.49" width="1" height="1" fill="#E4522F" opacity="0.8"/>
<rect x="404.62" y="636.87" width="1" height="1" fill="#E4522F" opacity="0.8"/>
<rect x="398.68" y="640.53" width="1" height="1" fill="#E4522F" opacity="0.8"/>
<rect x="401.82" y="639.48" width="1" height="1" fill="#E4522F" opacity="0.8"/>
<rect x="402.02" y="623.2" width="1" height="1" fill="#E4522F" opacity="0.8"/>
<rect x="418.1" y="623.16" width="1" height="1" fill="#E4522F" opacity="0.8"/>
<rect x="414.35" y="601.13" width="1" height="1" fill="#E4522F" opacity="0.8"/>
<rect x="401.83" y="625.96" width="1" height="1" fill="#E4522F" opacity="0.8"/>
<rect x="406.47" y="634.53" width="1" height="1" fill="#E4522F" opacity="0.8"/>
<rect x="414.01" y="604.47" width="1" height="1" fill="#E4522F" opacity="0.8"/>
<rect x="396.76" y="634.62" width="1" height="1" fill="#E4522F" opacity="0.8"/>
<rect x="432.32" y="592.14" width="1" height="1" fill="#E4522F" opacity="0.8"/>
<rect x="409.09" y="613.14" width="1" height="1" fill="#E4522F" opacity="0.8"/>
<rect x="405.61" y="616.36" width="1" height="1" fill="#E4522F" opacity="0.8"/>
<rect x="414.62" y="595.61" width="1" height="1" fill="#E4522F" opacity="0.8"/>
<rect x="407.14" y="609.87" width="1" height="1" fill="#E4522F" opacity="0.8"/>
<rect x="393.35" y="642.1" width="1" height="1" fill="#E4522F" opacity="0.8"/>
<rect x="392.87" y="646.01" width="1" height="1" fill="#E4522F" opacity="0.8"/>
<rect x="412.07" y="607.46" width="1" height="1" fill="#E4522F" opacity="0.8"/>
<rect x="397.93" y="634.43" width="1" height="1" fill="#E4522F" opacity="0.8"/>
<rect x="431.27" y="611.9" width="1" height="1" fill="#E4522F" opacity="0.8"/>
<rect x="427.77" y="592.15" width="1" height="1" fill="#E4522F" opacity="0.8"/>
<rect x="397.7" y="631.42" width="1" height="1" fill="#E4522F" opacity="0.8"/>
<rect x="399.59" y="640.58" width="1" height="1" fill="#E4522F" opacity="0.8"/>
<rect x="426.61" y="591.99" width="1" height="1" fill="#E4522F" opacity="0.8"/>
<rect x="427.99" y="614.53" width="1" height="1" fill="#E4522F" opacity="0.8"/>
<rect x="424.75" y="593.37" width="1" height="1" fill="#E4522F" opacity="0.8"/>
<rect x="402.04" y="620.03" width="1" height="1" fill="#E4522F" opacity="0.8"/>
<rect x="400.01" y="627.27" width="1" height="1" fill="#E4522F" opacity="0.8"/>
<rect x="394.41" y="645.5" width="1" height="1" fill="#E4522F" opacity="0.8"/>
<rect x="393.95" y="628.41" width="1" height="1" fill="#E4522F" opacity="0.8"/>
<rect x="407.37" y="614.41" width="1" height="1" fill="#E4522F" opacity="0.8"/>
<rect x="435.99" y="607.25" width="1" height="1" fill="#E4522F" opacity="0.8"/>
<rect x="406.08" y="618.35" width="1" height="1" fill="#E4522F" opacity="0.8"/>
<rect x="393.3" y="642.2" width="1" height="1" fill="#E4522F" opacity="0.8"/>
<rect x="411.71" y="599.39" width="1" height="1" fill="#E4522F" opacity="0.8"/>
<rect x="399.3" y="630.62" width="1" height="1" fill="#E4522F" opacity="0.8"/>
<rect x="413.51" y="595.9" width="1" height="1" fill="#E4522F" opacity="0.8"/>
<rect x="419.47" y="595.65" width="1" height="1" fill="#E4522F" opacity="0.8"/>
<rect x="400.96" y="625.16" width="1" height="1" fill="#E4522F" opacity="0.8"/>
<rect x="396.75" y="637.64" width="1" height="1" fill="#E4522F" opacity="0.8"/>
<rect x="404.37" y="636.98" width="1" height="1" fill="#E4522F" opacity="0.8"/>
<rect x="403.67" y="620.63" width="1" height="1" fill="#E4522F" opacity="0.8"/>
<rect x="395.49" y="636.29" width="1" height="1" fill="#E4522F" opacity="0.8"/>
<rect x="408.19" y="632.22" width="1" height="1" fill="#E4522F" opacity="0.8"/>
<rect x="439.22" y="603.73" width="1" height="1" fill="#E4522F" opacity="0.8"/>
<rect x="394.66" y="629.19" width="1" height="1" fill="#E4522F" opacity="0.8"/>
<rect x="407.95" y="632.5" width="1" height="1" fill="#E4522F" opacity="0.8"/>
<rect x="442.8" y="596.91" width="1" height="1" fill="#E4522F" opacity="0.8"/>
<rect x="397.03" y="633.18" width="1" height="1" fill="#E4522F" opacity="0.8"/>
<rect x="395" y="636.48" width="1" height="1" fill="#E4522F" opacity="0.8"/>
<rect x="436.2" y="605.93" width="1" height="1" fill="#E4522F" opacity="0.8"/>
<rect x="422.34" y="594.02" width="1" height="1" fill="#E4522F" opacity="0.8"/>
<rect x="437.16" y="605.58" width="1" height="1" fill="#E4522F" opacity="0.8"/>
<rect x="441.22" y="599.81" width="1" height="1" fill="#E4522F" opacity="0.8"/>
<rect x="395.69" y="643.71" width="1" height="1" fill="#E4522F" opacity="0.8"/>
<rect x="434.78" y="608.46" width="1" height="1" fill="#E4522F" opacity="0.8"/>
<rect x="393.91" y="634.09" width="1" height="1" fill="#E4522F" opacity="0.8"/>
<rect x="399.5" y="631.04" width="1" height="1" fill="#E4522F" opacity="0.8"/>
<rect x="397.61" y="624.92" width="1" height="1" fill="#E4522F" opacity="0.8"/>
<rect x="444.31" y="596.33" width="1" height="1" fill="#E4522F" opacity="0.8"/>
<rect x="416.9" y="595.35" width="1" height="1" fill="#E4522F" opacity="0.8"/>
<rect x="408.69" y="613.35" width="1" height="1" fill="#E4522F" opacity="0.8"/>
<rect x="396.77" y="630.99" width="1" height="1" fill="#E4522F" opacity="0.8"/>
<rect x="425.01" y="592.51" width="1" height="1" fill="#E4522F" opacity="0.8"/>
<rect x="413.54" y="605.07" width="1" height="1" fill="#E4522F" opacity="0.8"/>
<rect x="399.89" y="624.38" width="1" height="1" fill="#E4522F" opacity="0.8"/>
<rect x="424.32" y="591.89" width="1" height="1" fill="#E4522F" opacity="0.8"/>
<rect x="438.02" y="591.68" width="1" height="1" fill="#E4522F" opacity="0.8"/>
<rect x="405.27" y="634.91" width="1" height="1" fill="#E4522F" opacity="0.8"/>
<rect x="402.97" y="623.76" width="1" height="1" fill="#E4522F" opacity="0.8"/>
<rect x="394" y="643.23" width="1" height="1" fill="#E4522F" opacity="0.8"/>
<rect x="427.29" y="591.69" width="1" height="1" fill="#E4522F" opacity="0.8"/>
<rect x="404.93" y="620.84" width="1" height="1" fill="#E4522F" opacity="0.8"/>
<rect x="406" y="615.3" width="1" height="1" fill="#E4522F" opacity="0.8"/>
<rect x="396.18" y="626.5" width="1" height="1" fill="#E4522F" opacity="0.8"/>
<rect x="428.54" y="612.82" width="1" height="1" fill="#E4522F" opacity="0.8"/>
<rect x="411.84" y="608.89" width="1" height="1" fill="#E4522F" opacity="0.8"/>
<rect x="435.28" y="606.77" width="1" height="1" fill="#E4522F" opacity="0.8"/>
<rect x="397.91" y="628.5" width="1" height="1" fill="#E4522F" opacity="0.8"/>
<rect x="435.31" y="592.04" width="1" height="1" fill="#E4522F" opacity="0.8"/>
<rect x="408.6" y="632.32" width="1" height="1" fill="#E4522F" opacity="0.8"/>
<rect x="406.85" y="612.05" width="1" height="1" fill="#E4522F" opacity="0.8"/>
<rect x="409.12" y="631.42" width="1" height="1" fill="#E4522F" opacity="0.8"/>
<rect x="401.11" y="639.86" width="1" height="1" fill="#E4522F" opacity="0.8"/>
<rect x="435.73" y="607.14" width="1" height="1" fill="#E4522F" opacity="0.8"/>
<rect x="412.8" y="603.33" width="1" height="1" fill="#E4522F" opacity="0.8"/>
<rect x="423.46" y="593.26" width="1" height="1" fill="#E4522F" opacity="0.8"/>
<rect x="401.15" y="627.76" width="1" height="1" fill="#E4522F" opacity="0.8"/>
<rect x="403.58" y="619.75" width="1" height="1" fill="#E4522F" opacity="0.8"/>
<rect x="430.22" y="592.04" width="1" height="1" fill="#E4522F" opacity="0.8"/>
<rect x="406.8" y="634.55" width="1" height="1" fill="#E4522F" opacity="0.8"/>
<rect x="409.32" y="631.43" width="1" height="1" fill="#E4522F" opacity="0.8"/>
<rect x="444.44" y="595.34" width="1" height="1" fill="#E4522F" opacity="0.8"/>
<rect x="414.28" y="626.28" width="1" height="1" fill="#E4522F" opacity="0.8"/>
<rect x="419.05" y="622.48" width="1" height="1" fill="#E4522F" opacity="0.8"/>
<rect x="411.72" y="603.2" width="1" height="1" fill="#E4522F" opacity="0.8"/>
<rect x="426.86" y="614.87" width="1" height="1" fill="#E4522F" opacity="0.8"/>
<rect x="416.27" y="602.36" width="1" height="1" fill="#E4522F" opacity="0.8"/>
<rect x="420.32" y="592.35" width="1" height="1" fill="#E4522F" opacity="0.8"/>
<rect x="407.66" y="615.85" width="1" height="1" fill="#E4522F" opacity="0.8"/>
<rect x="401.24" y="625.31" width="1" height="1" fill="#E4522F" opacity="0.8"/>
<rect x="406.59" y="616.63" width="1" height="1" fill="#E4522F" opacity="0.8"/>
<rect x="416.6" y="623.57" width="1" height="1" fill="#E4522F" opacity="0.8"/>
<rect x="392.88" y="641.92" width="1" height="1" fill="#E4522F" opacity="0.8"/>
<rect x="421.05" y="620.62" width="1" height="1" fill="#E4522F" opacity="0.8"/>
<rect x="402.63" y="638.54" width="1" height="1" fill="#E4522F" opacity="0.8"/>
<rect x="398.86" y="629.34" width="1" height="1" fill="#E4522F" opacity="0.8"/>
<rect x="423.56" y="617.39" width="1" height="1" fill="#E4522F" opacity="0.8"/>
<rect x="394" y="641.72" width="1" height="1" fill="#E4522F" opacity="0.8"/>
<rect x="403.42" y="607.94" width="1" height="1" fill="#E4522F" opacity="0.8"/>
<rect x="395.81" y="636.79" width="1" height="1" fill="#E4522F" opacity="0.8"/>
<rect x="408.75" y="611.06" width="1" height="1" fill="#E4522F" opacity="0.8"/>
<rect x="435.04" y="607.74" width="1" height="1" fill="#E4522F" opacity="0.8"/>
<rect x="403.91" y="618.34" width="1" height="1" fill="#E4522F" opacity="0.8"/>
<rect x="401.32" y="621.6" width="1" height="1" fill="#E4522F" opacity="0.8"/>
<rect x="402.93" y="620.83" width="1" height="1" fill="#E4522F" opacity="0.8"/>
<rect x="394.85" y="640.53" width="1" height="1" fill="#E4522F" opacity="0.8"/>
<rect x="397.94" y="634.16" width="1" height="1" fill="#E4522F" opacity="0.8"/>
<rect x="398.55" y="631.99" width="1" height="1" fill="#E4522F" opacity="0.8"/>
<rect x="412.85" y="607.48" width="1" height="1" fill="#E4522F" opacity="0.8"/>
<rect x="395.15" y="630.11" width="1" height="1" fill="#E4522F" opacity="0.8"/>
<rect x="404.27" y="622.1" width="1" height="1" fill="#E4522F" opacity="0.8"/>
<rect x="412.55" y="605.37" width="1" height="1" fill="#E4522F" opacity="0.8"/>
<rect x="399.23" y="625.72" width="1" height="1" fill="#E4522F" opacity="0.8"/>
<rect x="405.5" y="614.98" width="1" height="1" fill="#E4522F" opacity="0.8"/>
<rect x="412.71" y="607.12" width="1" height="1" fill="#E4522F" opacity="0.8"/>
<rect x="397.45" y="641.79" width="1" height="1" fill="#E4522F" opacity="0.8"/>
<rect x="402.75" y="637.13" width="1" height="1" fill="#E4522F" opacity="0.8"/>
<rect x="397.41" y="631.2" width="1" height="1" fill="#E4522F" opacity="0.8"/>
<rect x="404.13" y="608.38" width="1" height="1" fill="#E4522F" opacity="0.8"/>
<rect x="417.36" y="623.77" width="1" height="1" fill="#E4522F" opacity="0.8"/>
<rect x="417.31" y="622.73" width="1" height="1" fill="#E4522F" opacity="0.8"/>
<rect x="430.51" y="612.09" width="1" height="1" fill="#E4522F" opacity="0.8"/>
<rect x="429.97" y="611.41" width="1" height="1" fill="#E4522F" opacity="0.8"/>
<rect x="437.31" y="604.67" width="1" height="1" fill="#E4522F" opacity="0.8"/>
<rect x="398.02" y="634.02" width="1" height="1" fill="#E4522F" opacity="0.8"/>
<rect x="399.6" y="627.87" width="1" height="1" fill="#E4522F" opacity="0.8"/>
<rect x="405.84" y="634.29" width="1" height="1" fill="#E4522F" opacity="0.8"/>
<rect x="404.19" y="620.06" width="1" height="1" fill="#E4522F" opacity="0.8"/>
<rect x="400.06" y="618.47" width="1" height="1" fill="#E4522F" opacity="0.8"/>
<rect x="400.35" y="639.81" width="1" height="1" fill="#E4522F" opacity="0.8"/>
<rect x="398.65" y="629.88" width="1" height="1" fill="#E4522F" opacity="0.8"/>
<rect x="413.85" y="604.11" width="1" height="1" fill="#E4522F" opacity="0.8"/>
<rect x="392.56" y="641.83" width="1" height="1" fill="#E4522F" opacity="0.8"/>
<rect x="433.24" y="609.21" width="1" height="1" fill="#E4522F" opacity="0.8"/>
<rect x="418.95" y="599.39" width="1" height="1" fill="#E4522F" opacity="0.8"/>
<rect x="399.84" y="625.32" width="1" height="1" fill="#E4522F" opacity="0.8"/>
<rect x="435.57" y="605.65" width="1" height="1" fill="#E4522F" opacity="0.8"/>
<rect x="397.65" y="619.5" width="1" height="1" fill="#E4522F" opacity="0.8"/>
<rect x="413.83" y="602.32" width="1" height="1" fill="#E4522F" opacity="0.8"/>
<rect x="439.32" y="602.31" width="1" height="1" fill="#E4522F" opacity="0.8"/>
<rect x="393.79" y="641.87" width="1" height="1" fill="#E4522F" opacity="0.8"/>
<rect x="417.39" y="600.65" width="1" height="1" fill="#E4522F" opacity="0.8"/>
<rect x="427.7" y="613.9" width="1" height="1" fill="#E4522F" opacity="0.8"/>
<rect x="414.66" y="604.77" width="1" height="1" fill="#E4522F" opacity="0.8"/>
<rect x="404.17" y="635.11" width="1" height="1" fill="#E4522F" opacity="0.8"/>
<rect x="415.55" y="602.14" width="1" height="1" fill="#E4522F" opacity="0.8"/>
<rect x="421.33" y="596.65" width="1" height="1" fill="#E4522F" opacity="0.8"/>
<rect x="425.58" y="615.65" width="1" height="1" fill="#E4522F" opacity="0.8"/>
<rect x="418.62" y="622.17" width="1" height="1" fill="#E4522F" opacity="0.8"/>
<rect x="406.89" y="612.31" width="1" height="1" fill="#E4522F" opacity="0.8"/>
<rect x="437.39" y="603.73" width="1" height="1" fill="#E4522F" opacity="0.8"/>
<rect x="394.13" y="645.61" width="1" height="1" fill="#E4522F" opacity="0.8"/>
<rect x="430.87" y="612.52" width="1" height="1" fill="#E4522F" opacity="0.8"/>
<rect x="432.13" y="609.91" width="1" height="1" fill="#E4522F" opacity="0.8"/>
<rect x="428.05" y="592.18" width="1" height="1" fill="#E4522F" opacity="0.8"/>
<rect x="415.66" y="626.02" width="1" height="1" fill="#E4522F" opacity="0.8"/>
<rect x="421.96" y="593.86" width="1" height="1" fill="#E4522F" opacity="0.8"/>
<rect x="406.18" y="611.64" width="1" height="1" fill="#E4522F" opacity="0.8"/>
<rect x="392.43" y="636.39" width="1" height="1" fill="#E4522F" opacity="0.8"/>
<rect x="420.63" y="595" width="1" height="1" fill="#E4522F" opacity="0.8"/>
<rect x="420.09" y="594.91" width="1" height="1" fill="#E4522F" opacity="0.8"/>
<rect x="392.45" y="636.03" width="1" height="1" fill="#E4522F" opacity="0.8"/>
<rect x="415" y="596.06" width="1" height="1" fill="#E4522F" opacity="0.8"/>
<rect x="440.17" y="591.76" width="1" height="1" fill="#E4522F" opacity="0.8"/>
<rect x="435.26" y="606.21" width="1" height="1" fill="#E4522F" opacity="0.8"/>
<rect x="395.59" y="645.05" width="1" height="1" fill="#E4522F" opacity="0.8"/>
<rect x="406.12" y="616.23" width="1" height="1" fill="#E4522F" opacity="0.8"/>
<rect x="416.31" y="594.18" width="1" height="1" fill="#E4522F" opacity="0.8"/>
<rect x="444.41" y="595.54" width="1" height="1" fill="#E4522F" opacity="0.8"/>
<rect x="407.02" y="612.11" width="1" height="1" fill="#E4522F" opacity="0.8"/>
<rect x="416.16" y="601.99" width="1" height="1" fill="#E4522F" opacity="0.8"/>
<rect x="392.65" y="644.13" width="1" height="1" fill="#E4522F" opacity="0.8"/>
<rect x="398.64" y="613.26" width="1" height="1" fill="#E4522F" opacity="0.8"/>
<rect x="411.63" y="604.93" width="1" height="1" fill="#E4522F" opacity="0.8"/>
<rect x="412.23" y="594.56" width="1" height="1" fill="#E4522F" opacity="0.8"/>
<rect x="434.33" y="608.27" width="1" height="1" fill="#E4522F" opacity="0.8"/>
<rect x="425.29" y="592.48" width="1" height="1" fill="#E4522F" opacity="0.8"/>
<rect x="430.15" y="611.45" width="1" height="1" fill="#E4522F" opacity="0.8"/>
<rect x="403.25" y="623.74" width="1" height="1" fill="#E4522F" opacity="0.8"/>
<rect x="442.63" y="598.88" width="1" height="1" fill="#E4522F" opacity="0.8"/>
<rect x="405.14" y="636.26" width="1" height="1" fill="#E4522F" opacity="0.8"/>
<rect x="425.2" y="615.78" width="1" height="1" fill="#E4522F" opacity="0.8"/>
<rect x="397.17" y="636.54" width="1" height="1" fill="#E4522F" opacity="0.8"/>
<rect x="436.17" y="605.58" width="1" height="1" fill="#E4522F" opacity="0.8"/>
<rect x="393.81" y="632.14" width="1" height="1" fill="#E4522F" opacity="0.8"/>
<rect x="396.16" y="638.15" width="1" height="1" fill="#E4522F" opacity="0.8"/>
<rect x="399.15" y="629.99" width="1" height="1" fill="#E4522F" opacity="0.8"/>
<rect x="416.14" y="625.12" width="1" height="1" fill="#E4522F" opacity="0.8"/>
<rect x="412.76" y="607.81" width="1" height="1" fill="#E4522F" opacity="0.8"/>
<rect x="400.64" y="628.38" width="1" height="1" fill="#E4522F" opacity="0.8"/>
<rect x="421.62" y="594.39" width="1" height="1" fill="#E4522F" opacity="0.8"/>
<rect x="398.51" y="622.32" width="1" height="1" fill="#E4522F" opacity="0.8"/>
<rect x="429.08" y="591.75" width="1" height="1" fill="#E4522F" opacity="0.8"/>
<rect x="403.21" y="636.23" width="1" height="1" fill="#E4522F" opacity="0.8"/>
<rect x="418.64" y="596.82" width="1" height="1" fill="#E4522F" opacity="0.8"/>
<rect x="416.06" y="624.12" width="1" height="1" fill="#E4522F" opacity="0.8"/>
<rect x="407.94" y="615.23" width="1" height="1" fill="#E4522F" opacity="0.8"/>
<rect x="394.38" y="629.35" width="1" height="1" fill="#E4522F" opacity="0.8"/>
<rect x="400.96" y="638.95" width="1" height="1" fill="#E4522F" opacity="0.8"/>
<rect x="420.11" y="596.18" width="1" height="1" fill="#E4522F" opacity="0.8"/>
<rect x="443.54" y="591.9" width="1" height="1" fill="#E4522F" opacity="0.8"/>
<rect x="415.05" y="600.48" width="1" height="1" fill="#E4522F" opacity="0.8"/>
<rect x="437.11" y="604.39" width="1" height="1" fill="#E4522F" opacity="0.8"/>
<rect x="405.32" y="618" width="1" height="1" fill="#E4522F" opacity="0.8"/>
<rect x="428.99" y="613.4" width="1" height="1" fill="#E4522F" opacity="0.8"/>
<rect x="402.27" y="614.05" width="1" height="1" fill="#E4522F" opacity="0.8"/>
<rect x="397.65" y="643.6" width="1" height="1" fill="#E4522F" opacity="0.8"/>
<rect x="421.61" y="592.5" width="1" height="1" fill="#E4522F" opacity="0.8"/>
<rect x="393.21" y="638.13" width="1" height="1" fill="#E4522F" opacity="0.8"/>
<rect x="430.71" y="611.29" width="1" height="1" fill="#E4522F" opacity="0.8"/>
<rect x="396.18" y="643.07" width="1" height="1" fill="#E4522F" opacity="0.8"/>
<rect x="414.21" y="604.71" width="1" height="1" fill="#E4522F" opacity="0.8"/>
<rect x="418.57" y="594.12" width="1" height="1" fill="#E4522F" opacity="0.8"/>
<rect x="439.72" y="602.13" width="1" height="1" fill="#E4522F" opacity="0.8"/>
<rect x="397.97" y="626.66" width="1" height="1" fill="#E4522F" opacity="0.8"/>
<rect x="393.16" y="644.93" width="1" height="1" fill="#E4522F" opacity="0.8"/>
<rect x="396.61" y="624.91" width="1" height="1" fill="#E4522F" opacity="0.8"/>
<rect x="403.33" y="622.33" width="1" height="1" fill="#E4522F" opacity="0.8"/>
<rect x="405.65" y="618.7" width="1" height="1" fill="#E4522F" opacity="0.8"/>
<rect x="413.41" y="601.34" width="1" height="1" fill="#E4522F" opacity="0.8"/>
<rect x="444.7" y="594.6" width="1" height="1" fill="#E4522F" opacity="0.8"/>
<rect x="416.25" y="596.76" width="1" height="1" fill="#E4522F" opacity="0.8"/>
<rect x="414.8" y="598.09" width="1" height="1" fill="#E4522F" opacity="0.8"/>
<rect x="399.06" y="641.11" width="1" height="1" fill="#E4522F" opacity="0.8"/>
<rect x="422.06" y="593.33" width="1" height="1" fill="#E4522F" opacity="0.8"/>
<rect x="410.33" y="630.51" width="1" height="1" fill="#E4522F" opacity="0.8"/>
<rect x="410.68" y="629.98" width="1" height="1" fill="#E4522F" opacity="0.8"/>
<rect x="411.18" y="607.73" width="1" height="1" fill="#E4522F" opacity="0.8"/>
<rect x="400.23" y="641.14" width="1" height="1" fill="#E4522F" opacity="0.8"/>
<rect x="408.9" y="609.11" width="1" height="1" fill="#E4522F" opacity="0.8"/>
<rect x="445.05" y="592.24" width="1" height="1" fill="#E4522F" opacity="0.8"/>
<rect x="405.98" y="618.74" width="1" height="1" fill="#E4522F" opacity="0.8"/>
<rect x="439.77" y="591.82" width="1" height="1" fill="#E4522F" opacity="0.8"/>
<rect x="392.9" y="644.35" width="1" height="1" fill="#E4522F" opacity="0.8"/>
<rect x="394.02" y="636.23" width="1" height="1" fill="#E4522F" opacity="0.8"/>
<rect x="407.32" y="613.32" width="1" height="1" fill="#E4522F" opacity="0.8"/>
<rect x="417.53" y="623.07" width="1" height="1" fill="#E4522F" opacity="0.8"/>
<rect x="402.8" y="618.71" width="1" height="1" fill="#E4522F" opacity="0.8"/>
<rect x="428.31" y="613.03" width="1" height="1" fill="#E4522F" opacity="0.8"/>
<rect x="398.79" y="628.35" width="1" height="1" fill="#E4522F" opacity="0.8"/>
<rect x="407.54" y="632.84" width="1" height="1" fill="#E4522F" opacity="0.8"/>
<rect x="441.26" y="591.96" width="1" height="1" fill="#E4522F" opacity="0.8"/>
<rect x="394.78" y="635.67" width="1" height="1" fill="#E4522F" opacity="0.8"/>
<rect x="428.34" y="615.01" width="1" height="1" fill="#E4522F" opacity="0.8"/>
<rect x="433.62" y="608.86" width="1" height="1" fill="#E4522F" opacity="0.8"/>
<rect x="434.17" y="608.6" width="1" height="1" fill="#E4522F" opacity="0.8"/>
<rect x="433.84" y="607.68" width="1" height="1" fill="#E4522F" opacity="0.8"/>
<rect x="420.16" y="594.17" width="1" height="1" fill="#E4522F" opacity="0.8"/>
<rect x="406.23" y="617.21" width="1" height="1" fill="#E4522F" opacity="0.8"/>
<rect x="422.31" y="620.33" width="1" height="1" fill="#E4522F" opacity="0.8"/>
<rect x="411.77" y="627.69" width="1" height="1" fill="#E4522F" opacity="0.8"/>
<rect x="413.14" y="597.3" width="1" height="1" fill="#E4522F" opacity="0.8"/>
<rect x="421.85" y="592.83" width="1" height="1" fill="#E4522F" opacity="0.8"/>
<rect x="445.74" y="595.23" width="1" height="1" fill="#E4522F" opacity="0.8"/>
<rect x="417.9" y="598.5" width="1" height="1" fill="#E4522F" opacity="0.8"/>
<rect x="424.5" y="592.19" width="1" height="1" fill="#E4522F" opacity="0.8"/>
<rect x="443.37" y="596.25" width="1" height="1" fill="#E4522F" opacity="0.8"/>
<rect x="417.8" y="599.9" width="1" height="1" fill="#E4522F" opacity="0.8"/>
<rect x="401.03" y="618.41" width="1" height="1" fill="#E4522F" opacity="0.8"/>
<rect x="437.46" y="591.84" width="1" height="1" fill="#E4522F" opacity="0.8"/>
<rect x="409.58" y="631.08" width="1" height="1" fill="#E4522F" opacity="0.8"/>
<rect x="411.91" y="608.33" width="1" height="1" fill="#E4522F" opacity="0.8"/>
<rect x="415.68" y="625.11" width="1" height="1" fill="#E4522F" opacity="0.8"/>
<rect x="421.5" y="620.28" width="1" height="1" fill="#E4522F" opacity="0.8"/>
<rect x="399.93" y="630.45" width="1" height="1" fill="#E4522F" opacity="0.8"/>
<rect x="409.38" y="612.32" width="1" height="1" fill="#E4522F" opacity="0.8"/>
<rect x="394.01" y="645.68" width="1" height="1" fill="#E4522F" opacity="0.8"/>
<rect x="436.97" y="604.95" width="1" height="1" fill="#E4522F" opacity="0.8"/>
<rect x="441.21" y="600.23" width="1" height="1" fill="#E4522F" opacity="0.8"/>
<rect x="402.03" y="625.52" width="1" height="1" fill="#E4522F" opacity="0.8"/>
<rect x="411.16" y="607.85" width="1" height="1" fill="#E4522F" opacity="0.8"/>
<rect x="417.93" y="598.67" width="1" height="1" fill="#E4522F" opacity="0.8"/>
<rect x="442.15" y="598.22" width="1" height="1" fill="#E4522F" opacity="0.8"/>
<rect x="394.68" y="630.97" width="1" height="1" fill="#E4522F" opacity="0.8"/>
<rect x="394.81" y="640.61" width="1" height="1" fill="#E4522F" opacity="0.8"/>
<rect x="411.78" y="628.26" width="1" height="1" fill="#E4522F" opacity="0.8"/>
<rect x="398.76" y="621.91" width="1" height="1" fill="#E4522F" opacity="0.8"/>
<rect x="416.28" y="594.88" width="1" height="1" fill="#E4522F" opacity="0.8"/>
<rect x="396.43" y="644.52" width="1" height="1" fill="#E4522F" opacity="0.8"/>
<rect x="406.91" y="607.41" width="1" height="1" fill="#E4522F" opacity="0.8"/>
<rect x="418.62" y="596.18" width="1" height="1" fill="#E4522F" opacity="0.8"/>
<rect x="397.3" y="634.19" width="1" height="1" fill="#E4522F" opacity="0.8"/>
<rect x="431.99" y="610.24" width="1" height="1" fill="#E4522F" opacity="0.8"/>
<rect x="420.09" y="594.94" width="1" height="1" fill="#E4522F" opacity="0.8"/>
<rect x="442.44" y="591.93" width="1" height="1" fill="#E4522F" opacity="0.8"/>
<rect x="442.34" y="597.89" width="1" height="1" fill="#E4522F" opacity="0.8"/>
<rect x="419.33" y="621.72" width="1" height="1" fill="#E4522F" opacity="0.8"/>
<rect x="406.76" y="615.47" width="1" height="1" fill="#E4522F" opacity="0.8"/>
<rect x="427.28" y="592.08" width="1" height="1" fill="#E4522F" opacity="0.8"/>
<rect x="399.74" y="631.11" width="1" height="1" fill="#E4522F" opacity="0.8"/>
<rect x="394.78" y="645.61" width="1" height="1" fill="#E4522F" opacity="0.8"/>
<rect x="394.81" y="642.08" width="1" height="1" fill="#E4522F" opacity="0.8"/>
<rect x="398.79" y="641.87" width="1" height="1" fill="#E4522F" opacity="0.8"/>
<rect x="397.86" y="632.56" width="1" height="1" fill="#E4522F" opacity="0.8"/>
<rect x="414.47" y="602.13" width="1" height="1" fill="#E4522F" opacity="0.8"/>
<rect x="416.45" y="595.88" width="1" height="1" fill="#E4522F" opacity="0.8"/>
<rect x="410.84" y="609.22" width="1" height="1" fill="#E4522F" opacity="0.8"/>
<rect x="392.37" y="636.53" width="1" height="1" fill="#E4522F" opacity="0.8"/>
<rect x="416.08" y="593.49" width="1" height="1" fill="#E4522F" opacity="0.8"/>
<rect x="405.19" y="635.15" width="1" height="1" fill="#E4522F" opacity="0.8"/>
<rect x="416.91" y="599.75" width="1" height="1" fill="#E4522F" opacity="0.8"/>
<rect x="401.64" y="625.3" width="1" height="1" fill="#E4522F" opacity="0.8"/>
<rect x="440.44" y="599.99" width="1" height="1" fill="#E4522F" opacity="0.8"/>
<rect x="418.68" y="622.52" width="1" height="1" fill="#E4522F" opacity="0.8"/>
<rect x="414.86" y="593.9" width="1" height="1" fill="#E4522F" opacity="0.8"/>
<rect x="412.21" y="602.69" width="1" height="1" fill="#E4522F" opacity="0.8"/>
<rect x="392.13" y="635.66" width="1" height="1" fill="#E4522F" opacity="0.8"/>
<rect x="425.31" y="613.34" width="0.8" height="0.8" fill="#F09080" opacity="0.6"/>
<rect x="416.21" y="614.31" width="0.8" height="0.8" fill="#F09080" opacity="0.6"/>
<rect x="431.26" y="607.88" width="0.8" height="0.8" fill="#F09080" opacity="0.6"/>
<rect x="428.61" y="593.07" width="0.8" height="0.8" fill="#F09080" opacity="0.6"/>
<rect x="422.47" y="612.12" width="0.8" height="0.8" fill="#F09080" opacity="0.6"/>
<rect x="405.8" y="630.2" width="0.8" height="0.8" fill="#F09080" opacity="0.6"/>
<rect x="421.62" y="605.17" width="0.8" height="0.8" fill="#F09080" opacity="0.6"/>
<rect x="421.99" y="611.11" width="0.8" height="0.8" fill="#F09080" opacity="0.6"/>
<rect x="437.26" y="601.63" width="0.8" height="0.8" fill="#F09080" opacity="0.6"/>
<rect x="426.37" y="603.92" width="0.8" height="0.8" fill="#F09080" opacity="0.6"/>
<rect x="404.88" y="626.41" width="0.8" height="0.8" fill="#F09080" opacity="0.6"/>
<rect x="400.99" y="634.36" width="0.8" height="0.8" fill="#F09080" opacity="0.6"/>
<rect x="411.76" y="613.69" width="0.8" height="0.8" fill="#F09080" opacity="0.6"/>
<rect x="423.1" y="597.95" width="0.8" height="0.8" fill="#F09080" opacity="0.6"/>
<rect x="436.83" y="600.65" width="0.8" height="0.8" fill="#F09080" opacity="0.6"/>
<rect x="415.03" y="609.96" width="0.8" height="0.8" fill="#F09080" opacity="0.6"/>
<rect x="405.61" y="631.39" width="0.8" height="0.8" fill="#F09080" opacity="0.6"/>
<rect x="415.24" y="610.49" width="0.8" height="0.8" fill="#F09080" opacity="0.6"/>
<rect x="406.63" y="628.96" width="0.8" height="0.8" fill="#F09080" opacity="0.6"/>
<rect x="414.89" y="611.19" width="0.8" height="0.8" fill="#F09080" opacity="0.6"/>
<rect x="409.72" y="616" width="0.8" height="0.8" fill="#F09080" opacity="0.6"/>
<rect x="406.14" y="631.22" width="0.8" height="0.8" fill="#F09080" opacity="0.6"/>
<rect x="427.3" y="600.01" width="0.8" height="0.8" fill="#F09080" opacity="0.6"/>
<rect x="419.81" y="603.16" width="0.8" height="0.8" fill="#F09080" opacity="0.6"/>
<rect x="424.24" y="601.04" width="0.8" height="0.8" fill="#F09080" opacity="0.6"/>
<rect x="428.03" y="601.41" width="0.8" height="0.8" fill="#F09080" opacity="0.6"/>
<rect x="427.62" y="612.43" width="0.8" height="0.8" fill="#F09080" opacity="0.6"/>
<rect x="438.85" y="596.86" width="0.8" height="0.8" fill="#F09080" opacity="0.6"/>
<rect x="408.41" y="619.74" width="0.8" height="0.8" fill="#F09080" opacity="0.6"/>
<rect x="409.75" y="622.63" width="0.8" height="0.8" fill="#F09080" opacity="0.6"/>
<rect x="423.42" y="603.02" width="0.8" height="0.8" fill="#F09080" opacity="0.6"/>
<rect x="437.43" y="599.51" width="0.8" height="0.8" fill="#F09080" opacity="0.6"/>
<rect x="433.6" y="593.64" width="0.8" height="0.8" fill="#F09080" opacity="0.6"/>
<rect x="406.61" y="623.12" width="0.8" height="0.8" fill="#F09080" opacity="0.6"/>
<rect x="433.6" y="600.2" width="0.8" height="0.8" fill="#F09080" opacity="0.6"/>
<rect x="411.49" y="618.39" width="0.8" height="0.8" fill="#F09080" opacity="0.6"/>
<rect x="427.93" y="606.33" width="0.8" height="0.8" fill="#F09080" opacity="0.6"/>
<rect x="421.12" y="616.11" width="0.8" height="0.8" fill="#F09080" opacity="0.6"/>
<rect x="415.2" y="609.13" width="0.8" height="0.8" fill="#F09080" opacity="0.6"/>
<rect x="416.68" y="611.49" width="0.8" height="0.8" fill="#F09080" opacity="0.6"/>
<polygon points="414.4,668 423.9,659.1 435.8,649 447.8,636.4 457.3,626.9 465.7,617.4 468,616.2 469.2,619.2 468,629.9 463.3,643 454.9,656.1 443,665.7 429.9,669.2 414.4,669.2" fill="#3E7AB6" stroke="#3E7AB6" stroke-width="0.5" stroke-linejoin="round"/>
<rect x="466.57" y="642.2" width="1" height="1" fill="#4A84BE" opacity="0.8"/>
<rect x="456.43" y="660.27" width="1" height="1" fill="#4A84BE" opacity="0.8"/>
<rect x="467.98" y="630.2" width="1" height="1" fill="#4A84BE" opacity="0.8"/>
<rect x="416.74" y="669.65" width="1" height="1" fill="#4A84BE" opacity="0.8"/>
<rect x="461.32" y="651.1" width="1" height="1" fill="#4A84BE" opacity="0.8"/>
<rect x="436.52" y="647.89" width="1" height="1" fill="#4A84BE" opacity="0.8"/>
<rect x="452.86" y="630.63" width="1" height="1" fill="#4A84BE" opacity="0.8"/>
<rect x="428.45" y="669.33" width="1" height="1" fill="#4A84BE" opacity="0.8"/>
<rect x="444.63" y="664.47" width="1" height="1" fill="#4A84BE" opacity="0.8"/>
<rect x="456.46" y="654.99" width="1" height="1" fill="#4A84BE" opacity="0.8"/>
<rect x="467.98" y="638.4" width="1" height="1" fill="#4A84BE" opacity="0.8"/>
<rect x="460.18" y="658.59" width="1" height="1" fill="#4A84BE" opacity="0.8"/>
<rect x="429.58" y="669.23" width="1" height="1" fill="#4A84BE" opacity="0.8"/>
<rect x="448.8" y="665.19" width="1" height="1" fill="#4A84BE" opacity="0.8"/>
<rect x="442.97" y="666.47" width="1" height="1" fill="#4A84BE" opacity="0.8"/>
<rect x="454.98" y="628.46" width="1" height="1" fill="#4A84BE" opacity="0.8"/>
<rect x="455.28" y="628.73" width="1" height="1" fill="#4A84BE" opacity="0.8"/>
<rect x="428.39" y="654.25" width="1" height="1" fill="#4A84BE" opacity="0.8"/>
<rect x="469.4" y="635.35" width="1" height="1" fill="#4A84BE" opacity="0.8"/>
<rect x="468.61" y="628.92" width="1" height="1" fill="#4A84BE" opacity="0.8"/>
<rect x="456.65" y="654.08" width="1" height="1" fill="#4A84BE" opacity="0.8"/>
<rect x="469.44" y="636.74" width="1" height="1" fill="#4A84BE" opacity="0.8"/>
<rect x="447.06" y="663.87" width="1" height="1" fill="#4A84BE" opacity="0.8"/>
<rect x="443.99" y="665.07" width="1" height="1" fill="#4A84BE" opacity="0.8"/>
<rect x="454.6" y="657.14" width="1" height="1" fill="#4A84BE" opacity="0.8"/>
<rect x="443.98" y="665.46" width="1" height="1" fill="#4A84BE" opacity="0.8"/>
<rect x="463.39" y="648.75" width="1" height="1" fill="#4A84BE" opacity="0.8"/>
<rect x="415.15" y="667.24" width="1" height="1" fill="#4A84BE" opacity="0.8"/>
<rect x="458.32" y="654.9" width="1" height="1" fill="#4A84BE" opacity="0.8"/>
<rect x="447.61" y="666.76" width="1" height="1" fill="#4A84BE" opacity="0.8"/>
<rect x="469.49" y="626.83" width="1" height="1" fill="#4A84BE" opacity="0.8"/>
<rect x="464.57" y="618.1" width="1" height="1" fill="#4A84BE" opacity="0.8"/>
<rect x="458.52" y="656.69" width="1" height="1" fill="#4A84BE" opacity="0.8"/>
<rect x="425.43" y="669.7" width="1" height="1" fill="#4A84BE" opacity="0.8"/>
<rect x="464.4" y="653.03" width="1" height="1" fill="#4A84BE" opacity="0.8"/>
<rect x="454.39" y="659.67" width="1" height="1" fill="#4A84BE" opacity="0.8"/>
<rect x="467.43" y="644.36" width="1" height="1" fill="#4A84BE" opacity="0.8"/>
<rect x="445.27" y="668.29" width="1" height="1" fill="#4A84BE" opacity="0.8"/>
<rect x="454.75" y="659.18" width="1" height="1" fill="#4A84BE" opacity="0.8"/>
<rect x="443.38" y="639.8" width="1" height="1" fill="#4A84BE" opacity="0.8"/>
<rect x="461.65" y="646.49" width="1" height="1" fill="#4A84BE" opacity="0.8"/>
<rect x="469.24" y="629.6" width="1" height="1" fill="#4A84BE" opacity="0.8"/>
<rect x="457.07" y="655.65" width="1" height="1" fill="#4A84BE" opacity="0.8"/>
<rect x="439.11" y="669.06" width="1" height="1" fill="#4A84BE" opacity="0.8"/>
<rect x="435.27" y="649.37" width="1" height="1" fill="#4A84BE" opacity="0.8"/>
<rect x="446.57" y="664.07" width="1" height="1" fill="#4A84BE" opacity="0.8"/>
<rect x="457.96" y="655.42" width="1" height="1" fill="#4A84BE" opacity="0.8"/>
<rect x="467.68" y="637.92" width="1" height="1" fill="#4A84BE" opacity="0.8"/>
<rect x="418.02" y="669.73" width="1" height="1" fill="#4A84BE" opacity="0.8"/>
<rect x="421.8" y="669.63" width="1" height="1" fill="#4A84BE" opacity="0.8"/>
<rect x="460.37" y="657" width="1" height="1" fill="#4A84BE" opacity="0.8"/>
<rect x="437.36" y="667.34" width="1" height="1" fill="#4A84BE" opacity="0.8"/>
<rect x="466.54" y="636.48" width="1" height="1" fill="#4A84BE" opacity="0.8"/>
<rect x="451.87" y="658.66" width="1" height="1" fill="#4A84BE" opacity="0.8"/>
<rect x="422.24" y="669.62" width="1" height="1" fill="#4A84BE" opacity="0.8"/>
<rect x="468.05" y="638.01" width="1" height="1" fill="#4A84BE" opacity="0.8"/>
<rect x="465.86" y="648.31" width="1" height="1" fill="#4A84BE" opacity="0.8"/>
<rect x="462.72" y="646.97" width="1" height="1" fill="#4A84BE" opacity="0.8"/>
<rect x="441.95" y="667.04" width="1" height="1" fill="#4A84BE" opacity="0.8"/>
<rect x="459.86" y="649.47" width="1" height="1" fill="#4A84BE" opacity="0.8"/>
<rect x="431.02" y="652.58" width="1" height="1" fill="#4A84BE" opacity="0.8"/>
<rect x="445.65" y="667.98" width="1" height="1" fill="#4A84BE" opacity="0.8"/>
<rect x="454.94" y="657.68" width="1" height="1" fill="#4A84BE" opacity="0.8"/>
<rect x="470.01" y="627.58" width="1" height="1" fill="#4A84BE" opacity="0.8"/>
<rect x="466.31" y="649.29" width="1" height="1" fill="#4A84BE" opacity="0.8"/>
<rect x="441.44" y="641.53" width="1" height="1" fill="#4A84BE" opacity="0.8"/>
<rect x="468.98" y="631.19" width="1" height="1" fill="#4A84BE" opacity="0.8"/>
<rect x="427.79" y="653.97" width="1" height="1" fill="#4A84BE" opacity="0.8"/>
<rect x="462.9" y="619.33" width="1" height="1" fill="#4A84BE" opacity="0.8"/>
<rect x="460.84" y="621.39" width="1" height="1" fill="#4A84BE" opacity="0.8"/>
<rect x="464.16" y="650.18" width="1" height="1" fill="#4A84BE" opacity="0.8"/>
<rect x="456.99" y="627.19" width="1" height="1" fill="#4A84BE" opacity="0.8"/>
<rect x="419.51" y="662.99" width="1" height="1" fill="#4A84BE" opacity="0.8"/>
<rect x="467.15" y="637.12" width="1" height="1" fill="#4A84BE" opacity="0.8"/>
<rect x="439.54" y="643.31" width="1" height="1" fill="#4A84BE" opacity="0.8"/>
<rect x="435.4" y="648.1" width="1" height="1" fill="#4A84BE" opacity="0.8"/>
<rect x="465.71" y="647.37" width="1" height="1" fill="#4A84BE" opacity="0.8"/>
<rect x="461.08" y="621.43" width="1" height="1" fill="#4A84BE" opacity="0.8"/>
<rect x="452.52" y="658.51" width="1" height="1" fill="#4A84BE" opacity="0.8"/>
<rect x="462.59" y="650.94" width="1" height="1" fill="#4A84BE" opacity="0.8"/>
<rect x="465.74" y="644.51" width="1" height="1" fill="#4A84BE" opacity="0.8"/>
<rect x="468.96" y="626.24" width="1" height="1" fill="#4A84BE" opacity="0.8"/>
<rect x="468.68" y="633.86" width="1" height="1" fill="#4A84BE" opacity="0.8"/>
<rect x="464.13" y="647.55" width="1" height="1" fill="#4A84BE" opacity="0.8"/>
<rect x="441.85" y="642.08" width="1" height="1" fill="#4A84BE" opacity="0.8"/>
<rect x="446.77" y="664.9" width="1" height="1" fill="#4A84BE" opacity="0.8"/>
<rect x="451.49" y="659.92" width="1" height="1" fill="#4A84BE" opacity="0.8"/>
<rect x="464.37" y="617.16" width="1" height="1" fill="#4A84BE" opacity="0.8"/>
<rect x="465.96" y="647.2" width="1" height="1" fill="#4A84BE" opacity="0.8"/>
<rect x="448.68" y="635.14" width="1" height="1" fill="#4A84BE" opacity="0.8"/>
<rect x="440.73" y="668.76" width="1" height="1" fill="#4A84BE" opacity="0.8"/>
<rect x="469.29" y="624.22" width="1" height="1" fill="#4A84BE" opacity="0.8"/>
<rect x="460.2" y="648.39" width="1" height="1" fill="#4A84BE" opacity="0.8"/>
<rect x="430.25" y="653.26" width="1" height="1" fill="#4A84BE" opacity="0.8"/>
<rect x="437.43" y="668.81" width="1" height="1" fill="#4A84BE" opacity="0.8"/>
<rect x="467.84" y="647.85" width="1" height="1" fill="#4A84BE" opacity="0.8"/>
<rect x="468.86" y="627.01" width="1" height="1" fill="#4A84BE" opacity="0.8"/>
<rect x="461.64" y="620.75" width="1" height="1" fill="#4A84BE" opacity="0.8"/>
<rect x="434.49" y="648.79" width="1" height="1" fill="#4A84BE" opacity="0.8"/>
<rect x="431.64" y="669.59" width="1" height="1" fill="#4A84BE" opacity="0.8"/>
<rect x="429.73" y="653.89" width="1" height="1" fill="#4A84BE" opacity="0.8"/>
<rect x="466.99" y="639.79" width="1" height="1" fill="#4A84BE" opacity="0.8"/>
<rect x="447.52" y="663.92" width="1" height="1" fill="#4A84BE" opacity="0.8"/>
<rect x="466.02" y="639.47" width="1" height="1" fill="#4A84BE" opacity="0.8"/>
<rect x="455.83" y="656.86" width="1" height="1" fill="#4A84BE" opacity="0.8"/>
<rect x="424.86" y="657.04" width="1" height="1" fill="#4A84BE" opacity="0.8"/>
<rect x="461.03" y="622.54" width="1" height="1" fill="#4A84BE" opacity="0.8"/>
<rect x="420.49" y="669.39" width="1" height="1" fill="#4A84BE" opacity="0.8"/>
<rect x="469.33" y="635.65" width="1" height="1" fill="#4A84BE" opacity="0.8"/>
<rect x="468.22" y="616.67" width="1" height="1" fill="#4A84BE" opacity="0.8"/>
<rect x="426.68" y="656.42" width="1" height="1" fill="#4A84BE" opacity="0.8"/>
<rect x="463.68" y="643.73" width="1" height="1" fill="#4A84BE" opacity="0.8"/>
<rect x="434.25" y="668.25" width="1" height="1" fill="#4A84BE" opacity="0.8"/>
<rect x="464.06" y="642.66" width="1" height="1" fill="#4A84BE" opacity="0.8"/>
<rect x="468.89" y="639.69" width="1" height="1" fill="#4A84BE" opacity="0.8"/>
<rect x="456.14" y="654.44" width="1" height="1" fill="#4A84BE" opacity="0.8"/>
<rect x="451.41" y="662.3" width="1" height="1" fill="#4A84BE" opacity="0.8"/>
<rect x="429.13" y="653.07" width="1" height="1" fill="#4A84BE" opacity="0.8"/>
<rect x="417.64" y="664.14" width="1" height="1" fill="#4A84BE" opacity="0.8"/>
<rect x="468.99" y="627.4" width="1" height="1" fill="#4A84BE" opacity="0.8"/>
<rect x="442.82" y="667.68" width="1" height="1" fill="#4A84BE" opacity="0.8"/>
<rect x="439.78" y="668.56" width="1" height="1" fill="#4A84BE" opacity="0.8"/>
<rect x="458.6" y="625.19" width="1" height="1" fill="#4A84BE" opacity="0.8"/>
<rect x="466.73" y="616.7" width="1" height="1" fill="#4A84BE" opacity="0.8"/>
<rect x="451.49" y="660.18" width="1" height="1" fill="#4A84BE" opacity="0.8"/>
<rect x="457.12" y="653.23" width="1" height="1" fill="#4A84BE" opacity="0.8"/>
<rect x="461.35" y="622.09" width="1" height="1" fill="#4A84BE" opacity="0.8"/>
<rect x="418.11" y="663.44" width="1" height="1" fill="#4A84BE" opacity="0.8"/>
<rect x="415.17" y="669.3" width="1" height="1" fill="#4A84BE" opacity="0.8"/>
<rect x="419.67" y="662.94" width="1" height="1" fill="#4A84BE" opacity="0.8"/>
<rect x="442.3" y="668.15" width="1" height="1" fill="#4A84BE" opacity="0.8"/>
<rect x="446.26" y="637.16" width="1" height="1" fill="#4A84BE" opacity="0.8"/>
<rect x="468.32" y="631.17" width="1" height="1" fill="#4A84BE" opacity="0.8"/>
<rect x="466.24" y="638.17" width="1" height="1" fill="#4A84BE" opacity="0.8"/>
<rect x="451.85" y="632.13" width="1" height="1" fill="#4A84BE" opacity="0.8"/>
<rect x="454.8" y="657.89" width="1" height="1" fill="#4A84BE" opacity="0.8"/>
<rect x="469.23" y="631.26" width="1" height="1" fill="#4A84BE" opacity="0.8"/>
<rect x="441.39" y="642.47" width="1" height="1" fill="#4A84BE" opacity="0.8"/>
<rect x="450.42" y="660.71" width="1" height="1" fill="#4A84BE" opacity="0.8"/>
<rect x="435.08" y="668.33" width="1" height="1" fill="#4A84BE" opacity="0.8"/>
<rect x="468.11" y="631.81" width="1" height="1" fill="#4A84BE" opacity="0.8"/>
<rect x="457.64" y="652.31" width="1" height="1" fill="#4A84BE" opacity="0.8"/>
<rect x="468.42" y="640.08" width="1" height="1" fill="#4A84BE" opacity="0.8"/>
<rect x="459.53" y="653.07" width="1" height="1" fill="#4A84BE" opacity="0.8"/>
<rect x="448.5" y="633.75" width="1" height="1" fill="#4A84BE" opacity="0.8"/>
<rect x="467.43" y="635.36" width="1" height="1" fill="#4A84BE" opacity="0.8"/>
<rect x="460.48" y="656.44" width="1" height="1" fill="#4A84BE" opacity="0.8"/>
<rect x="469.29" y="629.65" width="1" height="1" fill="#4A84BE" opacity="0.8"/>
<rect x="455.22" y="655.61" width="1" height="1" fill="#4A84BE" opacity="0.8"/>
<rect x="455" y="657.46" width="1" height="1" fill="#4A84BE" opacity="0.8"/>
<rect x="420.13" y="662.56" width="1" height="1" fill="#4A84BE" opacity="0.8"/>
<rect x="448.83" y="634.66" width="1" height="1" fill="#4A84BE" opacity="0.8"/>
<rect x="456.86" y="657.86" width="1" height="1" fill="#4A84BE" opacity="0.8"/>
<rect x="443.7" y="667.6" width="1" height="1" fill="#4A84BE" opacity="0.8"/>
<rect x="446.66" y="663.07" width="1" height="1" fill="#4A84BE" opacity="0.8"/>
<rect x="468.52" y="634.15" width="1" height="1" fill="#4A84BE" opacity="0.8"/>
<rect x="427.95" y="654.79" width="1" height="1" fill="#4A84BE" opacity="0.8"/>
<rect x="439.63" y="643.94" width="1" height="1" fill="#4A84BE" opacity="0.8"/>
<rect x="429.4" y="652.94" width="1" height="1" fill="#4A84BE" opacity="0.8"/>
<rect x="459.43" y="660.64" width="1" height="1" fill="#4A84BE" opacity="0.8"/>
<rect x="444" y="666.86" width="1" height="1" fill="#4A84BE" opacity="0.8"/>
<rect x="469.2" y="618.03" width="1" height="1" fill="#4A84BE" opacity="0.8"/>
<rect x="460.05" y="651.11" width="1" height="1" fill="#4A84BE" opacity="0.8"/>
<rect x="439.64" y="667.8" width="1" height="1" fill="#4A84BE" opacity="0.8"/>
<rect x="468.22" y="616.34" width="1" height="1" fill="#4A84BE" opacity="0.8"/>
<rect x="455.51" y="661.02" width="1" height="1" fill="#4A84BE" opacity="0.8"/>
<rect x="444.29" y="640.04" width="1" height="1" fill="#4A84BE" opacity="0.8"/>
<rect x="450.66" y="663.94" width="1" height="1" fill="#4A84BE" opacity="0.8"/>
<rect x="457.48" y="656.18" width="1" height="1" fill="#4A84BE" opacity="0.8"/>
<rect x="458.08" y="651.71" width="1" height="1" fill="#4A84BE" opacity="0.8"/>
<rect x="469.89" y="629.6" width="1" height="1" fill="#4A84BE" opacity="0.8"/>
<rect x="468.26" y="634.29" width="1" height="1" fill="#4A84BE" opacity="0.8"/>
<rect x="463.89" y="652.67" width="1" height="1" fill="#4A84BE" opacity="0.8"/>
<rect x="434.2" y="649.54" width="1" height="1" fill="#4A84BE" opacity="0.8"/>
<rect x="457.56" y="655.33" width="1" height="1" fill="#4A84BE" opacity="0.8"/>
<rect x="469.44" y="626.42" width="1" height="1" fill="#4A84BE" opacity="0.8"/>
<rect x="458.95" y="623.03" width="1" height="1" fill="#4A84BE" opacity="0.8"/>
<rect x="443.22" y="668.74" width="1" height="1" fill="#4A84BE" opacity="0.8"/>
<rect x="468.57" y="642.94" width="1" height="1" fill="#4A84BE" opacity="0.8"/>
<rect x="469.43" y="617.92" width="1" height="1" fill="#4A84BE" opacity="0.8"/>
<rect x="419.62" y="669.64" width="1" height="1" fill="#4A84BE" opacity="0.8"/>
<rect x="414.03" y="667.46" width="1" height="1" fill="#4A84BE" opacity="0.8"/>
<rect x="449.34" y="661.02" width="1" height="1" fill="#4A84BE" opacity="0.8"/>
<rect x="423.08" y="669.65" width="1" height="1" fill="#4A84BE" opacity="0.8"/>
<rect x="456.34" y="655.92" width="1" height="1" fill="#4A84BE" opacity="0.8"/>
<rect x="464.65" y="645.91" width="1" height="1" fill="#4A84BE" opacity="0.8"/>
<rect x="470.07" y="637.73" width="1" height="1" fill="#4A84BE" opacity="0.8"/>
<rect x="440.76" y="668.85" width="1" height="1" fill="#4A84BE" opacity="0.8"/>
<rect x="462.07" y="648.92" width="1" height="1" fill="#4A84BE" opacity="0.8"/>
<rect x="433.73" y="650.25" width="1" height="1" fill="#4A84BE" opacity="0.8"/>
<rect x="470.06" y="623.09" width="1" height="1" fill="#4A84BE" opacity="0.8"/>
<rect x="432.58" y="651.04" width="1" height="1" fill="#4A84BE" opacity="0.8"/>
<rect x="424.6" y="656.59" width="1" height="1" fill="#4A84BE" opacity="0.8"/>
<rect x="441.36" y="669.39" width="1" height="1" fill="#4A84BE" opacity="0.8"/>
<rect x="439.45" y="669.52" width="1" height="1" fill="#4A84BE" opacity="0.8"/>
<rect x="459.41" y="650.13" width="1" height="1" fill="#4A84BE" opacity="0.8"/>
<rect x="452.34" y="663.33" width="1" height="1" fill="#4A84BE" opacity="0.8"/>
<rect x="459.28" y="651.94" width="1" height="1" fill="#4A84BE" opacity="0.8"/>
<rect x="469.65" y="621.5" width="1" height="1" fill="#4A84BE" opacity="0.8"/>
<rect x="445.26" y="638.51" width="1" height="1" fill="#4A84BE" opacity="0.8"/>
<rect x="466.79" y="616.22" width="1" height="1" fill="#4A84BE" opacity="0.8"/>
<rect x="469.7" y="634.8" width="1" height="1" fill="#4A84BE" opacity="0.8"/>
<rect x="456.34" y="626.47" width="1" height="1" fill="#4A84BE" opacity="0.8"/>
<rect x="468.16" y="639.55" width="1" height="1" fill="#4A84BE" opacity="0.8"/>
<rect x="439.63" y="667.26" width="1" height="1" fill="#4A84BE" opacity="0.8"/>
<rect x="453.84" y="664.37" width="1" height="1" fill="#4A84BE" opacity="0.8"/>
<rect x="469.41" y="646.93" width="1" height="1" fill="#4A84BE" opacity="0.8"/>
<rect x="457.57" y="652.46" width="1" height="1" fill="#4A84BE" opacity="0.8"/>
<rect x="436.86" y="669.42" width="1" height="1" fill="#4A84BE" opacity="0.8"/>
<rect x="462.92" y="652.06" width="1" height="1" fill="#4A84BE" opacity="0.8"/>
<rect x="440.56" y="643.07" width="1" height="1" fill="#4A84BE" opacity="0.8"/>
<rect x="469.33" y="642.32" width="1" height="1" fill="#4A84BE" opacity="0.8"/>
<rect x="454.39" y="663.22" width="1" height="1" fill="#4A84BE" opacity="0.8"/>
<rect x="456" y="627.05" width="1" height="1" fill="#4A84BE" opacity="0.8"/>
<rect x="431.4" y="651.91" width="1" height="1" fill="#4A84BE" opacity="0.8"/>
<rect x="434.53" y="668.81" width="1" height="1" fill="#4A84BE" opacity="0.8"/>
<rect x="458.94" y="653.05" width="1" height="1" fill="#4A84BE" opacity="0.8"/>
<rect x="442.08" y="640.48" width="1" height="1" fill="#4A84BE" opacity="0.8"/>
<rect x="448.63" y="663.09" width="1" height="1" fill="#4A84BE" opacity="0.8"/>
<rect x="453.61" y="629.51" width="1" height="1" fill="#4A84BE" opacity="0.8"/>
<rect x="464.48" y="644.9" width="1" height="1" fill="#4A84BE" opacity="0.8"/>
<rect x="445.35" y="638.5" width="1" height="1" fill="#4A84BE" opacity="0.8"/>
<rect x="447.4" y="662.59" width="1" height="1" fill="#4A84BE" opacity="0.8"/>
<rect x="469.94" y="622.9" width="1" height="1" fill="#4A84BE" opacity="0.8"/>
<rect x="468.75" y="631.69" width="1" height="1" fill="#4A84BE" opacity="0.8"/>
<rect x="467.29" y="632.42" width="1" height="1" fill="#4A84BE" opacity="0.8"/>
<rect x="445.29" y="666.5" width="1" height="1" fill="#4A84BE" opacity="0.8"/>
<rect x="432.71" y="649.8" width="1" height="1" fill="#4A84BE" opacity="0.8"/>
<rect x="428.83" y="653.45" width="1" height="1" fill="#4A84BE" opacity="0.8"/>
<rect x="439.45" y="667.64" width="1" height="1" fill="#4A84BE" opacity="0.8"/>
<rect x="467.3" y="640.82" width="1" height="1" fill="#4A84BE" opacity="0.8"/>
<rect x="447.57" y="662.05" width="1" height="1" fill="#4A84BE" opacity="0.8"/>
<rect x="416.43" y="665.26" width="1" height="1" fill="#4A84BE" opacity="0.8"/>
<rect x="449.81" y="663.14" width="1" height="1" fill="#4A84BE" opacity="0.8"/>
<rect x="459.04" y="651.36" width="1" height="1" fill="#4A84BE" opacity="0.8"/>
<rect x="449.35" y="634.43" width="1" height="1" fill="#4A84BE" opacity="0.8"/>
<rect x="423.53" y="669.24" width="1" height="1" fill="#4A84BE" opacity="0.8"/>
<rect x="431.18" y="669.29" width="1" height="1" fill="#4A84BE" opacity="0.8"/>
<rect x="454.27" y="660.22" width="1" height="1" fill="#4A84BE" opacity="0.8"/>
<rect x="458.43" y="652.16" width="1" height="1" fill="#4A84BE" opacity="0.8"/>
<rect x="462.75" y="656.64" width="1" height="1" fill="#4A84BE" opacity="0.8"/>
<rect x="444.19" y="665.57" width="1" height="1" fill="#4A84BE" opacity="0.8"/>
<rect x="448.09" y="663.17" width="1" height="1" fill="#4A84BE" opacity="0.8"/>
<rect x="469.48" y="645.44" width="1" height="1" fill="#4A84BE" opacity="0.8"/>
<rect x="467.43" y="615.99" width="1" height="1" fill="#4A84BE" opacity="0.8"/>
<rect x="466.57" y="616.19" width="1" height="1" fill="#4A84BE" opacity="0.8"/>
<rect x="455.13" y="628.63" width="1" height="1" fill="#4A84BE" opacity="0.8"/>
<rect x="461.01" y="649.94" width="1" height="1" fill="#4A84BE" opacity="0.8"/>
<rect x="446.1" y="637.19" width="1" height="1" fill="#4A84BE" opacity="0.8"/>
<rect x="455.7" y="655.27" width="1" height="1" fill="#4A84BE" opacity="0.8"/>
<rect x="436.76" y="646.71" width="1" height="1" fill="#4A84BE" opacity="0.8"/>
<rect x="421.16" y="669.8" width="1" height="1" fill="#4A84BE" opacity="0.8"/>
<rect x="446.27" y="664.3" width="1" height="1" fill="#4A84BE" opacity="0.8"/>
<rect x="420.29" y="660.77" width="1" height="1" fill="#4A84BE" opacity="0.8"/>
<rect x="454.9" y="659.46" width="1" height="1" fill="#4A84BE" opacity="0.8"/>
<rect x="416.94" y="664.54" width="1" height="1" fill="#4A84BE" opacity="0.8"/>
<rect x="468.08" y="649.08" width="1" height="1" fill="#4A84BE" opacity="0.8"/>
<rect x="454.81" y="657.36" width="1" height="1" fill="#4A84BE" opacity="0.8"/>
<rect x="445.74" y="665.82" width="1" height="1" fill="#4A84BE" opacity="0.8"/>
<rect x="436.35" y="647.19" width="1" height="1" fill="#4A84BE" opacity="0.8"/>
<rect x="439.7" y="667.95" width="1" height="1" fill="#4A84BE" opacity="0.8"/>
<rect x="465.75" y="637.24" width="1" height="1" fill="#4A84BE" opacity="0.8"/>
<rect x="466.04" y="615.99" width="1" height="1" fill="#4A84BE" opacity="0.8"/>
<rect x="450.93" y="661.38" width="1" height="1" fill="#4A84BE" opacity="0.8"/>
<rect x="462.31" y="620.87" width="1" height="1" fill="#4A84BE" opacity="0.8"/>
<rect x="443.06" y="665.91" width="1" height="1" fill="#4A84BE" opacity="0.8"/>
<rect x="426.3" y="656.75" width="1" height="1" fill="#4A84BE" opacity="0.8"/>
<rect x="454.76" y="662.75" width="1" height="1" fill="#4A84BE" opacity="0.8"/>
<rect x="465.09" y="617.05" width="1" height="1" fill="#4A84BE" opacity="0.8"/>
<rect x="437.4" y="668.99" width="1" height="1" fill="#4A84BE" opacity="0.8"/>
<rect x="441.21" y="668.62" width="1" height="1" fill="#4A84BE" opacity="0.8"/>
<rect x="422.27" y="658.69" width="1" height="1" fill="#4A84BE" opacity="0.8"/>
<rect x="447.95" y="663.43" width="1" height="1" fill="#4A84BE" opacity="0.8"/>
<rect x="455.39" y="657.58" width="1" height="1" fill="#4A84BE" opacity="0.8"/>
<rect x="458.86" y="656.81" width="1" height="1" fill="#4A84BE" opacity="0.8"/>
<rect x="457.05" y="653.86" width="1" height="1" fill="#4A84BE" opacity="0.8"/>
<rect x="436.24" y="647.23" width="1" height="1" fill="#4A84BE" opacity="0.8"/>
<rect x="465.41" y="642.06" width="1" height="1" fill="#4A84BE" opacity="0.8"/>
<rect x="453.86" y="629.57" width="1" height="1" fill="#4A84BE" opacity="0.8"/>
<rect x="449.96" y="661.78" width="1" height="1" fill="#4A84BE" opacity="0.8"/>
<rect x="414.19" y="668.68" width="1" height="1" fill="#4A84BE" opacity="0.8"/>
<rect x="458.83" y="661.55" width="1" height="1" fill="#4A84BE" opacity="0.8"/>
<rect x="445.35" y="638.45" width="1" height="1" fill="#4A84BE" opacity="0.8"/>
<rect x="468.17" y="646.58" width="1" height="1" fill="#4A84BE" opacity="0.8"/>
<rect x="427.37" y="655.27" width="1" height="1" fill="#4A84BE" opacity="0.8"/>
<rect x="468.45" y="646.04" width="1" height="1" fill="#4A84BE" opacity="0.8"/>
<rect x="456.35" y="654.44" width="1" height="1" fill="#4A84BE" opacity="0.8"/>
<rect x="469.9" y="620.96" width="1" height="1" fill="#4A84BE" opacity="0.8"/>
<rect x="447.85" y="634.69" width="1" height="1" fill="#4A84BE" opacity="0.8"/>
<rect x="460.04" y="648.33" width="1" height="1" fill="#4A84BE" opacity="0.8"/>
<rect x="467.63" y="639.72" width="1" height="1" fill="#4A84BE" opacity="0.8"/>
<rect x="428.99" y="654.41" width="1" height="1" fill="#4A84BE" opacity="0.8"/>
<rect x="436.67" y="669.27" width="1" height="1" fill="#4A84BE" opacity="0.8"/>
<rect x="467.68" y="632.52" width="1" height="1" fill="#4A84BE" opacity="0.8"/>
<rect x="453.41" y="661.75" width="1" height="1" fill="#4A84BE" opacity="0.8"/>
<rect x="452.63" y="661.47" width="1" height="1" fill="#4A84BE" opacity="0.8"/>
<rect x="431.05" y="669.63" width="1" height="1" fill="#4A84BE" opacity="0.8"/>
<rect x="425.35" y="655.99" width="1" height="1" fill="#4A84BE" opacity="0.8"/>
<rect x="437.69" y="669.3" width="1" height="1" fill="#4A84BE" opacity="0.8"/>
<rect x="448.28" y="662.31" width="1" height="1" fill="#4A84BE" opacity="0.8"/>
<rect x="467.3" y="634.05" width="1" height="1" fill="#4A84BE" opacity="0.8"/>
<rect x="451.51" y="661.3" width="1" height="1" fill="#4A84BE" opacity="0.8"/>
<rect x="427.3" y="654.53" width="1" height="1" fill="#4A84BE" opacity="0.8"/>
<rect x="445.34" y="665.24" width="1" height="1" fill="#4A84BE" opacity="0.8"/>
<rect x="462.23" y="645.26" width="1" height="1" fill="#4A84BE" opacity="0.8"/>
<rect x="466.49" y="643.54" width="1" height="1" fill="#4A84BE" opacity="0.8"/>
<rect x="462.16" y="650.68" width="1" height="1" fill="#4A84BE" opacity="0.8"/>
<rect x="470.06" y="626.27" width="1" height="1" fill="#4A84BE" opacity="0.8"/>
<rect x="440.89" y="642.16" width="1" height="1" fill="#4A84BE" opacity="0.8"/>
<rect x="421.73" y="669.59" width="1" height="1" fill="#4A84BE" opacity="0.8"/>
<rect x="457.85" y="624.75" width="1" height="1" fill="#4A84BE" opacity="0.8"/>
<rect x="450.12" y="660.7" width="1" height="1" fill="#4A84BE" opacity="0.8"/>
<rect x="469.01" y="623.93" width="1" height="1" fill="#4A84BE" opacity="0.8"/>
<rect x="464.87" y="640.17" width="1" height="1" fill="#4A84BE" opacity="0.8"/>
<rect x="468.74" y="617.19" width="1" height="1" fill="#4A84BE" opacity="0.8"/>
<rect x="443.77" y="665.1" width="1" height="1" fill="#4A84BE" opacity="0.8"/>
<rect x="420.8" y="669.25" width="1" height="1" fill="#4A84BE" opacity="0.8"/>
<rect x="420.05" y="661.13" width="1" height="1" fill="#4A84BE" opacity="0.8"/>
<rect x="429.51" y="653.55" width="1" height="1" fill="#4A84BE" opacity="0.8"/>
<rect x="439.89" y="667.12" width="1" height="1" fill="#4A84BE" opacity="0.8"/>
<rect x="420.45" y="669.62" width="1" height="1" fill="#4A84BE" opacity="0.8"/>
<rect x="445.31" y="637.12" width="1" height="1" fill="#4A84BE" opacity="0.8"/>
<rect x="447.5" y="662.31" width="1" height="1" fill="#4A84BE" opacity="0.8"/>
<rect x="434.17" y="649.36" width="1" height="1" fill="#4A84BE" opacity="0.8"/>
<rect x="470.95" y="632.73" width="1" height="1" fill="#4A84BE" opacity="0.8"/>
<rect x="467.59" y="633.22" width="1" height="1" fill="#4A84BE" opacity="0.8"/>
<rect x="423.65" y="669.2" width="1" height="1" fill="#4A84BE" opacity="0.8"/>
<rect x="454.77" y="657.87" width="1" height="1" fill="#4A84BE" opacity="0.8"/>
<rect x="462.47" y="645.56" width="1" height="1" fill="#4A84BE" opacity="0.8"/>
<rect x="461.96" y="619.58" width="1" height="1" fill="#4A84BE" opacity="0.8"/>
<rect x="456.86" y="657.42" width="1" height="1" fill="#4A84BE" opacity="0.8"/>
<rect x="470.06" y="627.43" width="1" height="1" fill="#4A84BE" opacity="0.8"/>
<rect x="462.67" y="619.58" width="1" height="1" fill="#4A84BE" opacity="0.8"/>
<rect x="464.03" y="646.27" width="1" height="1" fill="#4A84BE" opacity="0.8"/>
<rect x="464.25" y="647.83" width="1" height="1" fill="#4A84BE" opacity="0.8"/>
<rect x="456.08" y="657.03" width="1" height="1" fill="#4A84BE" opacity="0.8"/>
<rect x="448.48" y="635.71" width="1" height="1" fill="#4A84BE" opacity="0.8"/>
<rect x="442.16" y="640.85" width="1" height="1" fill="#4A84BE" opacity="0.8"/>
<rect x="430.7" y="652.59" width="1" height="1" fill="#4A84BE" opacity="0.8"/>
<rect x="463.56" y="654.84" width="1" height="1" fill="#4A84BE" opacity="0.8"/>
<rect x="422.52" y="658.9" width="1" height="1" fill="#4A84BE" opacity="0.8"/>
<rect x="468.32" y="628.1" width="1" height="1" fill="#4A84BE" opacity="0.8"/>
<rect x="430.82" y="653.12" width="1" height="1" fill="#4A84BE" opacity="0.8"/>
<rect x="419.43" y="669.64" width="1" height="1" fill="#4A84BE" opacity="0.8"/>
<rect x="435.82" y="668.43" width="1" height="1" fill="#4A84BE" opacity="0.8"/>
<rect x="447.04" y="667.79" width="1" height="1" fill="#4A84BE" opacity="0.8"/>
<rect x="464.08" y="644.43" width="1" height="1" fill="#4A84BE" opacity="0.8"/>
<rect x="449.67" y="663.02" width="1" height="1" fill="#4A84BE" opacity="0.8"/>
<rect x="459.55" y="658.03" width="1" height="1" fill="#4A84BE" opacity="0.8"/>
<rect x="433.68" y="650.42" width="1" height="1" fill="#4A84BE" opacity="0.8"/>
<rect x="469.03" y="628.47" width="1" height="1" fill="#4A84BE" opacity="0.8"/>
<rect x="441.27" y="641.92" width="1" height="1" fill="#4A84BE" opacity="0.8"/>
<rect x="436.9" y="645.99" width="1" height="1" fill="#4A84BE" opacity="0.8"/>
<rect x="437.57" y="645.54" width="1" height="1" fill="#4A84BE" opacity="0.8"/>
<rect x="442.5" y="669.21" width="1" height="1" fill="#4A84BE" opacity="0.8"/>
<rect x="466.86" y="641.23" width="1" height="1" fill="#4A84BE" opacity="0.8"/>
<rect x="446.32" y="637.47" width="1" height="1" fill="#4A84BE" opacity="0.8"/>
<rect x="467.41" y="638.91" width="1" height="1" fill="#4A84BE" opacity="0.8"/>
<rect x="436.24" y="669.41" width="1" height="1" fill="#4A84BE" opacity="0.8"/>
<rect x="465.22" y="638.43" width="1" height="1" fill="#4A84BE" opacity="0.8"/>
<rect x="451.05" y="664.21" width="1" height="1" fill="#4A84BE" opacity="0.8"/>
<rect x="470.18" y="625.14" width="1" height="1" fill="#4A84BE" opacity="0.8"/>
<rect x="467.22" y="633.88" width="1" height="1" fill="#4A84BE" opacity="0.8"/>
<rect x="459.74" y="623.21" width="1" height="1" fill="#4A84BE" opacity="0.8"/>
<rect x="439.16" y="644.84" width="1" height="1" fill="#4A84BE" opacity="0.8"/>
<rect x="454.42" y="658.97" width="1" height="1" fill="#4A84BE" opacity="0.8"/>
<rect x="461.17" y="622.17" width="1" height="1" fill="#4A84BE" opacity="0.8"/>
<rect x="426.93" y="669.32" width="1" height="1" fill="#4A84BE" opacity="0.8"/>
<rect x="445.89" y="668.01" width="1" height="1" fill="#4A84BE" opacity="0.8"/>
<rect x="432.72" y="650.06" width="1" height="1" fill="#4A84BE" opacity="0.8"/>
<rect x="456.93" y="657.57" width="1" height="1" fill="#4A84BE" opacity="0.8"/>
<rect x="469.27" y="620.87" width="1" height="1" fill="#4A84BE" opacity="0.8"/>
<rect x="457.85" y="658.9" width="1" height="1" fill="#4A84BE" opacity="0.8"/>
<rect x="468.94" y="640.27" width="1" height="1" fill="#4A84BE" opacity="0.8"/>
<rect x="467.01" y="638.98" width="1" height="1" fill="#4A84BE" opacity="0.8"/>
<rect x="443.25" y="640.14" width="1" height="1" fill="#4A84BE" opacity="0.8"/>
<rect x="437.4" y="668.52" width="1" height="1" fill="#4A84BE" opacity="0.8"/>
<rect x="454.65" y="629.29" width="1" height="1" fill="#4A84BE" opacity="0.8"/>
<rect x="459.75" y="652.96" width="1" height="1" fill="#4A84BE" opacity="0.8"/>
<rect x="449.88" y="661.38" width="1" height="1" fill="#4A84BE" opacity="0.8"/>
<rect x="454.65" y="636.54" width="0.9" height="0.9" fill="#FFFFFF" opacity="0.55"/>
<rect x="448.12" y="639.85" width="0.9" height="0.9" fill="#FFFFFF" opacity="0.55"/>
<rect x="437.44" y="653.67" width="0.9" height="0.9" fill="#FFFFFF" opacity="0.55"/>
<rect x="465.07" y="618.15" width="0.9" height="0.9" fill="#FFFFFF" opacity="0.55"/>
<rect x="428.19" y="667.92" width="0.9" height="0.9" fill="#FFFFFF" opacity="0.55"/>
<rect x="457.33" y="626.96" width="0.9" height="0.9" fill="#FFFFFF" opacity="0.55"/>
<rect x="447.41" y="644.79" width="0.9" height="0.9" fill="#FFFFFF" opacity="0.55"/>
<rect x="454.87" y="633.44" width="0.9" height="0.9" fill="#FFFFFF" opacity="0.55"/>
<rect x="459.16" y="636.74" width="0.9" height="0.9" fill="#FFFFFF" opacity="0.55"/>
<rect x="457.21" y="649.68" width="0.9" height="0.9" fill="#FFFFFF" opacity="0.55"/>
<rect x="445.33" y="646.67" width="0.9" height="0.9" fill="#FFFFFF" opacity="0.55"/>
<rect x="422.51" y="664.44" width="0.9" height="0.9" fill="#FFFFFF" opacity="0.55"/>
<rect x="431.97" y="657.87" width="0.9" height="0.9" fill="#FFFFFF" opacity="0.55"/>
<rect x="432.53" y="656.37" width="0.9" height="0.9" fill="#FFFFFF" opacity="0.55"/>
<rect x="457.59" y="642.22" width="0.9" height="0.9" fill="#FFFFFF" opacity="0.55"/>
<rect x="462.62" y="625.27" width="0.9" height="0.9" fill="#FFFFFF" opacity="0.55"/>
<rect x="439.1" y="657.63" width="0.9" height="0.9" fill="#FFFFFF" opacity="0.55"/>
<rect x="444.52" y="648.7" width="0.9" height="0.9" fill="#FFFFFF" opacity="0.55"/>
<rect x="456.89" y="630.73" width="0.9" height="0.9" fill="#FFFFFF" opacity="0.55"/>
<rect x="461.15" y="625.46" width="0.9" height="0.9" fill="#FFFFFF" opacity="0.55"/>
<rect x="459.63" y="640.53" width="0.9" height="0.9" fill="#FFFFFF" opacity="0.55"/>
<rect x="435.74" y="649.48" width="0.9" height="0.9" fill="#FFFFFF" opacity="0.55"/>
<rect x="450.97" y="657.59" width="0.9" height="0.9" fill="#FFFFFF" opacity="0.55"/>
<rect x="459.1" y="642.15" width="0.9" height="0.9" fill="#FFFFFF" opacity="0.55"/>
<rect x="444.83" y="662.79" width="0.9" height="0.9" fill="#FFFFFF" opacity="0.55"/>
<rect x="437.01" y="651.97" width="0.9" height="0.9" fill="#FFFFFF" opacity="0.55"/>
<rect x="444.66" y="640.38" width="0.9" height="0.9" fill="#FFFFFF" opacity="0.55"/>
<rect x="448.61" y="653.4" width="0.9" height="0.9" fill="#FFFFFF" opacity="0.55"/>
<rect x="421.27" y="666.4" width="0.9" height="0.9" fill="#FFFFFF" opacity="0.55"/>
<rect x="448.08" y="642.6" width="0.9" height="0.9" fill="#FFFFFF" opacity="0.55"/>
<rect x="450.8" y="634.98" width="0.9" height="0.9" fill="#FFFFFF" opacity="0.55"/>
<rect x="426.48" y="665.9" width="0.9" height="0.9" fill="#FFFFFF" opacity="0.55"/>
<rect x="459.42" y="647.95" width="0.9" height="0.9" fill="#FFFFFF" opacity="0.55"/>
<rect x="446.56" y="650.46" width="0.9" height="0.9" fill="#FFFFFF" opacity="0.55"/>
<rect x="448.03" y="654.17" width="0.9" height="0.9" fill="#FFFFFF" opacity="0.55"/>
<rect x="429.05" y="668.84" width="0.9" height="0.9" fill="#FFFFFF" opacity="0.55"/>
<rect x="442.78" y="661.77" width="0.9" height="0.9" fill="#FFFFFF" opacity="0.55"/>
<rect x="457.69" y="637.08" width="0.9" height="0.9" fill="#FFFFFF" opacity="0.55"/>
<rect x="448.15" y="655.63" width="0.9" height="0.9" fill="#FFFFFF" opacity="0.55"/>
<rect x="433.49" y="667.11" width="0.9" height="0.9" fill="#FFFFFF" opacity="0.55"/>
<rect x="433.87" y="663.01" width="0.9" height="0.9" fill="#FFFFFF" opacity="0.55"/>
<rect x="462.48" y="631.24" width="0.9" height="0.9" fill="#FFFFFF" opacity="0.55"/>
<rect x="436.46" y="666.03" width="0.9" height="0.9" fill="#FFFFFF" opacity="0.55"/>
<rect x="440.82" y="648.75" width="0.9" height="0.9" fill="#FFFFFF" opacity="0.55"/>
<rect x="448.33" y="658.11" width="0.9" height="0.9" fill="#FFFFFF" opacity="0.55"/>
<rect x="431.64" y="663.03" width="0.9" height="0.9" fill="#FFFFFF" opacity="0.55"/>
<rect x="439.56" y="655.78" width="0.9" height="0.9" fill="#FFFFFF" opacity="0.55"/>
<rect x="444.21" y="648.67" width="0.9" height="0.9" fill="#FFFFFF" opacity="0.55"/>
<rect x="453.9" y="631.05" width="0.9" height="0.9" fill="#FFFFFF" opacity="0.55"/>
<rect x="462.7" y="641.52" width="0.9" height="0.9" fill="#FFFFFF" opacity="0.55"/>
<rect x="417.79" y="668.13" width="0.9" height="0.9" fill="#FFFFFF" opacity="0.55"/>
<rect x="454.32" y="648.19" width="0.9" height="0.9" fill="#FFFFFF" opacity="0.55"/>
<rect x="445.92" y="654.11" width="0.9" height="0.9" fill="#FFFFFF" opacity="0.55"/>
<rect x="446.23" y="661.76" width="0.9" height="0.9" fill="#FFFFFF" opacity="0.55"/>
<rect x="438.44" y="665.32" width="0.9" height="0.9" fill="#FFFFFF" opacity="0.55"/>
<rect x="458.68" y="646.27" width="0.9" height="0.9" fill="#FFFFFF" opacity="0.55"/>
<rect x="462.45" y="621.57" width="0.9" height="0.9" fill="#FFFFFF" opacity="0.55"/>
<rect x="422.22" y="666.79" width="0.9" height="0.9" fill="#FFFFFF" opacity="0.55"/>
<rect x="428.05" y="663.54" width="0.9" height="0.9" fill="#FFFFFF" opacity="0.55"/>
<rect x="465.98" y="622.46" width="0.9" height="0.9" fill="#FFFFFF" opacity="0.55"/>
<rect x="435.89" y="652.2" width="0.9" height="0.9" fill="#FFFFFF" opacity="0.55"/>
<rect x="435.87" y="660.56" width="0.9" height="0.9" fill="#FFFFFF" opacity="0.55"/>
<rect x="445.51" y="643.84" width="0.9" height="0.9" fill="#FFFFFF" opacity="0.55"/>
<rect x="458.75" y="646.15" width="0.9" height="0.9" fill="#FFFFFF" opacity="0.55"/>
<rect x="456.71" y="630.48" width="0.9" height="0.9" fill="#FFFFFF" opacity="0.55"/>
<rect x="436.39" y="658.81" width="0.9" height="0.9" fill="#FFFFFF" opacity="0.55"/>
<rect x="433.55" y="656.13" width="0.9" height="0.9" fill="#FFFFFF" opacity="0.55"/>
<rect x="468.05" y="617.61" width="0.9" height="0.9" fill="#FFFFFF" opacity="0.55"/>
<rect x="436.82" y="662.4" width="0.9" height="0.9" fill="#FFFFFF" opacity="0.55"/>
<rect x="458.3" y="637.53" width="0.9" height="0.9" fill="#FFFFFF" opacity="0.55"/>
<rect x="430.93" y="654.95" width="0.9" height="0.9" fill="#FFFFFF" opacity="0.55"/>
<rect x="425.72" y="661.78" width="0.9" height="0.9" fill="#FFFFFF" opacity="0.55"/>
<rect x="438.46" y="647.61" width="0.9" height="0.9" fill="#FFFFFF" opacity="0.55"/>
<rect x="436.52" y="648.42" width="0.9" height="0.9" fill="#FFFFFF" opacity="0.55"/>
<rect x="449.61" y="642.15" width="0.9" height="0.9" fill="#FFFFFF" opacity="0.55"/>
<rect x="450.89" y="634.92" width="0.9" height="0.9" fill="#FFFFFF" opacity="0.55"/>
<rect x="447.59" y="648.69" width="0.9" height="0.9" fill="#FFFFFF" opacity="0.55"/>
<rect x="438.28" y="665.44" width="0.9" height="0.9" fill="#FFFFFF" opacity="0.55"/>
<rect x="468.3" y="624.57" width="0.9" height="0.9" fill="#FFFFFF" opacity="0.55"/>
<rect x="461.37" y="630.46" width="0.9" height="0.9" fill="#FFFFFF" opacity="0.55"/>
<rect x="457.78" y="643.16" width="0.9" height="0.9" fill="#FFFFFF" opacity="0.55"/>
<rect x="443.32" y="646.04" width="0.9" height="0.9" fill="#FFFFFF" opacity="0.55"/>
<rect x="429.8" y="665.3" width="0.9" height="0.9" fill="#FFFFFF" opacity="0.55"/>
<rect x="437.41" y="659.56" width="0.9" height="0.9" fill="#FFFFFF" opacity="0.55"/>
<rect x="438.14" y="666.72" width="0.9" height="0.9" fill="#FFFFFF" opacity="0.55"/>
<rect x="437.26" y="666.23" width="0.9" height="0.9" fill="#FFFFFF" opacity="0.55"/>
<rect x="431.98" y="653.43" width="0.9" height="0.9" fill="#FFFFFF" opacity="0.55"/>
<rect x="453.03" y="645.29" width="0.9" height="0.9" fill="#FFFFFF" opacity="0.55"/>
<rect x="452.52" y="656.7" width="0.9" height="0.9" fill="#FFFFFF" opacity="0.55"/>
<rect x="464.52" y="636.98" width="0.9" height="0.9" fill="#FFFFFF" opacity="0.55"/>
<rect x="458.17" y="629.04" width="0.9" height="0.9" fill="#FFFFFF" opacity="0.55"/>
<rect x="437.21" y="665.32" width="0.9" height="0.9" fill="#FFFFFF" opacity="0.55"/>
<rect x="466.67" y="619.37" width="0.9" height="0.9" fill="#FFFFFF" opacity="0.55"/>
<rect x="423.05" y="665.95" width="0.9" height="0.9" fill="#FFFFFF" opacity="0.55"/>
<rect x="453.72" y="644.36" width="0.9" height="0.9" fill="#FFFFFF" opacity="0.55"/>
<rect x="441.21" y="651.55" width="0.9" height="0.9" fill="#FFFFFF" opacity="0.55"/>
<rect x="431.66" y="658.42" width="0.9" height="0.9" fill="#FFFFFF" opacity="0.55"/>
<rect x="439.78" y="666.32" width="0.9" height="0.9" fill="#FFFFFF" opacity="0.55"/>
<rect x="465.36" y="622.5" width="0.9" height="0.9" fill="#FFFFFF" opacity="0.55"/>
<rect x="425.32" y="664.24" width="0.9" height="0.9" fill="#FFFFFF" opacity="0.55"/>
<rect x="467.64" y="624.26" width="0.9" height="0.9" fill="#FFFFFF" opacity="0.55"/>
<rect x="431.45" y="655.91" width="0.9" height="0.9" fill="#FFFFFF" opacity="0.55"/>
<rect x="440.72" y="662.73" width="0.9" height="0.9" fill="#FFFFFF" opacity="0.55"/>
<rect x="432.76" y="664.2" width="0.9" height="0.9" fill="#FFFFFF" opacity="0.55"/>
<rect x="432.56" y="657.54" width="0.9" height="0.9" fill="#FFFFFF" opacity="0.55"/>
<rect x="432.12" y="657.82" width="0.9" height="0.9" fill="#FFFFFF" opacity="0.55"/>
<rect x="449.59" y="637.63" width="0.9" height="0.9" fill="#FFFFFF" opacity="0.55"/>
<rect x="451.2" y="634.65" width="0.9" height="0.9" fill="#FFFFFF" opacity="0.55"/>
<rect x="427.87" y="665.42" width="0.9" height="0.9" fill="#FFFFFF" opacity="0.55"/>
<rect x="458.13" y="647.62" width="0.9" height="0.9" fill="#FFFFFF" opacity="0.55"/>
<rect x="445.16" y="658.23" width="0.9" height="0.9" fill="#FFFFFF" opacity="0.55"/>
<rect x="451.26" y="633.17" width="0.9" height="0.9" fill="#FFFFFF" opacity="0.55"/>
<rect x="431.69" y="666.39" width="0.9" height="0.9" fill="#FFFFFF" opacity="0.55"/>
<rect x="449.25" y="653.22" width="0.9" height="0.9" fill="#FFFFFF" opacity="0.55"/>
<rect x="460.4" y="640.83" width="0.9" height="0.9" fill="#FFFFFF" opacity="0.55"/>
<rect x="422.17" y="660.99" width="0.9" height="0.9" fill="#FFFFFF" opacity="0.55"/>
<rect x="443.93" y="643.3" width="0.9" height="0.9" fill="#FFFFFF" opacity="0.55"/>
<rect x="436.46" y="651.68" width="0.9" height="0.9" fill="#FFFFFF" opacity="0.55"/>
<rect x="437.92" y="662.62" width="0.9" height="0.9" fill="#FFFFFF" opacity="0.55"/>
<rect x="467.16" y="627.81" width="0.9" height="0.9" fill="#FFFFFF" opacity="0.55"/>
<rect x="424.8" y="665.05" width="0.9" height="0.9" fill="#FFFFFF" opacity="0.55"/>
<rect x="450.86" y="652.83" width="0.9" height="0.9" fill="#FFFFFF" opacity="0.55"/>
<rect x="453.75" y="650.65" width="0.9" height="0.9" fill="#FFFFFF" opacity="0.55"/>
<rect x="430.98" y="656.6" width="0.9" height="0.9" fill="#FFFFFF" opacity="0.55"/>
<rect x="449.89" y="651.62" width="0.9" height="0.9" fill="#FFFFFF" opacity="0.55"/>
<rect x="427.46" y="663.76" width="0.9" height="0.9" fill="#FFFFFF" opacity="0.55"/>
<rect x="461.42" y="622.27" width="0.9" height="0.9" fill="#FFFFFF" opacity="0.55"/>
<rect x="457.49" y="634.61" width="0.9" height="0.9" fill="#FFFFFF" opacity="0.55"/>
<rect x="428.62" y="669.17" width="0.9" height="0.9" fill="#FFFFFF" opacity="0.55"/>
<rect x="447.21" y="650.8" width="0.9" height="0.9" fill="#FFFFFF" opacity="0.55"/>
<rect x="440.02" y="652.91" width="0.9" height="0.9" fill="#FFFFFF" opacity="0.55"/>
<rect x="441.76" y="657.73" width="0.9" height="0.9" fill="#FFFFFF" opacity="0.55"/>
<rect x="438.67" y="651.46" width="0.9" height="0.9" fill="#FFFFFF" opacity="0.55"/>
<rect x="420.63" y="667.57" width="0.9" height="0.9" fill="#FFFFFF" opacity="0.55"/>
<rect x="446.39" y="645" width="0.9" height="0.9" fill="#FFFFFF" opacity="0.55"/>
<rect x="419.56" y="666.16" width="0.9" height="0.9" fill="#FFFFFF" opacity="0.55"/>
<rect x="434.76" y="651.63" width="0.9" height="0.9" fill="#FFFFFF" opacity="0.55"/>
<rect x="435.83" y="649.07" width="0.9" height="0.9" fill="#FFFFFF" opacity="0.55"/>
<rect x="444.51" y="663.42" width="0.9" height="0.9" fill="#FFFFFF" opacity="0.55"/>
<rect x="462.52" y="641.65" width="0.9" height="0.9" fill="#FFFFFF" opacity="0.55"/>
<rect x="446.31" y="638.46" width="0.9" height="0.9" fill="#FFFFFF" opacity="0.55"/>
<rect x="453.72" y="655.14" width="0.9" height="0.9" fill="#FFFFFF" opacity="0.55"/>
<rect x="458.53" y="628.27" width="0.9" height="0.9" fill="#FFFFFF" opacity="0.55"/>
<rect x="439.26" y="653.69" width="0.9" height="0.9" fill="#FFFFFF" opacity="0.55"/>
<rect x="437.98" y="654.9" width="0.9" height="0.9" fill="#FFFFFF" opacity="0.55"/>
<rect x="459.75" y="638.44" width="0.9" height="0.9" fill="#FFFFFF" opacity="0.55"/>
<rect x="447.88" y="637.59" width="0.9" height="0.9" fill="#FFFFFF" opacity="0.55"/>
<rect x="431.76" y="667.92" width="0.9" height="0.9" fill="#FFFFFF" opacity="0.55"/>
<rect x="459" y="626.55" width="0.9" height="0.9" fill="#FFFFFF" opacity="0.55"/>
<rect x="436.39" y="650.24" width="0.9" height="0.9" fill="#FFFFFF" opacity="0.55"/>
<rect x="462.93" y="629.49" width="0.9" height="0.9" fill="#FFFFFF" opacity="0.55"/>
<rect x="436.53" y="657.1" width="0.9" height="0.9" fill="#FFFFFF" opacity="0.55"/>
<rect x="444.21" y="648.71" width="0.9" height="0.9" fill="#FFFFFF" opacity="0.55"/>
<rect x="455.57" y="642.47" width="0.9" height="0.9" fill="#FFFFFF" opacity="0.55"/>
<rect x="453.66" y="656.75" width="0.9" height="0.9" fill="#FFFFFF" opacity="0.55"/>
<rect x="439.63" y="653.37" width="0.9" height="0.9" fill="#FFFFFF" opacity="0.55"/>
<rect x="426.78" y="669.02" width="0.9" height="0.9" fill="#FFFFFF" opacity="0.55"/>
<rect x="453.59" y="649.25" width="0.9" height="0.9" fill="#FFFFFF" opacity="0.55"/>
<rect x="439.2" y="661.61" width="0.9" height="0.9" fill="#FFFFFF" opacity="0.55"/>
<rect x="433.23" y="655.29" width="0.9" height="0.9" fill="#FFFFFF" opacity="0.55"/>
<rect x="453.01" y="648.36" width="0.9" height="0.9" fill="#FFFFFF" opacity="0.55"/>
<rect x="449.5" y="643.5" width="0.9" height="0.9" fill="#FFFFFF" opacity="0.55"/>
<rect x="455.53" y="642.66" width="0.9" height="0.9" fill="#FFFFFF" opacity="0.55"/>
<rect x="461.33" y="632.76" width="0.9" height="0.9" fill="#FFFFFF" opacity="0.55"/>
<rect x="418.12" y="668.17" width="0.9" height="0.9" fill="#FFFFFF" opacity="0.55"/>
<rect x="439.04" y="650.97" width="0.9" height="0.9" fill="#FFFFFF" opacity="0.55"/>
<rect x="458.8" y="645.25" width="0.9" height="0.9" fill="#FFFFFF" opacity="0.55"/>
<rect x="423.29" y="666.1" width="0.9" height="0.9" fill="#FFFFFF" opacity="0.55"/>
<rect x="439.97" y="660.52" width="0.9" height="0.9" fill="#FFFFFF" opacity="0.55"/>
<rect x="447.38" y="656.98" width="0.9" height="0.9" fill="#FFFFFF" opacity="0.55"/>
<rect x="444.12" y="640.42" width="0.9" height="0.9" fill="#FFFFFF" opacity="0.55"/>
<rect x="446.98" y="647.12" width="0.9" height="0.9" fill="#FFFFFF" opacity="0.55"/>
<rect x="446.49" y="656.42" width="0.9" height="0.9" fill="#FFFFFF" opacity="0.55"/>
<rect x="431.93" y="661.68" width="0.9" height="0.9" fill="#FFFFFF" opacity="0.55"/>
<rect x="430.25" y="653.74" width="0.9" height="0.9" fill="#FFFFFF" opacity="0.55"/>
<rect x="442.56" y="644.22" width="0.9" height="0.9" fill="#FFFFFF" opacity="0.55"/>
<rect x="468.52" y="622.27" width="0.9" height="0.9" fill="#FFFFFF" opacity="0.55"/>
<rect x="445.66" y="660.83" width="0.9" height="0.9" fill="#FFFFFF" opacity="0.55"/>
<rect x="456.69" y="639.64" width="0.9" height="0.9" fill="#FFFFFF" opacity="0.55"/>
<rect x="454.17" y="653.61" width="0.9" height="0.9" fill="#FFFFFF" opacity="0.55"/>
<rect x="440.41" y="651.35" width="0.9" height="0.9" fill="#FFFFFF" opacity="0.55"/>
<rect x="448.92" y="648.05" width="0.9" height="0.9" fill="#FFFFFF" opacity="0.55"/>
<rect x="460.46" y="628.26" width="0.9" height="0.9" fill="#FFFFFF" opacity="0.55"/>
<rect x="468.61" y="623.81" width="0.9" height="0.9" fill="#FFFFFF" opacity="0.55"/>
<rect x="448.71" y="659.27" width="0.9" height="0.9" fill="#FFFFFF" opacity="0.55"/>
<rect x="452.97" y="639.74" width="0.9" height="0.9" fill="#FFFFFF" opacity="0.55"/>
<rect x="431.23" y="668.47" width="0.9" height="0.9" fill="#FFFFFF" opacity="0.55"/>
<rect x="466.84" y="621.02" width="0.9" height="0.9" fill="#FFFFFF" opacity="0.55"/>
<rect x="444.45" y="649.85" width="0.9" height="0.9" fill="#FFFFFF" opacity="0.55"/>
<rect x="424.6" y="659.05" width="0.9" height="0.9" fill="#FFFFFF" opacity="0.55"/>
<rect x="421.94" y="667.91" width="0.9" height="0.9" fill="#FFFFFF" opacity="0.55"/>
<rect x="427.73" y="667.14" width="0.9" height="0.9" fill="#FFFFFF" opacity="0.55"/>
<rect x="450.98" y="658.68" width="0.9" height="0.9" fill="#FFFFFF" opacity="0.55"/>
<rect x="438.47" y="660.52" width="0.9" height="0.9" fill="#FFFFFF" opacity="0.55"/>
<rect x="456.51" y="632.16" width="0.9" height="0.9" fill="#FFFFFF" opacity="0.55"/>
<rect x="453.1" y="654.11" width="0.9" height="0.9" fill="#FFFFFF" opacity="0.55"/>
<rect x="443.6" y="656.52" width="0.9" height="0.9" fill="#FFFFFF" opacity="0.55"/>
<rect x="462.22" y="638.89" width="0.9" height="0.9" fill="#FFFFFF" opacity="0.55"/>
<rect x="459.67" y="631" width="0.9" height="0.9" fill="#FFFFFF" opacity="0.55"/>
<rect x="441.82" y="661.83" width="0.9" height="0.9" fill="#FFFFFF" opacity="0.55"/>
<rect x="420.54" y="665.81" width="0.9" height="0.9" fill="#FFFFFF" opacity="0.55"/>
<rect x="443.15" y="641.77" width="0.9" height="0.9" fill="#FFFFFF" opacity="0.55"/>
<rect x="466.55" y="617.69" width="0.9" height="0.9" fill="#FFFFFF" opacity="0.55"/>
<rect x="456.22" y="635.2" width="0.9" height="0.9" fill="#FFFFFF" opacity="0.55"/>
<rect x="458.31" y="628.44" width="0.9" height="0.9" fill="#FFFFFF" opacity="0.55"/>
<rect x="465.26" y="631.39" width="0.9" height="0.9" fill="#FFFFFF" opacity="0.55"/>
<rect x="468.65" y="623.57" width="0.9" height="0.9" fill="#FFFFFF" opacity="0.55"/>
<rect x="452.28" y="631.96" width="0.9" height="0.9" fill="#FFFFFF" opacity="0.55"/>
<rect x="414.59" y="668.88" width="0.9" height="0.9" fill="#FFFFFF" opacity="0.55"/>
<rect x="420.49" y="665.12" width="0.9" height="0.9" fill="#FFFFFF" opacity="0.55"/>
<rect x="444.55" y="641.02" width="0.9" height="0.9" fill="#FFFFFF" opacity="0.55"/>
<rect x="420.63" y="663.51" width="0.9" height="0.9" fill="#FFFFFF" opacity="0.55"/>
<rect x="463.93" y="634.85" width="0.9" height="0.9" fill="#FFFFFF" opacity="0.55"/>
<rect x="448.81" y="640.38" width="0.9" height="0.9" fill="#FFFFFF" opacity="0.55"/>
<rect x="448.26" y="646.76" width="0.9" height="0.9" fill="#FFFFFF" opacity="0.55"/>
<rect x="460.29" y="637.59" width="0.9" height="0.9" fill="#FFFFFF" opacity="0.55"/>
<rect x="444.41" y="662.28" width="0.9" height="0.9" fill="#FFFFFF" opacity="0.55"/>
<rect x="431.65" y="662.42" width="0.9" height="0.9" fill="#FFFFFF" opacity="0.55"/>
<rect x="436.59" y="665.03" width="0.9" height="0.9" fill="#FFFFFF" opacity="0.55"/>
<rect x="454.57" y="649.21" width="0.9" height="0.9" fill="#FFFFFF" opacity="0.55"/>
<rect x="444.12" y="646.41" width="0.9" height="0.9" fill="#FFFFFF" opacity="0.55"/>
<rect x="458.8" y="635.56" width="0.9" height="0.9" fill="#FFFFFF" opacity="0.55"/>
<rect x="462.77" y="629.76" width="0.9" height="0.9" fill="#FFFFFF" opacity="0.55"/>
<rect x="464.68" y="628.05" width="0.9" height="0.9" fill="#FFFFFF" opacity="0.55"/>
<rect x="461.06" y="632.23" width="0.9" height="0.9" fill="#FFFFFF" opacity="0.55"/>
<rect x="417.92" y="665.88" width="0.9" height="0.9" fill="#FFFFFF" opacity="0.55"/>
<rect x="433.99" y="660.66" width="0.9" height="0.9" fill="#FFFFFF" opacity="0.55"/>
<rect x="463.7" y="628.61" width="0.9" height="0.9" fill="#FFFFFF" opacity="0.55"/>
<rect x="445.23" y="659.4" width="0.9" height="0.9" fill="#FFFFFF" opacity="0.55"/>
<rect x="443.69" y="657.05" width="0.9" height="0.9" fill="#FFFFFF" opacity="0.55"/>
<rect x="454.8" y="634.71" width="0.9" height="0.9" fill="#FFFFFF" opacity="0.55"/>
<rect x="449.77" y="640.7" width="0.9" height="0.9" fill="#FFFFFF" opacity="0.55"/>
<rect x="429.7" y="658.78" width="0.9" height="0.9" fill="#FFFFFF" opacity="0.55"/>
<rect x="443.23" y="650.82" width="0.9" height="0.9" fill="#FFFFFF" opacity="0.55"/>
<rect x="433.89" y="651.29" width="0.9" height="0.9" fill="#FFFFFF" opacity="0.55"/>
<rect x="454.26" y="647.29" width="0.9" height="0.9" fill="#FFFFFF" opacity="0.55"/>
<rect x="438.16" y="663.49" width="0.9" height="0.9" fill="#FFFFFF" opacity="0.55"/>
<rect x="441.42" y="663.25" width="0.9" height="0.9" fill="#FFFFFF" opacity="0.55"/>
<rect x="461.53" y="624.21" width="0.9" height="0.9" fill="#FFFFFF" opacity="0.55"/>
<rect x="438.19" y="654.42" width="0.9" height="0.9" fill="#FFFFFF" opacity="0.55"/>
<rect x="448.23" y="646.65" width="0.9" height="0.9" fill="#FFFFFF" opacity="0.55"/>
<rect x="453.38" y="643.53" width="0.9" height="0.9" fill="#FFFFFF" opacity="0.55"/>
<rect x="442.62" y="647.98" width="0.9" height="0.9" fill="#FFFFFF" opacity="0.55"/>
<rect x="453.92" y="647.62" width="0.9" height="0.9" fill="#FFFFFF" opacity="0.55"/>
<rect x="460.65" y="634.68" width="0.9" height="0.9" fill="#FFFFFF" opacity="0.55"/>
<rect x="450.3" y="656.25" width="0.9" height="0.9" fill="#FFFFFF" opacity="0.55"/>
<rect x="447.41" y="637.09" width="0.9" height="0.9" fill="#FFFFFF" opacity="0.55"/>
<rect x="466.39" y="634.24" width="0.9" height="0.9" fill="#FFFFFF" opacity="0.55"/>
<rect x="456.28" y="639.38" width="0.9" height="0.9" fill="#FFFFFF" opacity="0.55"/>
<rect x="433.15" y="657.05" width="0.9" height="0.9" fill="#FFFFFF" opacity="0.55"/>
<rect x="450.92" y="648.26" width="0.9" height="0.9" fill="#FFFFFF" opacity="0.55"/>
<rect x="457.86" y="631.21" width="0.9" height="0.9" fill="#FFFFFF" opacity="0.55"/>
<rect x="419.76" y="667.58" width="0.9" height="0.9" fill="#FFFFFF" opacity="0.55"/>
<rect x="427.15" y="663.68" width="0.9" height="0.9" fill="#FFFFFF" opacity="0.55"/>
<rect x="420.6" y="664.46" width="0.9" height="0.9" fill="#FFFFFF" opacity="0.55"/>
<rect x="443.94" y="657.35" width="0.9" height="0.9" fill="#FFFFFF" opacity="0.55"/>
<rect x="464.96" y="634.51" width="0.9" height="0.9" fill="#FFFFFF" opacity="0.55"/>
<rect x="456.2" y="638.37" width="0.9" height="0.9" fill="#FFFFFF" opacity="0.55"/>
<rect x="426.84" y="661.35" width="0.9" height="0.9" fill="#FFFFFF" opacity="0.55"/>
<rect x="431.47" y="657.55" width="0.9" height="0.9" fill="#FFFFFF" opacity="0.55"/>
<rect x="458.13" y="627.52" width="0.9" height="0.9" fill="#FFFFFF" opacity="0.55"/>
<rect x="433.12" y="654.9" width="0.9" height="0.9" fill="#FFFFFF" opacity="0.55"/>
<rect x="443.33" y="660.66" width="0.9" height="0.9" fill="#FFFFFF" opacity="0.55"/>
<rect x="436.66" y="649.01" width="0.9" height="0.9" fill="#FFFFFF" opacity="0.55"/>
<rect x="461.64" y="631.67" width="0.9" height="0.9" fill="#FFFFFF" opacity="0.55"/>
<rect x="436.85" y="649.47" width="0.9" height="0.9" fill="#FFFFFF" opacity="0.55"/>
<rect x="433.09" y="666.59" width="0.9" height="0.9" fill="#FFFFFF" opacity="0.55"/>
<rect x="449.13" y="636.58" width="0.9" height="0.9" fill="#FFFFFF" opacity="0.55"/>
<rect x="428.79" y="668.34" width="0.9" height="0.9" fill="#FFFFFF" opacity="0.55"/>
<rect x="420.86" y="665.23" width="0.9" height="0.9" fill="#FFFFFF" opacity="0.55"/>
<rect x="447.71" y="639.51" width="0.9" height="0.9" fill="#FFFFFF" opacity="0.55"/>
<rect x="453.44" y="649.86" width="0.9" height="0.9" fill="#FFFFFF" opacity="0.55"/>
<rect x="442.8" y="657.27" width="0.9" height="0.9" fill="#FFFFFF" opacity="0.55"/>
<rect x="456.15" y="632.73" width="0.9" height="0.9" fill="#FFFFFF" opacity="0.55"/>
<rect x="432.77" y="652.02" width="0.9" height="0.9" fill="#FFFFFF" opacity="0.55"/>
<rect x="430.27" y="667.07" width="0.9" height="0.9" fill="#FFFFFF" opacity="0.55"/>
<rect x="453.09" y="634.96" width="0.9" height="0.9" fill="#FFFFFF" opacity="0.55"/>
<rect x="429.53" y="662.29" width="0.9" height="0.9" fill="#FFFFFF" opacity="0.55"/>
<rect x="442.64" y="661.42" width="0.9" height="0.9" fill="#FFFFFF" opacity="0.55"/>
<rect x="457.1" y="627.73" width="0.9" height="0.9" fill="#FFFFFF" opacity="0.55"/>
<rect x="434.88" y="666.32" width="0.9" height="0.9" fill="#FFFFFF" opacity="0.55"/>
<rect x="435.79" y="663.35" width="0.9" height="0.9" fill="#FFFFFF" opacity="0.55"/>
<rect x="437.02" y="666.67" width="0.9" height="0.9" fill="#FFFFFF" opacity="0.55"/>
<rect x="458.36" y="628.06" width="0.9" height="0.9" fill="#FFFFFF" opacity="0.55"/>
<rect x="427.33" y="658.17" width="0.9" height="0.9" fill="#FFFFFF" opacity="0.55"/>
<rect x="422.86" y="665.92" width="0.9" height="0.9" fill="#FFFFFF" opacity="0.55"/>
<rect x="432.31" y="665.62" width="0.9" height="0.9" fill="#FFFFFF" opacity="0.55"/>
<rect x="430.22" y="667.74" width="0.9" height="0.9" fill="#FFFFFF" opacity="0.55"/>
<rect x="422.85" y="661" width="0.9" height="0.9" fill="#FFFFFF" opacity="0.55"/>
<rect x="456.96" y="652.25" width="0.9" height="0.9" fill="#FFFFFF" opacity="0.55"/>
<rect x="463.36" y="623.92" width="0.9" height="0.9" fill="#FFFFFF" opacity="0.55"/>
<rect x="451.9" y="649.28" width="0.9" height="0.9" fill="#FFFFFF" opacity="0.55"/>
<rect x="430.94" y="654.52" width="0.9" height="0.9" fill="#FFFFFF" opacity="0.55"/>
<rect x="446.83" y="654.31" width="0.9" height="0.9" fill="#FFFFFF" opacity="0.55"/>
<rect x="464.49" y="636.08" width="0.9" height="0.9" fill="#FFFFFF" opacity="0.55"/>
<rect x="436.25" y="653.52" width="0.9" height="0.9" fill="#FFFFFF" opacity="0.55"/>
<rect x="441.35" y="654.35" width="0.9" height="0.9" fill="#FFFFFF" opacity="0.55"/>
<rect x="457.53" y="650.86" width="0.9" height="0.9" fill="#FFFFFF" opacity="0.55"/>
<rect x="449.99" y="647.57" width="0.9" height="0.9" fill="#FFFFFF" opacity="0.55"/>
<rect x="449.12" y="638.68" width="0.9" height="0.9" fill="#FFFFFF" opacity="0.55"/>
<rect x="467.69" y="620.51" width="0.9" height="0.9" fill="#FFFFFF" opacity="0.55"/>
<rect x="449.37" y="656.64" width="0.9" height="0.9" fill="#FFFFFF" opacity="0.55"/>
<rect x="462.43" y="626" width="0.9" height="0.9" fill="#FFFFFF" opacity="0.55"/>
<rect x="451.19" y="639.37" width="0.9" height="0.9" fill="#FFFFFF" opacity="0.55"/>
<rect x="467.99" y="624.63" width="0.9" height="0.9" fill="#FFFFFF" opacity="0.55"/>
<rect x="430.76" y="659.49" width="0.9" height="0.9" fill="#FFFFFF" opacity="0.55"/>
<rect x="449.16" y="647.46" width="0.9" height="0.9" fill="#FFFFFF" opacity="0.55"/>
<rect x="453.12" y="653.2" width="0.9" height="0.9" fill="#FFFFFF" opacity="0.55"/>
<rect x="467.35" y="618.31" width="0.9" height="0.9" fill="#FFFFFF" opacity="0.55"/>
<rect x="458.11" y="646.65" width="0.9" height="0.9" fill="#FFFFFF" opacity="0.55"/>
<rect x="445.54" y="651.9" width="0.9" height="0.9" fill="#FFFFFF" opacity="0.55"/>
<rect x="454.05" y="646.35" width="0.9" height="0.9" fill="#FFFFFF" opacity="0.55"/>
<rect x="458.09" y="639.23" width="0.9" height="0.9" fill="#FFFFFF" opacity="0.55"/>
<rect x="455.9" y="649.12" width="0.9" height="0.9" fill="#FFFFFF" opacity="0.55"/>
<rect x="456.42" y="638.26" width="0.9" height="0.9" fill="#FFFFFF" opacity="0.55"/>
<rect x="432.53" y="655.07" width="0.9" height="0.9" fill="#FFFFFF" opacity="0.55"/>
<rect x="449.39" y="657.2" width="0.9" height="0.9" fill="#FFFFFF" opacity="0.55"/>
<rect x="461.48" y="636.26" width="0.9" height="0.9" fill="#FFFFFF" opacity="0.55"/>
<rect x="437.59" y="649.78" width="0.9" height="0.9" fill="#FFFFFF" opacity="0.55"/>
<rect x="448.82" y="656.87" width="0.9" height="0.9" fill="#FFFFFF" opacity="0.55"/>
<rect x="463.27" y="624.61" width="0.9" height="0.9" fill="#FFFFFF" opacity="0.55"/>
<rect x="422.11" y="668.97" width="0.9" height="0.9" fill="#FFFFFF" opacity="0.55"/>
<rect x="461.26" y="623.31" width="0.9" height="0.9" fill="#FFFFFF" opacity="0.55"/>
<rect x="440.46" y="657.15" width="0.9" height="0.9" fill="#FFFFFF" opacity="0.55"/>
<rect x="447.36" y="643.64" width="0.9" height="0.9" fill="#FFFFFF" opacity="0.55"/>
<rect x="462.51" y="644.15" width="0.9" height="0.9" fill="#FFFFFF" opacity="0.55"/>
<rect x="463.28" y="634.46" width="0.9" height="0.9" fill="#FFFFFF" opacity="0.55"/>
<rect x="451.83" y="647.9" width="0.9" height="0.9" fill="#FFFFFF" opacity="0.55"/>
<rect x="420.15" y="667.64" width="0.9" height="0.9" fill="#FFFFFF" opacity="0.55"/>
<rect x="447.38" y="648.55" width="0.9" height="0.9" fill="#FFFFFF" opacity="0.55"/>
<rect x="465.31" y="623.89" width="0.9" height="0.9" fill="#FFFFFF" opacity="0.55"/>
<rect x="430.93" y="655.79" width="0.9" height="0.9" fill="#FFFFFF" opacity="0.55"/>
<rect x="463.15" y="638.96" width="0.9" height="0.9" fill="#FFFFFF" opacity="0.55"/>
<rect x="438.46" y="656.08" width="0.9" height="0.9" fill="#FFFFFF" opacity="0.55"/>
<rect x="428.45" y="665.31" width="0.9" height="0.9" fill="#FFFFFF" opacity="0.55"/>
<rect x="461" y="625.23" width="0.9" height="0.9" fill="#FFFFFF" opacity="0.55"/>
<rect x="457.17" y="635.73" width="0.9" height="0.9" fill="#FFFFFF" opacity="0.55"/>
<rect x="454.55" y="635.49" width="0.9" height="0.9" fill="#FFFFFF" opacity="0.55"/>
<rect x="452.68" y="651.93" width="0.9" height="0.9" fill="#FFFFFF" opacity="0.55"/>
<rect x="441.49" y="645.64" width="0.9" height="0.9" fill="#FFFFFF" opacity="0.55"/>
<rect x="458.84" y="639.03" width="0.9" height="0.9" fill="#FFFFFF" opacity="0.55"/>
<rect x="446.66" y="651.91" width="0.9" height="0.9" fill="#FFFFFF" opacity="0.55"/>
<rect x="431.75" y="659.43" width="0.9" height="0.9" fill="#FFFFFF" opacity="0.55"/>
<rect x="445.01" y="652.22" width="0.9" height="0.9" fill="#FFFFFF" opacity="0.55"/>
<rect x="460.7" y="636.14" width="0.9" height="0.9" fill="#FFFFFF" opacity="0.55"/>
<rect x="453.35" y="656.85" width="0.9" height="0.9" fill="#FFFFFF" opacity="0.55"/>
<rect x="460.46" y="640.59" width="0.9" height="0.9" fill="#FFFFFF" opacity="0.55"/>
<rect x="451.62" y="633.77" width="0.9" height="0.9" fill="#FFFFFF" opacity="0.55"/>
<rect x="417.4" y="668.12" width="0.9" height="0.9" fill="#FFFFFF" opacity="0.55"/>
<rect x="441.75" y="659.61" width="0.9" height="0.9" fill="#FFFFFF" opacity="0.55"/>
<rect x="428.08" y="656.53" width="0.9" height="0.9" fill="#FFFFFF" opacity="0.55"/>
<rect x="455.92" y="649.96" width="0.9" height="0.9" fill="#FFFFFF" opacity="0.55"/>
<rect x="457.16" y="631.81" width="0.9" height="0.9" fill="#FFFFFF" opacity="0.55"/>
<rect x="444.9" y="639.97" width="0.9" height="0.9" fill="#FFFFFF" opacity="0.55"/>
<rect x="466.02" y="622.59" width="0.9" height="0.9" fill="#FFFFFF" opacity="0.55"/>
<rect x="426.9" y="660.42" width="0.9" height="0.9" fill="#FFFFFF" opacity="0.55"/>
<rect x="432.75" y="660.28" width="0.9" height="0.9" fill="#FFFFFF" opacity="0.55"/>
<rect x="440.89" y="648.81" width="0.9" height="0.9" fill="#FFFFFF" opacity="0.55"/>
<rect x="465.16" y="622.07" width="0.9" height="0.9" fill="#FFFFFF" opacity="0.55"/>
<rect x="426.16" y="658.6" width="0.9" height="0.9" fill="#FFFFFF" opacity="0.55"/>
<rect x="429.09" y="656.27" width="0.9" height="0.9" fill="#FFFFFF" opacity="0.55"/>
<rect x="459.69" y="625.76" width="0.9" height="0.9" fill="#FFFFFF" opacity="0.55"/>
<rect x="454.46" y="630.41" width="0.9" height="0.9" fill="#FFFFFF" opacity="0.55"/>
<rect x="448.12" y="656.37" width="0.9" height="0.9" fill="#FFFFFF" opacity="0.55"/>
<rect x="443.91" y="660.43" width="0.9" height="0.9" fill="#FFFFFF" opacity="0.55"/>
<rect x="422.22" y="664.69" width="0.9" height="0.9" fill="#FFFFFF" opacity="0.55"/>
<rect x="456.51" y="653.53" width="0.9" height="0.9" fill="#FFFFFF" opacity="0.55"/>
<rect x="429.35" y="662.71" width="0.9" height="0.9" fill="#FFFFFF" opacity="0.55"/>
<rect x="434.02" y="658.24" width="0.9" height="0.9" fill="#FFFFFF" opacity="0.55"/>
<rect x="464.32" y="628.2" width="0.9" height="0.9" fill="#FFFFFF" opacity="0.55"/>
<rect x="457.8" y="643.31" width="0.9" height="0.9" fill="#FFFFFF" opacity="0.55"/>
<rect x="464.89" y="630.75" width="0.9" height="0.9" fill="#FFFFFF" opacity="0.55"/>
<rect x="423.72" y="664.42" width="0.9" height="0.9" fill="#FFFFFF" opacity="0.55"/>
<rect x="443.17" y="657.12" width="0.9" height="0.9" fill="#FFFFFF" opacity="0.55"/>
<rect x="461.97" y="631.37" width="0.9" height="0.9" fill="#FFFFFF" opacity="0.55"/>
<rect x="434.99" y="657.16" width="0.9" height="0.9" fill="#FFFFFF" opacity="0.55"/>
<rect x="451.55" y="651.22" width="0.9" height="0.9" fill="#FFFFFF" opacity="0.55"/>
<rect x="452.06" y="643.5" width="0.9" height="0.9" fill="#FFFFFF" opacity="0.55"/>
<rect x="461.68" y="626.35" width="0.9" height="0.9" fill="#FFFFFF" opacity="0.55"/>
<rect x="460.01" y="637.48" width="0.9" height="0.9" fill="#FFFFFF" opacity="0.55"/>
<rect x="449.55" y="636.6" width="0.9" height="0.9" fill="#FFFFFF" opacity="0.55"/>
<rect x="430.06" y="657.51" width="0.9" height="0.9" fill="#FFFFFF" opacity="0.55"/>
<rect x="433.87" y="663.67" width="0.9" height="0.9" fill="#FFFFFF" opacity="0.55"/>
<rect x="457.41" y="651.76" width="0.9" height="0.9" fill="#FFFFFF" opacity="0.55"/>
<rect x="434.4" y="662.33" width="0.9" height="0.9" fill="#FFFFFF" opacity="0.55"/>
<rect x="448.65" y="658.94" width="0.9" height="0.9" fill="#FFFFFF" opacity="0.55"/>
<rect x="449.82" y="641.66" width="0.9" height="0.9" fill="#FFFFFF" opacity="0.55"/>
<rect x="464.1" y="638.07" width="0.9" height="0.9" fill="#FFFFFF" opacity="0.55"/>
<rect x="448.91" y="648.23" width="0.9" height="0.9" fill="#FFFFFF" opacity="0.55"/>
<rect x="436.28" y="649.19" width="0.9" height="0.9" fill="#FFFFFF" opacity="0.55"/>
<rect x="424.11" y="668.97" width="0.9" height="0.9" fill="#FFFFFF" opacity="0.55"/>
<rect x="467.54" y="629.25" width="0.9" height="0.9" fill="#FFFFFF" opacity="0.55"/>
<rect x="449.02" y="656.7" width="0.9" height="0.9" fill="#FFFFFF" opacity="0.55"/>
<rect x="425.33" y="668" width="0.9" height="0.9" fill="#FFFFFF" opacity="0.55"/>
<rect x="458.62" y="642.61" width="0.9" height="0.9" fill="#FFFFFF" opacity="0.55"/>
<rect x="446.75" y="659.26" width="0.9" height="0.9" fill="#FFFFFF" opacity="0.55"/>
<rect x="458.9" y="641.07" width="0.9" height="0.9" fill="#FFFFFF" opacity="0.55"/>
<rect x="442.82" y="653.25" width="0.9" height="0.9" fill="#FFFFFF" opacity="0.55"/>
<rect x="445.67" y="644.61" width="0.9" height="0.9" fill="#FFFFFF" opacity="0.55"/>
<rect x="464.86" y="619.07" width="0.9" height="0.9" fill="#FFFFFF" opacity="0.55"/>
<rect x="467.26" y="623.93" width="0.9" height="0.9" fill="#FFFFFF" opacity="0.55"/>
<rect x="459.39" y="626.13" width="0.9" height="0.9" fill="#FFFFFF" opacity="0.55"/>
<rect x="453.79" y="632.59" width="0.9" height="0.9" fill="#FFFFFF" opacity="0.55"/>
<rect x="421.83" y="663.41" width="0.9" height="0.9" fill="#FFFFFF" opacity="0.55"/>
<rect x="454.05" y="651.37" width="0.9" height="0.9" fill="#FFFFFF" opacity="0.55"/>
<rect x="432.09" y="659.39" width="0.9" height="0.9" fill="#FFFFFF" opacity="0.55"/>
<rect x="438.76" y="664.25" width="0.9" height="0.9" fill="#FFFFFF" opacity="0.55"/>
<rect x="421.14" y="664.23" width="0.9" height="0.9" fill="#FFFFFF" opacity="0.55"/>
<rect x="447.66" y="658.95" width="0.9" height="0.9" fill="#FFFFFF" opacity="0.55"/>
<rect x="465.88" y="624.29" width="0.9" height="0.9" fill="#FFFFFF" opacity="0.55"/>
<rect x="458.77" y="642.67" width="0.9" height="0.9" fill="#FFFFFF" opacity="0.55"/>
<rect x="436.64" y="650.59" width="0.9" height="0.9" fill="#FFFFFF" opacity="0.55"/>
<rect x="457.94" y="627" width="0.9" height="0.9" fill="#FFFFFF" opacity="0.55"/>
<rect x="439.67" y="647.96" width="0.9" height="0.9" fill="#FFFFFF" opacity="0.55"/>
<rect x="464.33" y="633.02" width="0.9" height="0.9" fill="#FFFFFF" opacity="0.55"/>
<rect x="459.29" y="642.03" width="0.9" height="0.9" fill="#FFFFFF" opacity="0.55"/>
<rect x="444.6" y="650.86" width="0.9" height="0.9" fill="#FFFFFF" opacity="0.55"/>
<rect x="448.64" y="638.28" width="0.9" height="0.9" fill="#FFFFFF" opacity="0.55"/>
<rect x="439.98" y="661.65" width="0.9" height="0.9" fill="#FFFFFF" opacity="0.55"/>
<rect x="430.88" y="654.21" width="0.9" height="0.9" fill="#FFFFFF" opacity="0.55"/>
</g>
<rect x="389" y="588.8" width="85.9" height="84.1" fill="none" stroke="#111" stroke-width="1.3"/>
<text x="391.2" y="597.55" font-size="8.2" text-anchor="start" fill="#231F20" stroke="#231F20" stroke-width="0.16" textLength="18" lengthAdjust="spacingAndGlyphs">4992</text>
<text x="453.5" y="670.95" font-size="8.2" text-anchor="start" fill="#231F20" stroke="#231F20" stroke-width="0.16" textLength="18" lengthAdjust="spacingAndGlyphs">2792</text>
<line x1="386.2" y1="591.8" x2="389" y2="591.8" stroke="#231F20" stroke-width="0.9"/>
<text x="383.9" y="594.75" font-size="8.2" text-anchor="end" fill="#231F20" stroke="#231F20" stroke-width="0.16" textLength="13.5" lengthAdjust="spacingAndGlyphs">100</text>
<line x1="386.2" y1="612.2" x2="389" y2="612.2" stroke="#231F20" stroke-width="0.9"/>
<text x="383.9" y="615.15" font-size="8.2" text-anchor="end" fill="#231F20" stroke="#231F20" stroke-width="0.16" textLength="9" lengthAdjust="spacingAndGlyphs">75</text>
<line x1="386.2" y1="632.3" x2="389" y2="632.3" stroke="#231F20" stroke-width="0.9"/>
<text x="383.9" y="635.25" font-size="8.2" text-anchor="end" fill="#231F20" stroke="#231F20" stroke-width="0.16" textLength="9" lengthAdjust="spacingAndGlyphs">50</text>
<line x1="386.2" y1="652.8" x2="389" y2="652.8" stroke="#231F20" stroke-width="0.9"/>
<text x="383.9" y="655.75" font-size="8.2" text-anchor="end" fill="#231F20" stroke="#231F20" stroke-width="0.16" textLength="9" lengthAdjust="spacingAndGlyphs">25</text>
<line x1="386.2" y1="672.5" x2="389" y2="672.5" stroke="#231F20" stroke-width="0.9"/>
<text x="383.9" y="675.45" font-size="8.2" text-anchor="end" fill="#231F20" stroke="#231F20" stroke-width="0.16" textLength="4.5" lengthAdjust="spacingAndGlyphs">0</text>
<line x1="389.6" y1="672.9" x2="389.6" y2="675.5" stroke="#231F20" stroke-width="0.9"/>
<text x="389.6" y="685.85" font-size="8.2" text-anchor="middle" fill="#231F20" stroke="#231F20" stroke-width="0.16" textLength="4.5" lengthAdjust="spacingAndGlyphs">0</text>
<line x1="409.7" y1="672.9" x2="409.7" y2="675.5" stroke="#231F20" stroke-width="0.9"/>
<text x="409.7" y="685.85" font-size="8.2" text-anchor="middle" fill="#231F20" stroke="#231F20" stroke-width="0.16" textLength="9" lengthAdjust="spacingAndGlyphs">25</text>
<line x1="430.1" y1="672.9" x2="430.1" y2="675.5" stroke="#231F20" stroke-width="0.9"/>
<text x="430.1" y="685.85" font-size="8.2" text-anchor="middle" fill="#231F20" stroke="#231F20" stroke-width="0.16" textLength="9" lengthAdjust="spacingAndGlyphs">50</text>
<line x1="450.4" y1="672.9" x2="450.4" y2="675.5" stroke="#231F20" stroke-width="0.9"/>
<text x="450.4" y="685.85" font-size="8.2" text-anchor="middle" fill="#231F20" stroke="#231F20" stroke-width="0.16" textLength="9" lengthAdjust="spacingAndGlyphs">75</text>
<line x1="470.5" y1="672.9" x2="470.5" y2="675.5" stroke="#231F20" stroke-width="0.9"/>
<text x="470.5" y="685.85" font-size="8.2" text-anchor="middle" fill="#231F20" stroke="#231F20" stroke-width="0.16" textLength="13.5" lengthAdjust="spacingAndGlyphs">100</text>
<g transform="translate(389 699.8)"><text x="0" y="0" font-size="10.2" fill="#231F20" stroke="#231F20" stroke-width="0.22" textLength="17.5" lengthAdjust="spacingAndGlyphs">mCG (</text><text x="17.9" y="0" font-size="10.2" font-style="italic" fill="#231F20" stroke="#231F20" stroke-width="0.22" textLength="43" lengthAdjust="spacingAndGlyphs">NHD13/Setd2</text><text x="61.5" y="-4.4" font-size="6" fill="#231F20" stroke="#231F20" stroke-width="0.1" textLength="7" lengthAdjust="spacingAndGlyphs">f/f</text><text x="69" y="0" font-size="10.2" fill="#231F20" stroke="#231F20" stroke-width="0.22" textLength="18.4" lengthAdjust="spacingAndGlyphs">) [%]</text></g>
<g transform="translate(366.2 677.7) rotate(-90)"><text x="0" y="0" font-size="10.2" fill="#231F20" stroke="#231F20" stroke-width="0.22" textLength="17.5" lengthAdjust="spacingAndGlyphs">mCG (</text><text x="17.9" y="0" font-size="10.2" font-style="italic" fill="#231F20" stroke="#231F20" stroke-width="0.22" textLength="43" lengthAdjust="spacingAndGlyphs">NHD13/Setd2</text><text x="61.5" y="-4.4" font-size="6" fill="#231F20" stroke="#231F20" stroke-width="0.1" textLength="13" lengthAdjust="spacingAndGlyphs">&#916;/&#916;</text><text x="75" y="0" font-size="10.2" fill="#231F20" stroke="#231F20" stroke-width="0.22" textLength="18.4" lengthAdjust="spacingAndGlyphs">) [%]</text></g>
<line x1="262.5" y1="596.2" x2="262.5" y2="663.7" stroke="#231F20" stroke-width="1"/>
<line x1="262" y1="663.7" x2="325" y2="663.7" stroke="#231F20" stroke-width="1"/>
<line x1="260.2" y1="611.2" x2="262.5" y2="611.2" stroke="#231F20" stroke-width="0.8"/>
<text x="256.5" y="614.3" font-size="8.6" text-anchor="end" fill="#231F20" stroke="#231F20" stroke-width="0.16" textLength="11.5" lengthAdjust="spacingAndGlyphs">0.9</text>
<line x1="260.2" y1="628.7" x2="262.5" y2="628.7" stroke="#231F20" stroke-width="0.8"/>
<text x="256.5" y="631.8" font-size="8.6" text-anchor="end" fill="#231F20" stroke="#231F20" stroke-width="0.16" textLength="11.5" lengthAdjust="spacingAndGlyphs">0.6</text>
<line x1="260.2" y1="646.2" x2="262.5" y2="646.2" stroke="#231F20" stroke-width="0.8"/>
<text x="256.5" y="649.3" font-size="8.6" text-anchor="end" fill="#231F20" stroke="#231F20" stroke-width="0.16" textLength="11.5" lengthAdjust="spacingAndGlyphs">0.3</text>
<line x1="260.2" y1="663.7" x2="262.5" y2="663.7" stroke="#231F20" stroke-width="0.8"/>
<text x="256.5" y="666.8" font-size="8.6" text-anchor="end" fill="#231F20" stroke="#231F20" stroke-width="0.16" textLength="11.5" lengthAdjust="spacingAndGlyphs">0.0</text>
<line x1="276.2" y1="610.5" x2="276.2" y2="660" stroke="#231F20" stroke-width="0.9"/>
<line x1="272.4" y1="610.5" x2="280" y2="610.5" stroke="#231F20" stroke-width="0.9"/>
<line x1="272.4" y1="660" x2="280" y2="660" stroke="#231F20" stroke-width="0.9"/>
<rect x="268.7" y="629.5" width="15" height="12.2" fill="#284A8A"/>
<line x1="268.7" y1="635.7" x2="283.7" y2="635.7" stroke="#111" stroke-width="1.3"/>
<line x1="276.2" y1="663.7" x2="276.2" y2="666.2" stroke="#231F20" stroke-width="0.8"/>
<line x1="310.6" y1="605.5" x2="310.6" y2="660.7" stroke="#231F20" stroke-width="0.9"/>
<line x1="306.8" y1="605.5" x2="314.4" y2="605.5" stroke="#231F20" stroke-width="0.9"/>
<line x1="306.8" y1="660.7" x2="314.4" y2="660.7" stroke="#231F20" stroke-width="0.9"/>
<rect x="303" y="615" width="15.2" height="28" fill="#A5002A"/>
<line x1="303" y1="623.2" x2="318.2" y2="623.2" stroke="#111" stroke-width="1.3"/>
<line x1="310.6" y1="663.7" x2="310.6" y2="666.2" stroke="#231F20" stroke-width="0.8"/>
<line x1="275.5" y1="601.2" x2="310.5" y2="601.2" stroke="#231F20" stroke-width="1"/>
<line x1="275.5" y1="601.2" x2="275.5" y2="603.2" stroke="#231F20" stroke-width="0.8"/>
<line x1="310.5" y1="601.2" x2="310.5" y2="603.2" stroke="#231F20" stroke-width="0.8"/>
<text x="293" y="601.4" font-size="8" text-anchor="middle" fill="#231F20" stroke="#231F20" stroke-width="0.35" letter-spacing="0.1">****</text>
<text x="225.2" y="633.88" font-size="9.4" text-anchor="middle" fill="#231F20" stroke="#231F20" stroke-width="0.16" textLength="61" lengthAdjust="spacingAndGlyphs" transform="rotate(-90 225.2 630.5)">Mean methylation</text>
<text x="237.2" y="631.88" font-size="9.4" text-anchor="middle" fill="#231F20" stroke="#231F20" stroke-width="0.16" textLength="45" lengthAdjust="spacingAndGlyphs" transform="rotate(-90 237.2 628.5)">level of DMRs</text>
<text x="276.2" y="675.52" font-size="8.4" text-anchor="middle" fill="#231F20" font-style="italic" stroke="#231F20" stroke-width="0.16" textLength="27" lengthAdjust="spacingAndGlyphs">NHD13</text>
<text x="264.5" y="686.7" font-size="8.4" font-style="italic" fill="#231F20" textLength="19.5" lengthAdjust="spacingAndGlyphs" stroke="#231F20" stroke-width="0.15">/Setd</text>
<text x="284" y="683.2" font-size="5.8" fill="#231F20" textLength="5.8" lengthAdjust="spacingAndGlyphs" stroke="#231F20" stroke-width="0.15">f/f</text>
<text x="310" y="675.52" font-size="8.4" text-anchor="middle" fill="#231F20" font-style="italic" stroke="#231F20" stroke-width="0.16" textLength="27" lengthAdjust="spacingAndGlyphs">NHD13</text>
<text x="298.3" y="686.7" font-size="8.4" font-style="italic" fill="#231F20" textLength="19.5" lengthAdjust="spacingAndGlyphs" stroke="#231F20" stroke-width="0.15">/Setd</text>
<text x="317.8" y="683.2" font-size="5.8" fill="#231F20" textLength="5.8" lengthAdjust="spacingAndGlyphs" stroke="#231F20" stroke-width="0.15">&#916;/&#916;</text>
<text x="6.9" y="16.8" font-size="12.4" font-weight="bold" fill="#000" stroke="#000" stroke-width="0.3">A</text>
<text x="171.4" y="16.8" font-size="12.4" font-weight="bold" fill="#000" stroke="#000" stroke-width="0.3">B</text>
<text x="6.6" y="404.3" font-size="12.4" font-weight="bold" fill="#000" stroke="#000" stroke-width="0.3">C</text>
<text x="340.3" y="404.3" font-size="12.4" font-weight="bold" fill="#000" stroke="#000" stroke-width="0.3">D</text>
<text x="341.1" y="574.9" font-size="12.4" font-weight="bold" fill="#000" stroke="#000" stroke-width="0.3">E</text>
<text x="202" y="604.9" font-size="12.4" font-weight="bold" fill="#000" stroke="#000" stroke-width="0.3">F</text>
<rect x="0" y="0" width="520" height="1.2" fill="#000"/>
<rect x="0" y="0" width="1.2" height="709" fill="#000"/>
<rect x="518.8" y="0" width="1.2" height="709" fill="#000"/>
<rect x="0" y="707.7" width="520" height="1.3" fill="#000"/>
</svg></body></html>
